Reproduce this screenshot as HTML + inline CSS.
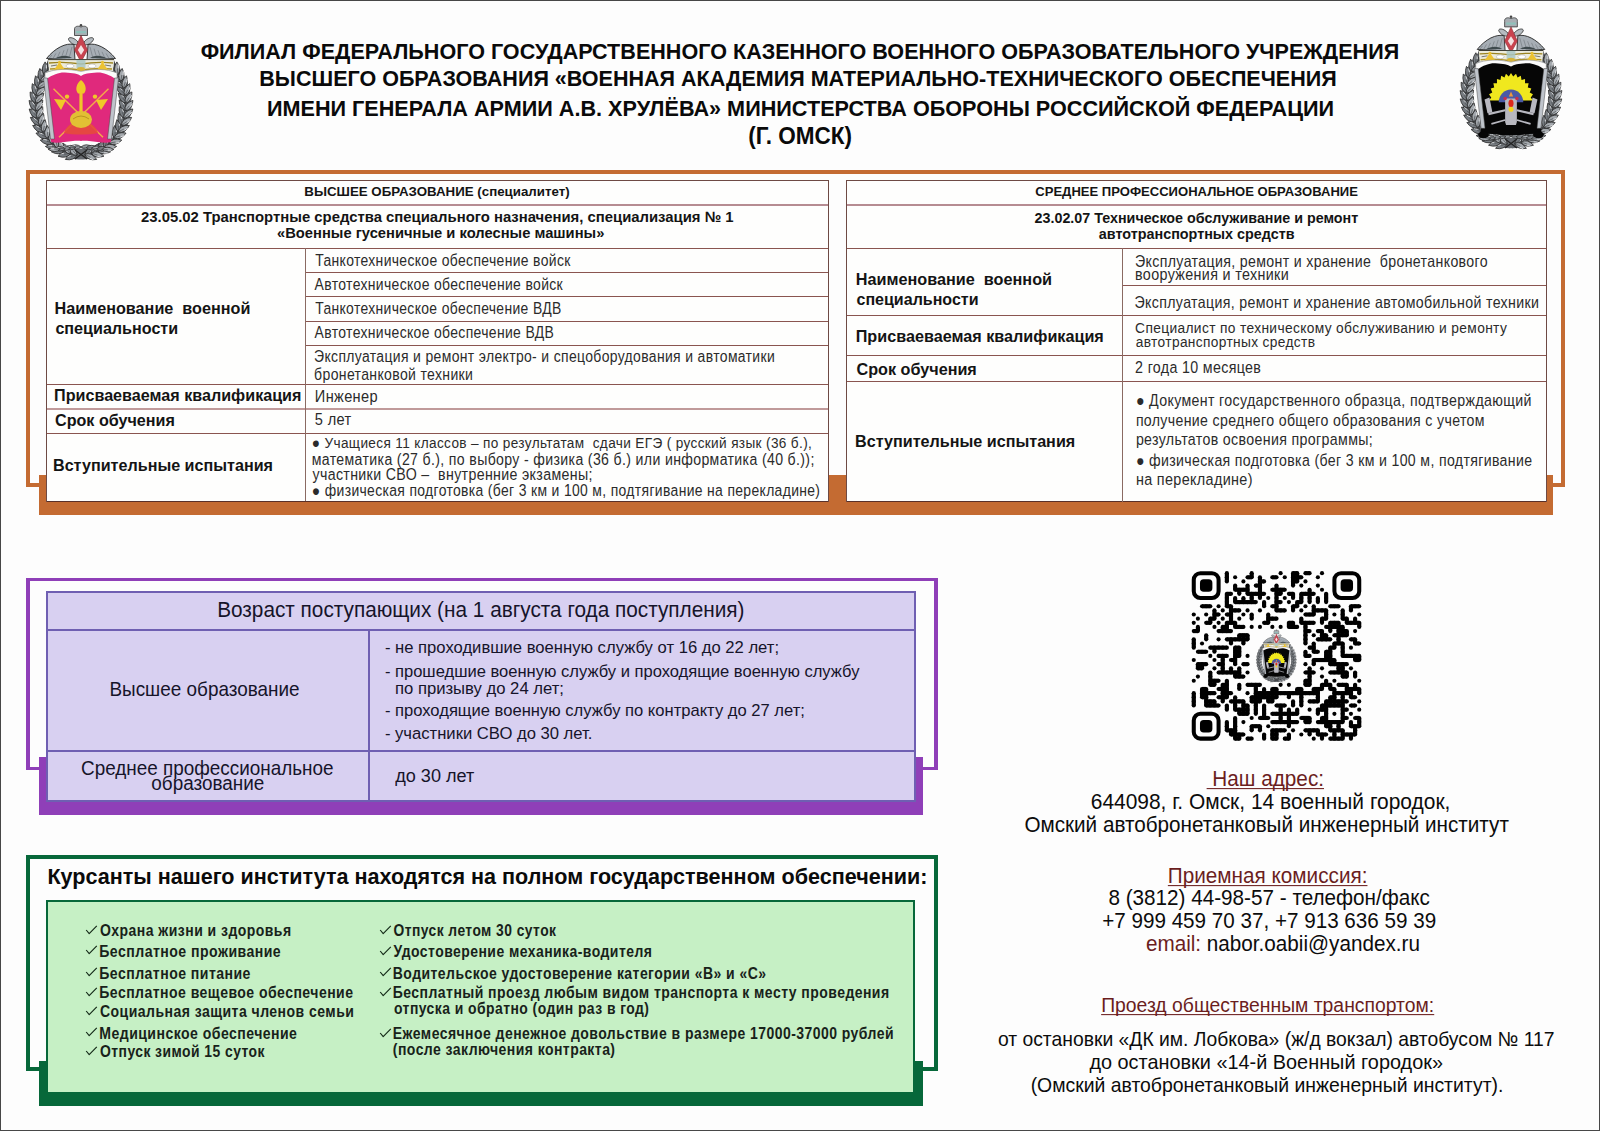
<!DOCTYPE html>
<html><head><meta charset="utf-8"><title>Omsk</title>
<style>
html,body{margin:0;padding:0;}
body{width:1600px;height:1131px;position:relative;overflow:hidden;background:#fdfdfd;font-family:"Liberation Sans",sans-serif;}
.a{position:absolute;}
.t{position:absolute;white-space:pre;}
svg{position:absolute;}
</style></head><body>
<div class="a" style="left:0px;top:0px;width:1600px;height:1px;background:#474747;"></div><div class="a" style="left:0px;top:1130px;width:1600px;height:1px;background:#474747;"></div><div class="a" style="left:0px;top:0px;width:1px;height:1131px;background:#474747;"></div><div class="a" style="left:1599px;top:0px;width:1px;height:1131px;background:#474747;"></div><div class="a" style="left:26px;top:170px;width:1539px;height:4px;background:#c46b32;"></div><div class="a" style="left:26px;top:170px;width:4px;height:317px;background:#c46b32;"></div><div class="a" style="left:1561px;top:170px;width:4px;height:317px;background:#c46b32;"></div><div class="a" style="left:26px;top:483px;width:14px;height:4px;background:#c46b32;"></div><div class="a" style="left:1552px;top:483px;width:13px;height:4px;background:#c46b32;"></div><div class="a" style="left:39px;top:475px;width:1514px;height:40px;background:#c46b32;"></div><div class="a" style="left:46px;top:180px;width:783px;height:321px;background:#fefefd;"></div><div class="a" style="left:846px;top:180px;width:701px;height:321px;background:#fefefd;"></div><div class="a" style="left:46px;top:180px;width:783px;height:1px;background:#6e4a44;"></div><div class="a" style="left:46px;top:204px;width:783px;height:2px;background:#b68c92;"></div><div class="a" style="left:46px;top:248px;width:783px;height:1px;background:#8a5550;"></div><div class="a" style="left:305px;top:272px;width:524px;height:1px;background:#8a5550;"></div><div class="a" style="left:305px;top:296px;width:524px;height:1px;background:#8a5550;"></div><div class="a" style="left:305px;top:321px;width:524px;height:1px;background:#8a5550;"></div><div class="a" style="left:305px;top:345px;width:524px;height:1px;background:#8a5550;"></div><div class="a" style="left:46px;top:384px;width:783px;height:1px;background:#8a5550;"></div><div class="a" style="left:46px;top:408px;width:783px;height:2px;background:#c09a9a;"></div><div class="a" style="left:46px;top:433px;width:783px;height:1px;background:#8a5550;"></div><div class="a" style="left:46px;top:501px;width:783px;height:1px;background:#5a3028;"></div><div class="a" style="left:46px;top:180px;width:1px;height:322px;background:#6e4a44;"></div><div class="a" style="left:828px;top:180px;width:1px;height:322px;background:#6e4a44;"></div><div class="a" style="left:305px;top:248px;width:1px;height:253px;background:#8a6a62;"></div><div class="a" style="left:846px;top:180px;width:701px;height:1px;background:#6e4a44;"></div><div class="a" style="left:846px;top:204px;width:701px;height:2px;background:#b68c92;"></div><div class="a" style="left:846px;top:248px;width:701px;height:1px;background:#8a5550;"></div><div class="a" style="left:1122px;top:285px;width:425px;height:1px;background:#8a5550;"></div><div class="a" style="left:846px;top:315px;width:701px;height:1px;background:#8a5550;"></div><div class="a" style="left:846px;top:355px;width:701px;height:1px;background:#8a5550;"></div><div class="a" style="left:846px;top:381px;width:701px;height:1px;background:#8a5550;"></div><div class="a" style="left:846px;top:501px;width:701px;height:1px;background:#5a3028;"></div><div class="a" style="left:846px;top:180px;width:1px;height:322px;background:#6e4a44;"></div><div class="a" style="left:1546px;top:180px;width:1px;height:322px;background:#6e4a44;"></div><div class="a" style="left:1122px;top:248px;width:1px;height:254px;background:#8a6a62;"></div><div class="a" style="left:26px;top:578px;width:912px;height:3px;background:#8f3fb8;"></div><div class="a" style="left:26px;top:578px;width:4px;height:192px;background:#8f3fb8;"></div><div class="a" style="left:934px;top:578px;width:4px;height:192px;background:#8f3fb8;"></div><div class="a" style="left:26px;top:767px;width:14px;height:3px;background:#8f3fb8;"></div><div class="a" style="left:922px;top:767px;width:16px;height:3px;background:#8f3fb8;"></div><div class="a" style="left:39px;top:757px;width:884px;height:58px;background:#8f3fb8;"></div><div class="a" style="left:46px;top:591px;width:870px;height:211px;background:#d8d0f1;border:2px solid #6f5fb2;box-sizing:border-box;"></div><div class="a" style="left:46px;top:629px;width:870px;height:2px;background:#6f5fb2;"></div><div class="a" style="left:46px;top:750px;width:870px;height:2px;background:#6f5fb2;"></div><div class="a" style="left:368px;top:630px;width:2px;height:170px;background:#6f5fb2;"></div><div class="a" style="left:26px;top:855px;width:912px;height:4px;background:#07683a;"></div><div class="a" style="left:26px;top:855px;width:4px;height:216px;background:#07683a;"></div><div class="a" style="left:934px;top:855px;width:4px;height:216px;background:#07683a;"></div><div class="a" style="left:26px;top:1067px;width:14px;height:4px;background:#07683a;"></div><div class="a" style="left:922px;top:1067px;width:16px;height:4px;background:#07683a;"></div><div class="a" style="left:39px;top:1061px;width:884px;height:45px;background:#07683a;"></div><div class="a" style="left:46px;top:900px;width:869px;height:192px;background:#c6f0c5;"></div><div class="a" style="left:46px;top:900px;width:869px;height:2px;background:#07683a;"></div><div class="a" style="left:46px;top:900px;width:2px;height:192px;background:#07683a;"></div><div class="a" style="left:913px;top:900px;width:2px;height:192px;background:#07683a;"></div><div class="t" style="top:41.23px;font-size:21.586px;line-height:21.586px;font-weight:700;color:#0a0a0a;left:200.70px;transform:scaleY(1.03);transform-origin:0 18.27px;">ФИЛИАЛ ФЕДЕРАЛЬНОГО ГОСУДАРСТВЕННОГО КАЗЕННОГО ВОЕННОГО ОБРАЗОВАТЕЛЬНОГО УЧРЕЖДЕНИЯ</div><div class="t" style="top:69.26px;font-size:21.547px;line-height:21.547px;font-weight:700;color:#0a0a0a;left:259.32px;transform:scaleY(1.03);transform-origin:0 18.24px;">ВЫСШЕГО ОБРАЗОВАНИЯ «ВОЕННАЯ АКАДЕМИЯ МАТЕРИАЛЬНО-ТЕХНИЧЕСКОГО ОБЕСПЕЧЕНИЯ</div><div class="t" style="top:98.19px;font-size:21.636px;line-height:21.636px;font-weight:700;color:#0a0a0a;left:266.92px;transform:scaleY(1.03);transform-origin:0 18.31px;">ИМЕНИ ГЕНЕРАЛА АРМИИ А.В. ХРУЛЁВА» МИНИСТЕРСТВА ОБОРОНЫ РОССИЙСКОЙ ФЕДЕРАЦИИ</div><div class="t" style="top:126.41px;font-size:22.547px;line-height:22.547px;font-weight:700;color:#0a0a0a;left:748.27px;transform:scaleY(1.03);transform-origin:0 19.09px;">(Г. ОМСК)</div><div class="t" style="top:185.23px;font-size:13.309px;line-height:13.309px;font-weight:700;color:#141414;left:304.33px;">ВЫСШЕЕ ОБРАЗОВАНИЕ (специалитет)</div><div class="t" style="top:209.91px;font-size:14.872px;line-height:14.872px;font-weight:700;color:#141414;left:141.00px;">23.05.02 Транспортные средства специального назначения, специализация № 1</div><div class="t" style="top:226.02px;font-size:14.741px;line-height:14.741px;font-weight:700;color:#141414;left:277.00px;">«Военные гусеничные и колесные машины»</div><div class="t" style="top:299.79px;font-size:16.194px;line-height:16.194px;font-weight:700;color:#141414;left:54.59px;">Наименование  военной</div><div class="t" style="top:319.83px;font-size:16.147px;line-height:16.147px;font-weight:700;color:#141414;left:55.40px;">специальности</div><div class="t" style="top:386.83px;font-size:16.152px;line-height:16.152px;font-weight:700;color:#141414;left:54.09px;">Присваеваемая квалификация</div><div class="t" style="top:411.84px;font-size:16.137px;line-height:16.137px;font-weight:700;color:#141414;left:55.00px;">Срок обучения</div><div class="t" style="top:456.82px;font-size:16.156px;line-height:16.156px;font-weight:700;color:#141414;left:52.99px;">Вступительные испытания</div><div class="t" style="top:254.71px;font-size:13.932px;line-height:13.932px;font-weight:400;color:#2b2b2b;left:315.20px;letter-spacing:0.35px;transform:scaleY(1.12);transform-origin:0 11.79px;">Танкотехническое обеспечение войск</div><div class="t" style="top:278.69px;font-size:13.951px;line-height:13.951px;font-weight:400;color:#2b2b2b;left:314.60px;letter-spacing:0.35px;transform:scaleY(1.12);transform-origin:0 11.81px;">Автотехническое обеспечение войск</div><div class="t" style="top:302.71px;font-size:13.928px;line-height:13.928px;font-weight:400;color:#2b2b2b;left:315.20px;letter-spacing:0.35px;transform:scaleY(1.12);transform-origin:0 11.79px;">Танкотехническое обеспечение ВДВ</div><div class="t" style="top:326.69px;font-size:13.953px;line-height:13.953px;font-weight:400;color:#2b2b2b;left:314.60px;letter-spacing:0.35px;transform:scaleY(1.12);transform-origin:0 11.81px;">Автотехническое обеспечение ВДВ</div><div class="t" style="top:350.68px;font-size:13.961px;line-height:13.961px;font-weight:400;color:#2b2b2b;left:314.10px;letter-spacing:0.35px;transform:scaleY(1.12);transform-origin:0 11.82px;">Эксплуатация и ремонт электро- и спецоборудования и автоматики</div><div class="t" style="top:367.61px;font-size:14.049px;line-height:14.049px;font-weight:400;color:#2b2b2b;left:314.10px;letter-spacing:0.35px;transform:scaleY(1.12);transform-origin:0 11.89px;">бронетанковой техники</div><div class="t" style="top:390.14px;font-size:14.6px;line-height:14.6px;font-weight:400;color:#2b2b2b;left:314.80px;letter-spacing:0.35px;transform:scaleY(1.12);transform-origin:0 12.36px;">Инженер</div><div class="t" style="top:413.14px;font-size:14.6px;line-height:14.6px;font-weight:400;color:#2b2b2b;left:314.80px;letter-spacing:0.35px;transform:scaleY(1.12);transform-origin:0 12.36px;">5 лет</div><div class="t" style="top:436.98px;font-size:13.614px;line-height:13.614px;font-weight:400;color:#2b2b2b;left:311.82px;letter-spacing:0.35px;transform:scaleY(1.12);transform-origin:0 11.52px;">● Учащиеся 11 классов – по результатам  сдачи ЕГЭ ( русский язык (36 б.),</div><div class="t" style="top:452.56px;font-size:14.111px;line-height:14.111px;font-weight:400;color:#2b2b2b;left:311.79px;letter-spacing:0.35px;transform:scaleY(1.12);transform-origin:0 11.94px;">математика (27 б.), по выбору - физика (36 б.) или информатика (40 б.));</div><div class="t" style="top:468.49px;font-size:14.183px;line-height:14.183px;font-weight:400;color:#2b2b2b;left:312.50px;letter-spacing:0.35px;transform:scaleY(1.12);transform-origin:0 12.01px;">участники СВО –  внутренние экзамены;</div><div class="t" style="top:484.72px;font-size:13.919px;line-height:13.919px;font-weight:400;color:#2b2b2b;left:311.80px;letter-spacing:0.35px;transform:scaleY(1.12);transform-origin:0 11.78px;">● физическая подготовка (бег 3 км и 100 м, подтягивание на перекладине)</div><div class="t" style="top:185.45px;font-size:13.059px;line-height:13.059px;font-weight:700;color:#141414;left:1035.30px;">СРЕДНЕЕ ПРОФЕССИОНАЛЬНОЕ ОБРАЗОВАНИЕ</div><div class="t" style="top:211.38px;font-size:14.312px;line-height:14.312px;font-weight:700;color:#141414;left:1034.60px;">23.02.07 Техническое обслуживание и ремонт</div><div class="t" style="top:227.34px;font-size:14.366px;line-height:14.366px;font-weight:700;color:#141414;left:1098.80px;">автотранспортных средств</div><div class="t" style="top:270.75px;font-size:16.244px;line-height:16.244px;font-weight:700;color:#141414;left:855.69px;">Наименование  военной</div><div class="t" style="top:290.92px;font-size:16.04px;line-height:16.04px;font-weight:700;color:#141414;left:856.50px;">специальности</div><div class="t" style="top:327.79px;font-size:16.191px;line-height:16.191px;font-weight:700;color:#141414;left:855.69px;">Присваеваемая квалификация</div><div class="t" style="top:360.78px;font-size:16.205px;line-height:16.205px;font-weight:700;color:#141414;left:856.50px;">Срок обучения</div><div class="t" style="top:432.81px;font-size:16.171px;line-height:16.171px;font-weight:700;color:#141414;left:854.99px;">Вступительные испытания</div><div class="t" style="top:254.50px;font-size:14.175px;line-height:14.175px;font-weight:400;color:#2b2b2b;left:1135.09px;letter-spacing:0.35px;transform:scaleY(1.12);transform-origin:0 12.00px;">Эксплуатация, ремонт и хранение  бронетанкового</div><div class="t" style="top:268.37px;font-size:14.327px;line-height:14.327px;font-weight:400;color:#2b2b2b;left:1135.08px;letter-spacing:0.35px;transform:scaleY(1.12);transform-origin:0 12.13px;">вооружения и техники</div><div class="t" style="top:295.50px;font-size:14.173px;line-height:14.173px;font-weight:400;color:#2b2b2b;left:1134.59px;letter-spacing:0.35px;transform:scaleY(1.12);transform-origin:0 12.00px;">Эксплуатация, ремонт и хранение автомобильной техники</div><div class="t" style="top:321.84px;font-size:13.778px;line-height:13.778px;font-weight:400;color:#2b2b2b;left:1135.11px;letter-spacing:0.35px;transform:scaleY(1.12);transform-origin:0 11.66px;">Специалист по техническому обслуживанию и ремонту</div><div class="t" style="top:335.88px;font-size:13.726px;line-height:13.726px;font-weight:400;color:#2b2b2b;left:1135.80px;letter-spacing:0.35px;transform:scaleY(1.12);transform-origin:0 11.62px;">автотранспортных средств</div><div class="t" style="top:361.45px;font-size:14.239px;line-height:14.239px;font-weight:400;color:#2b2b2b;left:1135.09px;letter-spacing:0.35px;transform:scaleY(1.12);transform-origin:0 12.05px;">2 года 10 месяцев</div><div class="t" style="top:394.48px;font-size:14.201px;line-height:14.201px;font-weight:400;color:#2b2b2b;left:1135.89px;letter-spacing:0.35px;transform:scaleY(1.12);transform-origin:0 12.02px;">● Документ государственного образца, подтверждающий</div><div class="t" style="top:413.52px;font-size:14.147px;line-height:14.147px;font-weight:400;color:#2b2b2b;left:1135.89px;letter-spacing:0.35px;transform:scaleY(1.12);transform-origin:0 11.98px;">получение среднего общего образования с учетом</div><div class="t" style="top:433.49px;font-size:14.19px;line-height:14.19px;font-weight:400;color:#2b2b2b;left:1135.89px;letter-spacing:0.35px;transform:scaleY(1.12);transform-origin:0 12.01px;">результатов освоения программы;</div><div class="t" style="top:453.54px;font-size:14.126px;line-height:14.126px;font-weight:400;color:#2b2b2b;left:1135.89px;letter-spacing:0.35px;transform:scaleY(1.12);transform-origin:0 11.96px;">● физическая подготовка (бег 3 км и 100 м, подтягивание</div><div class="t" style="top:473.32px;font-size:14.392px;line-height:14.392px;font-weight:400;color:#2b2b2b;left:1135.88px;letter-spacing:0.35px;transform:scaleY(1.12);transform-origin:0 12.18px;">на перекладине)</div><div class="t" style="top:599.91px;font-size:20.785px;line-height:20.785px;font-weight:400;color:#16142a;left:217.16px;transform:scaleY(1.025);transform-origin:0 17.59px;">Возраст поступающих (на 1 августа года поступления)</div><div class="t" style="top:640.42px;font-size:16.639px;line-height:16.639px;font-weight:400;color:#16142a;left:384.90px;transform:scaleY(1.025);transform-origin:0 14.08px;">- не проходившие военную службу от 16 до 22 лет;</div><div class="t" style="top:664.49px;font-size:16.552px;line-height:16.552px;font-weight:400;color:#16142a;left:384.90px;transform:scaleY(1.025);transform-origin:0 14.01px;">- прошедшие военную службу и проходящие военную службу</div><div class="t" style="top:681.39px;font-size:16.67px;line-height:16.67px;font-weight:400;color:#16142a;left:394.97px;transform:scaleY(1.025);transform-origin:0 14.11px;">по призыву до 24 лет;</div><div class="t" style="top:703.46px;font-size:16.59px;line-height:16.59px;font-weight:400;color:#16142a;left:384.90px;transform:scaleY(1.025);transform-origin:0 14.04px;">- проходящие военную службу по контракту до 27 лет;</div><div class="t" style="top:726.41px;font-size:16.64px;line-height:16.64px;font-weight:400;color:#16142a;left:384.90px;transform:scaleY(1.025);transform-origin:0 14.09px;">- участники СВО до 30 лет.</div><div class="t" style="top:681.49px;font-size:18.913px;line-height:18.913px;font-weight:400;color:#16142a;left:109.45px;transform:scaleY(1.025);transform-origin:0 16.01px;">Высшее образование</div><div class="t" style="top:759.50px;font-size:18.907px;line-height:18.907px;font-weight:400;color:#16142a;left:81.05px;transform:scaleY(1.025);transform-origin:0 16.00px;">Среднее профессиональное</div><div class="t" style="top:775.48px;font-size:18.927px;line-height:18.927px;font-weight:400;color:#16142a;left:151.30px;transform:scaleY(1.025);transform-origin:0 16.02px;">образование</div><div class="t" style="top:767.18px;font-size:18.102px;line-height:18.102px;font-weight:400;color:#16142a;left:395.20px;transform:scaleY(1.025);transform-origin:0 15.32px;">до 30 лет</div><div class="t" style="top:866.24px;font-size:21.575px;line-height:21.575px;font-weight:700;color:#0a0a0a;left:47.42px;transform:scaleY(1.05);transform-origin:0 18.26px;">Курсанты нашего института находятся на полном государственном обеспечении:</div><div class="t" style="top:923.63px;font-size:14.023px;line-height:14.023px;font-weight:700;color:#18221a;left:100.00px;letter-spacing:0.45px;transform:scaleY(1.13);transform-origin:0 11.87px;">Охрана жизни и здоровья</div><div class="t" style="top:944.55px;font-size:14.115px;line-height:14.115px;font-weight:700;color:#18221a;left:99.29px;letter-spacing:0.45px;transform:scaleY(1.13);transform-origin:0 11.95px;">Бесплатное проживание</div><div class="t" style="top:966.57px;font-size:14.094px;line-height:14.094px;font-weight:700;color:#18221a;left:99.30px;letter-spacing:0.45px;transform:scaleY(1.13);transform-origin:0 11.93px;">Бесплатное питание</div><div class="t" style="top:985.59px;font-size:14.065px;line-height:14.065px;font-weight:700;color:#18221a;left:99.30px;letter-spacing:0.45px;transform:scaleY(1.13);transform-origin:0 11.91px;">Бесплатное вещевое обеспечение</div><div class="t" style="top:1004.60px;font-size:14.058px;line-height:14.058px;font-weight:700;color:#18221a;left:100.00px;letter-spacing:0.45px;transform:scaleY(1.13);transform-origin:0 11.90px;">Социальная защита членов семьи</div><div class="t" style="top:1026.57px;font-size:14.09px;line-height:14.09px;font-weight:700;color:#18221a;left:99.30px;letter-spacing:0.45px;transform:scaleY(1.13);transform-origin:0 11.93px;">Медицинское обеспечение</div><div class="t" style="top:1045.72px;font-size:13.917px;line-height:13.917px;font-weight:700;color:#18221a;left:100.00px;letter-spacing:0.45px;transform:scaleY(1.13);transform-origin:0 11.78px;">Отпуск зимой 15 суток</div><div class="t" style="top:924.79px;font-size:13.834px;line-height:13.834px;font-weight:700;color:#18221a;left:393.50px;letter-spacing:0.45px;transform:scaleY(1.13);transform-origin:0 11.71px;">Отпуск летом 30 суток</div><div class="t" style="top:944.67px;font-size:13.98px;line-height:13.98px;font-weight:700;color:#18221a;left:393.50px;letter-spacing:0.45px;transform:scaleY(1.13);transform-origin:0 11.83px;">Удостоверение механика-водителя</div><div class="t" style="top:966.65px;font-size:14.002px;line-height:14.002px;font-weight:700;color:#18221a;left:392.80px;letter-spacing:0.45px;transform:scaleY(1.13);transform-origin:0 11.85px;">Водительское удостоверение категории «В» и «С»</div><div class="t" style="top:985.63px;font-size:14.017px;line-height:14.017px;font-weight:700;color:#18221a;left:392.80px;letter-spacing:0.45px;transform:scaleY(1.13);transform-origin:0 11.87px;">Бесплатный проезд любым видом транспорта к месту проведения</div><div class="t" style="top:1026.65px;font-size:14.0px;line-height:14.0px;font-weight:700;color:#18221a;left:392.80px;letter-spacing:0.45px;transform:scaleY(1.13);transform-origin:0 11.85px;">Ежемесячное денежное довольствие в размере 17000-37000 рублей</div><div class="t" style="top:1002.70px;font-size:13.937px;line-height:13.937px;font-weight:700;color:#18221a;left:394.00px;letter-spacing:0.45px;transform:scaleY(1.13);transform-origin:0 11.80px;">отпуска и обратно (один раз в год)</div><div class="t" style="top:1042.64px;font-size:14.015px;line-height:14.015px;font-weight:700;color:#18221a;left:392.80px;letter-spacing:0.45px;transform:scaleY(1.13);transform-origin:0 11.86px;">(после заключения контракта)</div><svg style="left:84.5px;top:925px" width="13" height="10" viewBox="0 0 13 10"><path d="M1.2 5 L4.2 8.6 L11.8 0.8" fill="none" stroke="#142a18" stroke-width="1.15" stroke-linejoin="round"/></svg><svg style="left:84.5px;top:945.2px" width="13" height="10" viewBox="0 0 13 10"><path d="M1.2 5 L4.2 8.6 L11.8 0.8" fill="none" stroke="#142a18" stroke-width="1.15" stroke-linejoin="round"/></svg><svg style="left:84.5px;top:967.2px" width="13" height="10" viewBox="0 0 13 10"><path d="M1.2 5 L4.2 8.6 L11.8 0.8" fill="none" stroke="#142a18" stroke-width="1.15" stroke-linejoin="round"/></svg><svg style="left:84.5px;top:986.6px" width="13" height="10" viewBox="0 0 13 10"><path d="M1.2 5 L4.2 8.6 L11.8 0.8" fill="none" stroke="#142a18" stroke-width="1.15" stroke-linejoin="round"/></svg><svg style="left:84.5px;top:1005.6px" width="13" height="10" viewBox="0 0 13 10"><path d="M1.2 5 L4.2 8.6 L11.8 0.8" fill="none" stroke="#142a18" stroke-width="1.15" stroke-linejoin="round"/></svg><svg style="left:84.5px;top:1027.3px" width="13" height="10" viewBox="0 0 13 10"><path d="M1.2 5 L4.2 8.6 L11.8 0.8" fill="none" stroke="#142a18" stroke-width="1.15" stroke-linejoin="round"/></svg><svg style="left:84.5px;top:1046.4px" width="13" height="10" viewBox="0 0 13 10"><path d="M1.2 5 L4.2 8.6 L11.8 0.8" fill="none" stroke="#142a18" stroke-width="1.15" stroke-linejoin="round"/></svg><svg style="left:378.8px;top:925.2px" width="13" height="10" viewBox="0 0 13 10"><path d="M1.2 5 L4.2 8.6 L11.8 0.8" fill="none" stroke="#142a18" stroke-width="1.15" stroke-linejoin="round"/></svg><svg style="left:378.8px;top:945.5px" width="13" height="10" viewBox="0 0 13 10"><path d="M1.2 5 L4.2 8.6 L11.8 0.8" fill="none" stroke="#142a18" stroke-width="1.15" stroke-linejoin="round"/></svg><svg style="left:378.8px;top:967.2px" width="13" height="10" viewBox="0 0 13 10"><path d="M1.2 5 L4.2 8.6 L11.8 0.8" fill="none" stroke="#142a18" stroke-width="1.15" stroke-linejoin="round"/></svg><svg style="left:378.8px;top:986.8px" width="13" height="10" viewBox="0 0 13 10"><path d="M1.2 5 L4.2 8.6 L11.8 0.8" fill="none" stroke="#142a18" stroke-width="1.15" stroke-linejoin="round"/></svg><svg style="left:378.8px;top:1027.8px" width="13" height="10" viewBox="0 0 13 10"><path d="M1.2 5 L4.2 8.6 L11.8 0.8" fill="none" stroke="#142a18" stroke-width="1.15" stroke-linejoin="round"/></svg><div class="t" style="top:768.96px;font-size:20.721px;line-height:20.721px;font-weight:400;color:#6b1e1e;left:1206.61px;transform:scaleY(1.05);transform-origin:0 17.54px;text-decoration:underline;text-decoration-thickness:1px;text-underline-offset:2px;text-decoration-skip-ink:none;"> Наш адрес:</div><div class="t" style="top:791.77px;font-size:20.941px;line-height:20.941px;font-weight:400;color:#0c0c0c;left:1090.75px;transform:scaleY(1.05);transform-origin:0 17.73px;">644098, г. Омск, 14 военный городок,</div><div class="t" style="top:814.99px;font-size:20.689px;line-height:20.689px;font-weight:400;color:#0c0c0c;left:1024.40px;transform:scaleY(1.05);transform-origin:0 17.51px;">Омский автобронетанковый инженерный институт</div><div class="t" style="top:865.96px;font-size:20.724px;line-height:20.724px;font-weight:400;color:#6b1e1e;left:1167.86px;transform:scaleY(1.05);transform-origin:0 17.54px;text-decoration:underline;text-decoration-thickness:1px;text-underline-offset:2px;text-decoration-skip-ink:none;">Приемная комиссия:</div><div class="t" style="top:887.98px;font-size:20.695px;line-height:20.695px;font-weight:400;color:#0c0c0c;left:1108.40px;transform:scaleY(1.05);transform-origin:0 17.52px;">8 (3812) 44-98-57 - телефон/факс</div><div class="t" style="top:911.02px;font-size:20.652px;line-height:20.652px;font-weight:400;color:#0c0c0c;left:1102.20px;transform:scaleY(1.05);transform-origin:0 17.48px;">+7 999 459 70 37, +7 913 636 59 39</div><div class="t" style="top:933.98px;font-size:20.7px;line-height:20.7px;font-weight:400;color:#0c0c0c;left:1145.90px;transform:scaleY(1.05);transform-origin:0 17.52px;"><span style="color:#6b1e1e">email:</span> nabor.oabii@yandex.ru</div><div class="t" style="top:996.11px;font-size:19.365px;line-height:19.365px;font-weight:400;color:#6b1e1e;left:1101.13px;transform:scaleY(1.05);transform-origin:0 16.39px;text-decoration:underline;text-decoration-thickness:1px;text-underline-offset:2px;text-decoration-skip-ink:none;">Проезд общественным транспортом:</div><div class="t" style="top:1030.13px;font-size:19.338px;line-height:19.338px;font-weight:400;color:#0c0c0c;left:997.90px;transform:scaleY(1.05);transform-origin:0 16.37px;">от остановки «ДК им. Лобкова» (ж/д вокзал) автобусом № 117</div><div class="t" style="top:1052.66px;font-size:19.889px;line-height:19.889px;font-weight:400;color:#0c0c0c;left:1089.40px;transform:scaleY(1.05);transform-origin:0 16.84px;">до остановки «14-й Военный городок»</div><div class="t" style="top:1076.07px;font-size:19.405px;line-height:19.405px;font-weight:400;color:#0c0c0c;left:1030.63px;transform:scaleY(1.05);transform-origin:0 16.43px;">(Омский автобронетанковый инженерный институт).</div>
<svg style="left:20px;top:15px" width="125" height="150" viewBox="20 15 125 150"><path d="M79.43,153.97 L76.46,153.74 L73.50,153.30 L70.58,152.64 L67.71,151.77 L64.89,150.69 L62.15,149.40 L59.48,147.91 L56.92,146.24 L54.45,144.37 L52.11,142.33 L49.89,140.12 L47.80,137.75 L45.86,135.24 L44.08,132.59 L42.46,129.81 L41.01,126.92 L39.73,123.93 L38.63,120.85 L37.72,117.70 L37.00,114.48 L36.47,111.22 L36.14,107.93 L36.00,104.63 L36.06,101.32 L36.32,98.02 L36.78,94.75 L37.43,91.51 L38.27,88.34 L39.29,85.23 L40.50,82.20 L41.89,79.27 L43.45,76.45 L45.17,73.75 L47.05,71.18 L49.08,68.76 L51.25,66.49 L53.55,64.38 L55.97,62.45 L58.50,60.70" fill="none" stroke="#65696e" stroke-width="11" stroke-linecap="round"/><path d="M82.57,153.97 L85.54,153.74 L88.50,153.30 L91.42,152.64 L94.29,151.77 L97.11,150.69 L99.85,149.40 L102.52,147.91 L105.08,146.24 L107.55,144.37 L109.89,142.33 L112.11,140.12 L114.20,137.75 L116.14,135.24 L117.92,132.59 L119.54,129.81 L120.99,126.92 L122.27,123.93 L123.37,120.85 L124.28,117.70 L125.00,114.48 L125.53,111.22 L125.86,107.93 L126.00,104.63 L125.94,101.32 L125.68,98.02 L125.22,94.75 L124.57,91.51 L123.73,88.34 L122.71,85.23 L121.50,82.20 L120.11,79.27 L118.55,76.45 L116.83,73.75 L114.95,71.18 L112.92,68.76 L110.75,66.49 L108.45,64.38 L106.03,62.45 L103.50,60.70" fill="none" stroke="#65696e" stroke-width="11" stroke-linecap="round"/><path d="M77.25,154.31 Q70.41,151.60 65.32,159.46 Q74.54,161.14 77.25,154.31Z" fill="#777c81" stroke="#262626" stroke-width="0.8"/><path d="M77.25,154.31 L71.13,156.52" stroke="#3a3d40" stroke-width="0.6" fill="none"/><path d="M70.64,155.39 L67.06,156.94" stroke="#e6e8ea" stroke-width="0.9" fill="none"/><path d="M77.01,155.48 Q77.22,148.13 68.08,146.03 Q69.66,155.27 77.01,155.48Z" fill="#a4a9ae" stroke="#262626" stroke-width="0.8"/><path d="M77.01,155.48 L72.84,150.48" stroke="#3a3d40" stroke-width="0.6" fill="none"/><path d="M73.73,149.64 L71.05,146.80" stroke="#e6e8ea" stroke-width="0.9" fill="none"/><path d="M70.68,153.11 Q64.38,149.30 58.05,156.21 Q66.87,159.40 70.68,153.11Z" fill="#777c81" stroke="#262626" stroke-width="0.8"/><path d="M70.68,153.11 L64.27,154.27" stroke="#3a3d40" stroke-width="0.6" fill="none"/><path d="M63.98,153.08 L60.19,154.01" stroke="#e6e8ea" stroke-width="0.9" fill="none"/><path d="M70.24,154.22 Q71.67,147.01 63.01,143.42 Q63.03,152.79 70.24,154.22Z" fill="#a4a9ae" stroke="#262626" stroke-width="0.8"/><path d="M70.24,154.22 L66.96,148.60" stroke="#3a3d40" stroke-width="0.6" fill="none"/><path d="M67.98,147.91 L65.81,144.67" stroke="#e6e8ea" stroke-width="0.9" fill="none"/><path d="M64.33,150.80 Q58.74,146.03 51.37,151.82 Q59.55,156.39 64.33,150.80Z" fill="#777c81" stroke="#262626" stroke-width="0.8"/><path d="M64.33,150.80 L57.82,150.91" stroke="#3a3d40" stroke-width="0.6" fill="none"/><path d="M57.72,149.69 L53.83,150.00" stroke="#e6e8ea" stroke-width="0.9" fill="none"/><path d="M63.72,151.83 Q66.30,144.94 58.33,140.00 Q56.83,149.25 63.72,151.83Z" fill="#a4a9ae" stroke="#262626" stroke-width="0.8"/><path d="M63.72,151.83 L61.39,145.75" stroke="#3a3d40" stroke-width="0.6" fill="none"/><path d="M62.50,145.24 L60.89,141.69" stroke="#e6e8ea" stroke-width="0.9" fill="none"/><path d="M58.35,147.44 Q53.57,141.85 45.39,146.42 Q52.75,152.22 58.35,147.44Z" fill="#777c81" stroke="#262626" stroke-width="0.8"/><path d="M58.35,147.44 L51.90,146.53" stroke="#3a3d40" stroke-width="0.6" fill="none"/><path d="M52.00,145.31 L48.11,145.00" stroke="#e6e8ea" stroke-width="0.9" fill="none"/><path d="M57.59,148.36 Q61.21,141.96 54.12,135.83 Q51.19,144.74 57.59,148.36Z" fill="#a4a9ae" stroke="#262626" stroke-width="0.8"/><path d="M57.59,148.36 L56.24,141.99" stroke="#3a3d40" stroke-width="0.6" fill="none"/><path d="M57.42,141.67 L56.38,137.91" stroke="#e6e8ea" stroke-width="0.9" fill="none"/><path d="M52.88,143.10 Q49.00,136.85 40.22,140.13 Q46.62,146.98 52.88,143.10Z" fill="#777c81" stroke="#262626" stroke-width="0.8"/><path d="M52.88,143.10 L46.64,141.23" stroke="#3a3d40" stroke-width="0.6" fill="none"/><path d="M46.92,140.03 L43.12,139.14" stroke="#e6e8ea" stroke-width="0.9" fill="none"/><path d="M51.99,143.90 Q56.54,138.12 50.45,130.99 Q46.21,139.35 51.99,143.90Z" fill="#a4a9ae" stroke="#262626" stroke-width="0.8"/><path d="M51.99,143.90 L51.62,137.40" stroke="#3a3d40" stroke-width="0.6" fill="none"/><path d="M52.83,137.25 L52.37,133.38" stroke="#e6e8ea" stroke-width="0.9" fill="none"/><path d="M48.04,137.88 Q45.12,131.13 35.95,133.09 Q41.29,140.80 48.04,137.88Z" fill="#777c81" stroke="#262626" stroke-width="0.8"/><path d="M48.04,137.88 L42.14,135.12" stroke="#3a3d40" stroke-width="0.6" fill="none"/><path d="M42.59,133.98 L38.96,132.54" stroke="#e6e8ea" stroke-width="0.9" fill="none"/><path d="M47.04,138.54 Q52.38,133.49 47.40,125.54 Q41.99,133.19 47.04,138.54Z" fill="#a4a9ae" stroke="#262626" stroke-width="0.8"/><path d="M47.04,138.54 L47.62,132.05" stroke="#3a3d40" stroke-width="0.6" fill="none"/><path d="M48.85,132.09 L48.96,128.19" stroke="#e6e8ea" stroke-width="0.9" fill="none"/><path d="M43.94,131.90 Q42.00,124.80 32.65,125.45 Q36.84,133.84 43.94,131.90Z" fill="#777c81" stroke="#262626" stroke-width="0.8"/><path d="M43.94,131.90 L38.49,128.33" stroke="#3a3d40" stroke-width="0.6" fill="none"/><path d="M39.10,127.26 L35.71,125.33" stroke="#e6e8ea" stroke-width="0.9" fill="none"/><path d="M42.86,132.41 Q48.86,128.16 45.05,119.59 Q38.61,126.40 42.86,132.41Z" fill="#a4a9ae" stroke="#262626" stroke-width="0.8"/><path d="M42.86,132.41 L44.35,126.07" stroke="#3a3d40" stroke-width="0.6" fill="none"/><path d="M45.56,126.27 L46.21,122.43" stroke="#e6e8ea" stroke-width="0.9" fill="none"/><path d="M40.68,125.28 Q39.73,117.99 30.37,117.36 Q33.39,126.23 40.68,125.28Z" fill="#777c81" stroke="#262626" stroke-width="0.8"/><path d="M40.68,125.28 L35.77,121.00" stroke="#3a3d40" stroke-width="0.6" fill="none"/><path d="M36.52,120.03 L33.42,117.65" stroke="#e6e8ea" stroke-width="0.9" fill="none"/><path d="M39.54,125.64 Q46.07,122.25 43.46,113.25 Q36.15,119.11 39.54,125.64Z" fill="#a4a9ae" stroke="#262626" stroke-width="0.8"/><path d="M39.54,125.64 L41.88,119.56" stroke="#3a3d40" stroke-width="0.6" fill="none"/><path d="M43.05,119.93 L44.23,116.21" stroke="#e6e8ea" stroke-width="0.9" fill="none"/><path d="M38.33,118.19 Q38.36,110.84 29.18,108.96 Q30.97,118.16 38.33,118.19Z" fill="#777c81" stroke="#262626" stroke-width="0.8"/><path d="M38.33,118.19 L34.04,113.29" stroke="#3a3d40" stroke-width="0.6" fill="none"/><path d="M34.91,112.43 L32.16,109.66" stroke="#e6e8ea" stroke-width="0.9" fill="none"/><path d="M37.15,118.39 Q44.07,115.91 42.70,106.64 Q34.67,111.47 37.15,118.39Z" fill="#a4a9ae" stroke="#262626" stroke-width="0.8"/><path d="M37.15,118.39 L40.29,112.69" stroke="#3a3d40" stroke-width="0.6" fill="none"/><path d="M41.39,113.21 L43.06,109.68" stroke="#e6e8ea" stroke-width="0.9" fill="none"/><path d="M36.94,110.78 Q37.94,103.50 29.09,100.42 Q29.65,109.78 36.94,110.78Z" fill="#777c81" stroke="#262626" stroke-width="0.8"/><path d="M36.94,110.78 L33.33,105.36" stroke="#3a3d40" stroke-width="0.6" fill="none"/><path d="M34.31,104.62 L31.95,101.51" stroke="#e6e8ea" stroke-width="0.9" fill="none"/><path d="M35.74,110.83 Q42.93,109.28 42.80,99.91 Q34.20,103.64 35.74,110.83Z" fill="#a4a9ae" stroke="#262626" stroke-width="0.8"/><path d="M35.74,110.83 L39.61,105.59" stroke="#3a3d40" stroke-width="0.6" fill="none"/><path d="M40.64,106.25 L42.75,102.98" stroke="#e6e8ea" stroke-width="0.9" fill="none"/><path d="M36.54,103.23 Q38.50,96.14 30.13,91.92 Q29.45,101.27 36.54,103.23Z" fill="#777c81" stroke="#262626" stroke-width="0.8"/><path d="M36.54,103.23 L33.68,97.38" stroke="#3a3d40" stroke-width="0.6" fill="none"/><path d="M34.75,96.77 L32.82,93.38" stroke="#e6e8ea" stroke-width="0.9" fill="none"/><path d="M35.35,103.12 Q42.68,102.53 43.78,93.22 Q34.77,95.79 35.35,103.12Z" fill="#a4a9ae" stroke="#262626" stroke-width="0.8"/><path d="M35.35,103.12 L39.87,98.43" stroke="#3a3d40" stroke-width="0.6" fill="none"/><path d="M40.80,99.22 L43.33,96.26" stroke="#e6e8ea" stroke-width="0.9" fill="none"/><path d="M37.14,95.70 Q40.02,88.93 32.29,83.64 Q30.37,92.81 37.14,95.70Z" fill="#777c81" stroke="#262626" stroke-width="0.8"/><path d="M37.14,95.70 L35.08,89.52" stroke="#3a3d40" stroke-width="0.6" fill="none"/><path d="M36.22,89.06 L34.76,85.44" stroke="#e6e8ea" stroke-width="0.9" fill="none"/><path d="M35.98,95.43 Q43.32,95.82 45.65,86.74 Q36.37,88.08 35.98,95.43Z" fill="#a4a9ae" stroke="#262626" stroke-width="0.8"/><path d="M35.98,95.43 L41.08,91.38" stroke="#3a3d40" stroke-width="0.6" fill="none"/><path d="M41.90,92.29 L44.80,89.69" stroke="#e6e8ea" stroke-width="0.9" fill="none"/><path d="M38.72,88.35 Q42.49,82.04 35.54,75.75 Q32.41,84.58 38.72,88.35Z" fill="#777c81" stroke="#262626" stroke-width="0.8"/><path d="M38.72,88.35 L37.52,81.95" stroke="#3a3d40" stroke-width="0.6" fill="none"/><path d="M38.71,81.65 L37.76,77.87" stroke="#e6e8ea" stroke-width="0.9" fill="none"/><path d="M37.61,87.93 Q44.83,89.32 48.37,80.63 Q38.99,80.71 37.61,87.93Z" fill="#a4a9ae" stroke="#262626" stroke-width="0.8"/><path d="M37.61,87.93 L43.21,84.61" stroke="#3a3d40" stroke-width="0.6" fill="none"/><path d="M43.90,85.63 L47.13,83.44" stroke="#e6e8ea" stroke-width="0.9" fill="none"/><path d="M41.25,81.37 Q45.86,75.64 39.85,68.44 Q35.52,76.76 41.25,81.37Z" fill="#777c81" stroke="#262626" stroke-width="0.8"/><path d="M41.25,81.37 L40.95,74.86" stroke="#3a3d40" stroke-width="0.6" fill="none"/><path d="M42.17,74.73 L41.75,70.85" stroke="#e6e8ea" stroke-width="0.9" fill="none"/><path d="M40.20,80.79 Q47.17,83.17 51.87,75.06 Q42.58,73.83 40.20,80.79Z" fill="#a4a9ae" stroke="#262626" stroke-width="0.8"/><path d="M40.20,80.79 L46.21,78.28" stroke="#3a3d40" stroke-width="0.6" fill="none"/><path d="M46.75,79.38 L50.25,77.66" stroke="#e6e8ea" stroke-width="0.9" fill="none"/><path d="M44.67,74.89 Q50.05,69.88 45.13,61.90 Q39.65,69.51 44.67,74.89Z" fill="#777c81" stroke="#262626" stroke-width="0.8"/><path d="M44.67,74.89 L45.30,68.41" stroke="#3a3d40" stroke-width="0.6" fill="none"/><path d="M46.52,68.45 L46.66,64.56" stroke="#e6e8ea" stroke-width="0.9" fill="none"/><path d="M43.71,74.17 Q50.26,77.52 56.08,70.16 Q47.06,67.62 43.71,74.17Z" fill="#a4a9ae" stroke="#262626" stroke-width="0.8"/><path d="M43.71,74.17 L50.02,72.55" stroke="#3a3d40" stroke-width="0.6" fill="none"/><path d="M50.40,73.72 L54.11,72.51" stroke="#e6e8ea" stroke-width="0.9" fill="none"/><path d="M48.89,69.07 Q54.96,64.91 51.27,56.29 Q44.73,63.01 48.89,69.07Z" fill="#777c81" stroke="#262626" stroke-width="0.8"/><path d="M48.89,69.07 L50.47,62.75" stroke="#3a3d40" stroke-width="0.6" fill="none"/><path d="M51.68,62.98 L52.39,59.14" stroke="#e6e8ea" stroke-width="0.9" fill="none"/><path d="M48.06,68.22 Q54.04,72.49 60.88,66.08 Q52.33,62.24 48.06,68.22Z" fill="#a4a9ae" stroke="#262626" stroke-width="0.8"/><path d="M48.06,68.22 L54.53,67.55" stroke="#3a3d40" stroke-width="0.6" fill="none"/><path d="M54.74,68.75 L58.58,68.11" stroke="#e6e8ea" stroke-width="0.9" fill="none"/><path d="M53.83,64.03 Q60.46,60.85 58.15,51.77 Q50.65,57.40 53.83,64.03Z" fill="#777c81" stroke="#262626" stroke-width="0.8"/><path d="M53.83,64.03 L56.37,58.03" stroke="#3a3d40" stroke-width="0.6" fill="none"/><path d="M57.52,58.44 L58.82,54.76" stroke="#e6e8ea" stroke-width="0.9" fill="none"/><path d="M53.14,63.06 Q58.39,68.21 66.14,62.92 Q58.28,57.81 53.14,63.06Z" fill="#a4a9ae" stroke="#262626" stroke-width="0.8"/><path d="M53.14,63.06 L59.64,63.39" stroke="#3a3d40" stroke-width="0.6" fill="none"/><path d="M59.65,64.62 L63.55,64.57" stroke="#e6e8ea" stroke-width="0.9" fill="none"/><path d="M84.99,155.48 Q92.34,155.27 93.92,146.03 Q84.78,148.13 84.99,155.48Z" fill="#777c81" stroke="#262626" stroke-width="0.8"/><path d="M84.99,155.48 L89.74,151.03" stroke="#3a3d40" stroke-width="0.6" fill="none"/><path d="M90.63,151.87 L93.31,149.03" stroke="#e6e8ea" stroke-width="0.9" fill="none"/><path d="M84.75,154.31 Q87.46,161.14 96.68,159.46 Q91.59,151.60 84.75,154.31Z" fill="#a4a9ae" stroke="#262626" stroke-width="0.8"/><path d="M84.75,154.31 L90.56,157.25" stroke="#3a3d40" stroke-width="0.6" fill="none"/><path d="M90.07,158.38 L93.65,159.92" stroke="#e6e8ea" stroke-width="0.9" fill="none"/><path d="M91.76,154.22 Q98.97,152.79 98.99,143.42 Q90.33,147.01 91.76,154.22Z" fill="#777c81" stroke="#262626" stroke-width="0.8"/><path d="M91.76,154.22 L95.70,149.04" stroke="#3a3d40" stroke-width="0.6" fill="none"/><path d="M96.72,149.72 L98.89,146.48" stroke="#e6e8ea" stroke-width="0.9" fill="none"/><path d="M91.32,153.11 Q95.13,159.40 103.95,156.21 Q97.62,149.30 91.32,153.11Z" fill="#a4a9ae" stroke="#262626" stroke-width="0.8"/><path d="M91.32,153.11 L97.54,155.05" stroke="#3a3d40" stroke-width="0.6" fill="none"/><path d="M97.25,156.24 L101.04,157.17" stroke="#e6e8ea" stroke-width="0.9" fill="none"/><path d="M98.28,151.83 Q105.17,149.25 103.67,140.00 Q95.70,144.94 98.28,151.83Z" fill="#777c81" stroke="#262626" stroke-width="0.8"/><path d="M98.28,151.83 L101.34,146.08" stroke="#3a3d40" stroke-width="0.6" fill="none"/><path d="M102.45,146.59 L104.07,143.04" stroke="#e6e8ea" stroke-width="0.9" fill="none"/><path d="M97.67,150.80 Q102.45,156.39 110.63,151.82 Q103.26,146.03 97.67,150.80Z" fill="#a4a9ae" stroke="#262626" stroke-width="0.8"/><path d="M97.67,150.80 L104.12,151.71" stroke="#3a3d40" stroke-width="0.6" fill="none"/><path d="M104.03,152.93 L107.91,153.24" stroke="#e6e8ea" stroke-width="0.9" fill="none"/><path d="M104.41,148.36 Q110.81,144.74 107.88,135.83 Q100.79,141.96 104.41,148.36Z" fill="#777c81" stroke="#262626" stroke-width="0.8"/><path d="M104.41,148.36 L106.53,142.21" stroke="#3a3d40" stroke-width="0.6" fill="none"/><path d="M107.71,142.53 L108.75,138.77" stroke="#e6e8ea" stroke-width="0.9" fill="none"/><path d="M103.65,147.44 Q109.25,152.22 116.61,146.42 Q108.43,141.85 103.65,147.44Z" fill="#a4a9ae" stroke="#262626" stroke-width="0.8"/><path d="M103.65,147.44 L110.16,147.33" stroke="#3a3d40" stroke-width="0.6" fill="none"/><path d="M110.26,148.55 L114.15,148.24" stroke="#e6e8ea" stroke-width="0.9" fill="none"/><path d="M110.01,143.90 Q115.79,139.35 111.55,130.99 Q105.46,138.12 110.01,143.90Z" fill="#777c81" stroke="#262626" stroke-width="0.8"/><path d="M110.01,143.90 L111.18,137.49" stroke="#3a3d40" stroke-width="0.6" fill="none"/><path d="M112.39,137.64 L112.85,133.76" stroke="#e6e8ea" stroke-width="0.9" fill="none"/><path d="M109.12,143.10 Q115.38,146.98 121.78,140.13 Q113.00,136.85 109.12,143.10Z" fill="#a4a9ae" stroke="#262626" stroke-width="0.8"/><path d="M109.12,143.10 L115.54,142.01" stroke="#3a3d40" stroke-width="0.6" fill="none"/><path d="M115.82,143.20 L119.62,142.31" stroke="#e6e8ea" stroke-width="0.9" fill="none"/><path d="M114.96,138.54 Q120.01,133.19 114.60,125.54 Q109.62,133.49 114.96,138.54Z" fill="#777c81" stroke="#262626" stroke-width="0.8"/><path d="M114.96,138.54 L115.18,132.03" stroke="#3a3d40" stroke-width="0.6" fill="none"/><path d="M116.40,132.00 L116.29,128.10" stroke="#e6e8ea" stroke-width="0.9" fill="none"/><path d="M113.96,137.88 Q120.71,140.80 126.05,133.09 Q116.88,131.13 113.96,137.88Z" fill="#a4a9ae" stroke="#262626" stroke-width="0.8"/><path d="M113.96,137.88 L120.16,135.86" stroke="#3a3d40" stroke-width="0.6" fill="none"/><path d="M120.61,137.00 L124.23,135.56" stroke="#e6e8ea" stroke-width="0.9" fill="none"/><path d="M119.14,132.41 Q123.39,126.40 116.95,119.59 Q113.14,128.16 119.14,132.41Z" fill="#777c81" stroke="#262626" stroke-width="0.8"/><path d="M119.14,132.41 L118.44,125.93" stroke="#3a3d40" stroke-width="0.6" fill="none"/><path d="M119.65,125.72 L118.99,121.88" stroke="#e6e8ea" stroke-width="0.9" fill="none"/><path d="M118.06,131.90 Q125.16,133.84 129.35,125.45 Q120.00,124.80 118.06,131.90Z" fill="#a4a9ae" stroke="#262626" stroke-width="0.8"/><path d="M118.06,131.90 L123.91,129.02" stroke="#3a3d40" stroke-width="0.6" fill="none"/><path d="M124.51,130.09 L127.90,128.15" stroke="#e6e8ea" stroke-width="0.9" fill="none"/><path d="M122.46,125.64 Q125.85,119.11 118.54,113.25 Q115.93,122.25 122.46,125.64Z" fill="#777c81" stroke="#262626" stroke-width="0.8"/><path d="M122.46,125.64 L120.88,119.32" stroke="#3a3d40" stroke-width="0.6" fill="none"/><path d="M122.05,118.95 L120.87,115.23" stroke="#e6e8ea" stroke-width="0.9" fill="none"/><path d="M121.32,125.28 Q128.61,126.23 131.63,117.36 Q122.27,117.99 121.32,125.28Z" fill="#a4a9ae" stroke="#262626" stroke-width="0.8"/><path d="M121.32,125.28 L126.72,121.64" stroke="#3a3d40" stroke-width="0.6" fill="none"/><path d="M127.47,122.61 L130.56,120.23" stroke="#e6e8ea" stroke-width="0.9" fill="none"/><path d="M124.85,118.39 Q127.33,111.47 119.30,106.64 Q117.93,115.91 124.85,118.39Z" fill="#777c81" stroke="#262626" stroke-width="0.8"/><path d="M124.85,118.39 L122.44,112.34" stroke="#3a3d40" stroke-width="0.6" fill="none"/><path d="M123.55,111.82 L121.88,108.29" stroke="#e6e8ea" stroke-width="0.9" fill="none"/><path d="M123.67,118.19 Q131.03,118.16 132.82,108.96 Q123.64,110.84 123.67,118.19Z" fill="#a4a9ae" stroke="#262626" stroke-width="0.8"/><path d="M123.67,118.19 L128.53,113.86" stroke="#3a3d40" stroke-width="0.6" fill="none"/><path d="M129.40,114.72 L132.15,111.95" stroke="#e6e8ea" stroke-width="0.9" fill="none"/><path d="M126.26,110.83 Q127.80,103.64 119.20,99.91 Q119.07,109.28 126.26,110.83Z" fill="#777c81" stroke="#262626" stroke-width="0.8"/><path d="M126.26,110.83 L123.06,105.15" stroke="#3a3d40" stroke-width="0.6" fill="none"/><path d="M124.09,104.49 L121.98,101.21" stroke="#e6e8ea" stroke-width="0.9" fill="none"/><path d="M125.06,110.78 Q132.35,109.78 132.91,100.42 Q124.06,103.50 125.06,110.78Z" fill="#a4a9ae" stroke="#262626" stroke-width="0.8"/><path d="M125.06,110.78 L129.31,105.84" stroke="#3a3d40" stroke-width="0.6" fill="none"/><path d="M130.28,106.58 L132.64,103.47" stroke="#e6e8ea" stroke-width="0.9" fill="none"/><path d="M126.65,103.12 Q127.23,95.79 118.22,93.22 Q119.32,102.53 126.65,103.12Z" fill="#777c81" stroke="#262626" stroke-width="0.8"/><path d="M126.65,103.12 L122.74,97.91" stroke="#3a3d40" stroke-width="0.6" fill="none"/><path d="M123.67,97.12 L121.14,94.15" stroke="#e6e8ea" stroke-width="0.9" fill="none"/><path d="M125.46,103.23 Q132.55,101.27 131.87,91.92 Q123.50,96.14 125.46,103.23Z" fill="#a4a9ae" stroke="#262626" stroke-width="0.8"/><path d="M125.46,103.23 L129.02,97.77" stroke="#3a3d40" stroke-width="0.6" fill="none"/><path d="M130.08,98.38 L132.00,94.98" stroke="#e6e8ea" stroke-width="0.9" fill="none"/><path d="M126.02,95.43 Q125.63,88.08 116.35,86.74 Q118.68,95.82 126.02,95.43Z" fill="#777c81" stroke="#262626" stroke-width="0.8"/><path d="M126.02,95.43 L121.45,90.79" stroke="#3a3d40" stroke-width="0.6" fill="none"/><path d="M122.27,89.88 L119.37,87.27" stroke="#e6e8ea" stroke-width="0.9" fill="none"/><path d="M124.86,95.70 Q131.63,92.81 129.71,83.64 Q121.98,88.93 124.86,95.70Z" fill="#a4a9ae" stroke="#262626" stroke-width="0.8"/><path d="M124.86,95.70 L127.66,89.82" stroke="#3a3d40" stroke-width="0.6" fill="none"/><path d="M128.80,90.27 L130.25,86.65" stroke="#e6e8ea" stroke-width="0.9" fill="none"/><path d="M124.39,87.93 Q123.01,80.71 113.63,80.63 Q117.17,89.32 124.39,87.93Z" fill="#777c81" stroke="#262626" stroke-width="0.8"/><path d="M124.39,87.93 L119.24,83.95" stroke="#3a3d40" stroke-width="0.6" fill="none"/><path d="M119.93,82.94 L116.70,80.75" stroke="#e6e8ea" stroke-width="0.9" fill="none"/><path d="M123.28,88.35 Q129.59,84.58 126.46,75.75 Q119.51,82.04 123.28,88.35Z" fill="#a4a9ae" stroke="#262626" stroke-width="0.8"/><path d="M123.28,88.35 L125.26,82.15" stroke="#3a3d40" stroke-width="0.6" fill="none"/><path d="M126.44,82.45 L127.40,78.67" stroke="#e6e8ea" stroke-width="0.9" fill="none"/><path d="M121.80,80.79 Q119.42,73.83 110.13,75.06 Q114.83,83.17 121.80,80.79Z" fill="#777c81" stroke="#262626" stroke-width="0.8"/><path d="M121.80,80.79 L116.14,77.57" stroke="#3a3d40" stroke-width="0.6" fill="none"/><path d="M116.68,76.47 L113.18,74.75" stroke="#e6e8ea" stroke-width="0.9" fill="none"/><path d="M120.75,81.37 Q126.48,76.76 122.15,68.44 Q116.14,75.64 120.75,81.37Z" fill="#a4a9ae" stroke="#262626" stroke-width="0.8"/><path d="M120.75,81.37 L121.85,74.95" stroke="#3a3d40" stroke-width="0.6" fill="none"/><path d="M123.07,75.08 L123.49,71.20" stroke="#e6e8ea" stroke-width="0.9" fill="none"/><path d="M118.29,74.17 Q114.94,67.62 105.92,70.16 Q111.74,77.52 118.29,74.17Z" fill="#777c81" stroke="#262626" stroke-width="0.8"/><path d="M118.29,74.17 L112.23,71.79" stroke="#3a3d40" stroke-width="0.6" fill="none"/><path d="M112.60,70.62 L108.89,69.42" stroke="#e6e8ea" stroke-width="0.9" fill="none"/><path d="M117.33,74.89 Q122.35,69.51 116.87,61.90 Q111.95,69.88 117.33,74.89Z" fill="#a4a9ae" stroke="#262626" stroke-width="0.8"/><path d="M117.33,74.89 L117.50,68.38" stroke="#3a3d40" stroke-width="0.6" fill="none"/><path d="M118.73,68.34 L118.59,64.44" stroke="#e6e8ea" stroke-width="0.9" fill="none"/><path d="M113.94,68.22 Q109.67,62.24 101.12,66.08 Q107.96,72.49 113.94,68.22Z" fill="#777c81" stroke="#262626" stroke-width="0.8"/><path d="M113.94,68.22 L107.60,66.76" stroke="#3a3d40" stroke-width="0.6" fill="none"/><path d="M107.80,65.55 L103.95,64.91" stroke="#e6e8ea" stroke-width="0.9" fill="none"/><path d="M113.11,69.07 Q117.27,63.01 110.73,56.29 Q107.04,64.91 113.11,69.07Z" fill="#a4a9ae" stroke="#262626" stroke-width="0.8"/><path d="M113.11,69.07 L112.31,62.61" stroke="#3a3d40" stroke-width="0.6" fill="none"/><path d="M113.52,62.38 L112.80,58.55" stroke="#e6e8ea" stroke-width="0.9" fill="none"/><path d="M108.86,63.06 Q103.72,57.81 95.86,62.92 Q103.61,68.21 108.86,63.06Z" fill="#777c81" stroke="#262626" stroke-width="0.8"/><path d="M108.86,63.06 L102.37,62.59" stroke="#3a3d40" stroke-width="0.6" fill="none"/><path d="M102.38,61.37 L98.48,61.32" stroke="#e6e8ea" stroke-width="0.9" fill="none"/><path d="M108.17,64.03 Q111.35,57.40 103.85,51.77 Q101.54,60.85 108.17,64.03Z" fill="#a4a9ae" stroke="#262626" stroke-width="0.8"/><path d="M108.17,64.03 L106.39,57.77" stroke="#3a3d40" stroke-width="0.6" fill="none"/><path d="M107.54,57.36 L106.25,53.68" stroke="#e6e8ea" stroke-width="0.9" fill="none"/><path d="M81.00,147.00 Q76.20,142.60 69.00,147.00 Q76.20,151.40 81.00,147.00Z" fill="#a4a9ae" stroke="#262626" stroke-width="0.8"/><path d="M81.00,147.00 L75.00,146.60" stroke="#3a3d40" stroke-width="0.6" fill="none"/><path d="M75.00,145.62 L71.40,145.62" stroke="#e6e8ea" stroke-width="0.9" fill="none"/><path d="M81.00,147.00 Q85.80,151.40 93.00,147.00 Q85.80,142.60 81.00,147.00Z" fill="#a4a9ae" stroke="#262626" stroke-width="0.8"/><path d="M81.00,147.00 L87.00,147.40" stroke="#3a3d40" stroke-width="0.6" fill="none"/><path d="M87.00,148.38 L90.60,148.38" stroke="#e6e8ea" stroke-width="0.9" fill="none"/><path d="M75.80,147.60 Q71.00,143.20 63.80,147.60 Q71.00,152.00 75.80,147.60Z" fill="#8a8f94" stroke="#262626" stroke-width="0.8"/><path d="M75.80,147.60 L69.80,147.20" stroke="#3a3d40" stroke-width="0.6" fill="none"/><path d="M69.80,146.22 L66.20,146.22" stroke="#e6e8ea" stroke-width="0.9" fill="none"/><path d="M86.20,147.60 Q91.00,152.00 98.20,147.60 Q91.00,143.20 86.20,147.60Z" fill="#8a8f94" stroke="#262626" stroke-width="0.8"/><path d="M86.20,147.60 L92.20,148.00" stroke="#3a3d40" stroke-width="0.6" fill="none"/><path d="M92.20,148.97 L95.80,148.97" stroke="#e6e8ea" stroke-width="0.9" fill="none"/><path d="M70.60,148.20 Q65.80,143.80 58.60,148.20 Q65.80,152.60 70.60,148.20Z" fill="#a4a9ae" stroke="#262626" stroke-width="0.8"/><path d="M70.60,148.20 L64.60,147.80" stroke="#3a3d40" stroke-width="0.6" fill="none"/><path d="M64.60,146.82 L61.00,146.82" stroke="#e6e8ea" stroke-width="0.9" fill="none"/><path d="M91.40,148.20 Q96.20,152.60 103.40,148.20 Q96.20,143.80 91.40,148.20Z" fill="#a4a9ae" stroke="#262626" stroke-width="0.8"/><path d="M91.40,148.20 L97.40,148.60" stroke="#3a3d40" stroke-width="0.6" fill="none"/><path d="M97.40,149.57 L101.00,149.57" stroke="#e6e8ea" stroke-width="0.9" fill="none"/><path d="M65.40,148.80 Q60.60,144.40 53.40,148.80 Q60.60,153.20 65.40,148.80Z" fill="#8a8f94" stroke="#262626" stroke-width="0.8"/><path d="M65.40,148.80 L59.40,148.40" stroke="#3a3d40" stroke-width="0.6" fill="none"/><path d="M59.40,147.43 L55.80,147.43" stroke="#e6e8ea" stroke-width="0.9" fill="none"/><path d="M96.60,148.80 Q101.40,153.20 108.60,148.80 Q101.40,144.40 96.60,148.80Z" fill="#8a8f94" stroke="#262626" stroke-width="0.8"/><path d="M96.60,148.80 L102.60,149.20" stroke="#3a3d40" stroke-width="0.6" fill="none"/><path d="M102.60,150.18 L106.20,150.18" stroke="#e6e8ea" stroke-width="0.9" fill="none"/><path d="M60.20,149.40 Q55.40,145.00 48.20,149.40 Q55.40,153.80 60.20,149.40Z" fill="#a4a9ae" stroke="#262626" stroke-width="0.8"/><path d="M60.20,149.40 L54.20,149.00" stroke="#3a3d40" stroke-width="0.6" fill="none"/><path d="M54.20,148.03 L50.60,148.03" stroke="#e6e8ea" stroke-width="0.9" fill="none"/><path d="M101.80,149.40 Q106.60,153.80 113.80,149.40 Q106.60,145.00 101.80,149.40Z" fill="#a4a9ae" stroke="#262626" stroke-width="0.8"/><path d="M101.80,149.40 L107.80,149.80" stroke="#3a3d40" stroke-width="0.6" fill="none"/><path d="M107.80,150.78 L111.40,150.78" stroke="#e6e8ea" stroke-width="0.9" fill="none"/><path d="M75.00,159.00 L87.00,150.00 M87.00,159.00 L75.00,150.00" stroke="#222" stroke-width="1.3" fill="none"/><path d="M74.00,44.50 C66.00,42.50 55.00,48.00 46.50,58.50 L75.00,60.00 Z" fill="#a7aeb5" stroke="#262626" stroke-width="0.9"/><path d="M88.00,44.50 C96.00,42.50 107.00,48.00 115.50,58.50 L87.00,60.00 Z" fill="#a7aeb5" stroke="#262626" stroke-width="0.9"/><path d="M72.00,47.00 L69.00,58.50" stroke="#6d747a" stroke-width="0.6"/><path d="M90.00,47.00 L93.00,58.50" stroke="#6d747a" stroke-width="0.6"/><path d="M68.00,48.60 L65.00,58.50" stroke="#6d747a" stroke-width="0.6"/><path d="M94.00,48.60 L97.00,58.50" stroke="#6d747a" stroke-width="0.6"/><path d="M64.00,50.20 L61.00,58.50" stroke="#6d747a" stroke-width="0.6"/><path d="M98.00,50.20 L101.00,58.50" stroke="#6d747a" stroke-width="0.6"/><path d="M60.00,51.80 L57.00,58.50" stroke="#6d747a" stroke-width="0.6"/><path d="M102.00,51.80 L105.00,58.50" stroke="#6d747a" stroke-width="0.6"/><path d="M56.00,53.40 L53.00,58.50" stroke="#6d747a" stroke-width="0.6"/><path d="M106.00,53.40 L109.00,58.50" stroke="#6d747a" stroke-width="0.6"/><path d="M52.00,55.00 L49.00,58.50" stroke="#6d747a" stroke-width="0.6"/><path d="M110.00,55.00 L113.00,58.50" stroke="#6d747a" stroke-width="0.6"/><path d="M55.00,58.50 C61.00,55.00 67.00,55.00 72.00,58.00 Z" fill="#3f4a4d"/><path d="M107.00,58.50 C101.00,55.00 95.00,55.00 90.00,58.00 Z" fill="#3f4a4d"/><path d="M78.00,42.00 C74.00,37.00 68.00,36.50 68.50,39.50 C70.50,43.50 74.00,45.00 78.00,45.00 Z" fill="#b6bcc1" stroke="#262626" stroke-width="0.8"/><path d="M84.00,42.00 C88.00,37.00 94.00,36.50 93.50,39.50 C91.50,43.50 88.00,45.00 84.00,45.00 Z" fill="#b6bcc1" stroke="#262626" stroke-width="0.8"/><path d="M74.50,35.50 L74.50,30.00 C74.00,26.00 78.00,25.50 81.00,27.00 C84.00,25.50 88.00,26.00 87.50,30.00 L87.50,35.50 Z" fill="#a9aeb3" stroke="#333" stroke-width="0.8"/><circle cx="81" cy="25.2" r="1.3" fill="#444"/><rect x="76" y="31" width="10" height="2.2" fill="#8fc1bb"/><path d="M81.00,35.50 L74.50,50.00 L81.00,62.00 L87.50,50.00 Z" fill="#c9434f" stroke="#8a2a30" stroke-width="0.6"/><path d="M81.00,45.00 L77.80,50.00 L81.00,55.00 L84.20,50.00 Z" fill="#f4e2e2"/><path d="M48.00,59.00 L114.00,59.00 L113.00,71.00 L49.00,71.00 Z" fill="#ecebdc"/><path d="M48.00,59.60 L114.00,59.60" stroke="#3a3a30" stroke-width="1"/><path d="M49.00,63.00 Q65.00,61.50 81.00,64.00 Q97.00,61.50 113.00,63.00" stroke="#9c8420" stroke-width="1.3" fill="none"/><path d="M50.00,69.00 Q65.00,67.50 81.00,70.00 Q97.00,67.50 112.00,69.00" stroke="#b09428" stroke-width="1.4" fill="none"/><path d="M51.00,66.00 L57.00,65.00 M105.00,65.00 L111.00,66.00" stroke="#555" stroke-width="0.8"/><path d="M53.50,70.50 L59.50,62.00 L65.50,70.50 Z" fill="#ecc232"/><path d="M108.50,70.50 L102.50,62.00 L96.50,70.50 Z" fill="#ecc232"/><circle cx="59.5" cy="62.3" r="1.5" fill="#ecc232"/><circle cx="102.5" cy="62.3" r="1.5" fill="#ecc232"/><ellipse cx="70" cy="66" rx="4" ry="2" fill="#ffffff" stroke="#888" stroke-width="0.4"/><ellipse cx="92" cy="66" rx="4" ry="2" fill="#ffffff" stroke="#888" stroke-width="0.4"/><rect x="76.5" y="60" width="9" height="8" fill="#a9c7c4" opacity="0.85"/><ellipse cx="81" cy="69" rx="4" ry="2" fill="#d6b43a"/><path d="M45.00,79.00 L45.00,73.00 C55.00,68.50 69.00,68.50 81.00,71.50 C93.00,68.50 107.00,68.50 117.00,73.00 L117.00,79.00 Z" fill="#fbfbfb" stroke="#8a8a8a" stroke-width="0.6"/><path d="M46.00,79.50 C53.00,74.00 61.00,72.00 65.00,72.60 C73.00,73.00 78.00,74.00 81.00,76.00 C84.00,74.00 89.00,73.00 97.00,72.60 C101.00,72.00 109.00,74.00 116.00,79.50 L111.00,142.00 C105.00,144.00 97.00,141.50 89.00,141.00 C85.00,140.50 81.00,141.00 81.00,141.00 C81.00,141.00 77.00,140.50 73.00,141.00 C65.00,141.50 57.00,144.00 51.00,142.00 Z" fill="#e0297c"/><path d="M43.50,78.00 L47.50,78.00 L54.50,139.00 L50.50,139.00 Z" fill="#bfc4cb" stroke="#444" stroke-width="0.5"/><path d="M118.50,78.00 L114.50,78.00 L107.50,139.00 L111.50,139.00 Z" fill="#bfc4cb" stroke="#444" stroke-width="0.5"/><path d="M53.50,88.70 L103.00,137.20" stroke="#f4a84a" stroke-width="1.5"/><path d="M108.50,88.70 L59.00,137.20" stroke="#f4a84a" stroke-width="1.5"/><path d="M54.00,99.00 L66.00,100.00 L61.00,110.00 Z" fill="#f0c828"/><path d="M108.00,99.00 L96.00,100.00 L101.00,110.00 Z" fill="#f0c828"/><circle cx="67" cy="96.6" r="2.2" fill="#f0c828"/><circle cx="95" cy="96.6" r="2.2" fill="#f0c828"/><rect x="79.4" y="93" width="3.2" height="22" fill="#f0c828"/><path d="M81.00,80.00 C76.00,84.00 75.00,90.00 78.00,93.50 L84.00,93.50 C87.00,90.00 86.00,84.00 81.00,80.00 Z" fill="#f0c828"/><path d="M64.00,133.00 C67.00,124.00 73.00,122.00 81.00,123.00 C89.00,122.00 95.00,124.00 98.00,133.00 C89.00,135.00 73.00,135.00 64.00,133.00 Z" fill="#e64a3c" opacity="0.9"/><ellipse cx="81" cy="119.5" rx="11" ry="8.5" fill="#e2c034"/><path d="M73.00,119.00 Q81.00,113.00 89.00,119.00" stroke="#b08a1c" stroke-width="0.8" fill="none"/></svg>
<svg style="left:1450px;top:5px" width="125" height="150" viewBox="1450 5 125 150"><g transform="translate(1431.62,-7.9) scale(0.98)"><path d="M79.43,153.97 L76.46,153.74 L73.50,153.30 L70.58,152.64 L67.71,151.77 L64.89,150.69 L62.15,149.40 L59.48,147.91 L56.92,146.24 L54.45,144.37 L52.11,142.33 L49.89,140.12 L47.80,137.75 L45.86,135.24 L44.08,132.59 L42.46,129.81 L41.01,126.92 L39.73,123.93 L38.63,120.85 L37.72,117.70 L37.00,114.48 L36.47,111.22 L36.14,107.93 L36.00,104.63 L36.06,101.32 L36.32,98.02 L36.78,94.75 L37.43,91.51 L38.27,88.34 L39.29,85.23 L40.50,82.20 L41.89,79.27 L43.45,76.45 L45.17,73.75 L47.05,71.18 L49.08,68.76 L51.25,66.49 L53.55,64.38 L55.97,62.45 L58.50,60.70" fill="none" stroke="#65696e" stroke-width="11" stroke-linecap="round"/><path d="M82.57,153.97 L85.54,153.74 L88.50,153.30 L91.42,152.64 L94.29,151.77 L97.11,150.69 L99.85,149.40 L102.52,147.91 L105.08,146.24 L107.55,144.37 L109.89,142.33 L112.11,140.12 L114.20,137.75 L116.14,135.24 L117.92,132.59 L119.54,129.81 L120.99,126.92 L122.27,123.93 L123.37,120.85 L124.28,117.70 L125.00,114.48 L125.53,111.22 L125.86,107.93 L126.00,104.63 L125.94,101.32 L125.68,98.02 L125.22,94.75 L124.57,91.51 L123.73,88.34 L122.71,85.23 L121.50,82.20 L120.11,79.27 L118.55,76.45 L116.83,73.75 L114.95,71.18 L112.92,68.76 L110.75,66.49 L108.45,64.38 L106.03,62.45 L103.50,60.70" fill="none" stroke="#65696e" stroke-width="11" stroke-linecap="round"/><path d="M77.25,154.31 Q70.41,151.60 65.32,159.46 Q74.54,161.14 77.25,154.31Z" fill="#777c81" stroke="#262626" stroke-width="0.8"/><path d="M77.25,154.31 L71.13,156.52" stroke="#3a3d40" stroke-width="0.6" fill="none"/><path d="M70.64,155.39 L67.06,156.94" stroke="#e6e8ea" stroke-width="0.9" fill="none"/><path d="M77.01,155.48 Q77.22,148.13 68.08,146.03 Q69.66,155.27 77.01,155.48Z" fill="#a4a9ae" stroke="#262626" stroke-width="0.8"/><path d="M77.01,155.48 L72.84,150.48" stroke="#3a3d40" stroke-width="0.6" fill="none"/><path d="M73.73,149.64 L71.05,146.80" stroke="#e6e8ea" stroke-width="0.9" fill="none"/><path d="M70.68,153.11 Q64.38,149.30 58.05,156.21 Q66.87,159.40 70.68,153.11Z" fill="#777c81" stroke="#262626" stroke-width="0.8"/><path d="M70.68,153.11 L64.27,154.27" stroke="#3a3d40" stroke-width="0.6" fill="none"/><path d="M63.98,153.08 L60.19,154.01" stroke="#e6e8ea" stroke-width="0.9" fill="none"/><path d="M70.24,154.22 Q71.67,147.01 63.01,143.42 Q63.03,152.79 70.24,154.22Z" fill="#a4a9ae" stroke="#262626" stroke-width="0.8"/><path d="M70.24,154.22 L66.96,148.60" stroke="#3a3d40" stroke-width="0.6" fill="none"/><path d="M67.98,147.91 L65.81,144.67" stroke="#e6e8ea" stroke-width="0.9" fill="none"/><path d="M64.33,150.80 Q58.74,146.03 51.37,151.82 Q59.55,156.39 64.33,150.80Z" fill="#777c81" stroke="#262626" stroke-width="0.8"/><path d="M64.33,150.80 L57.82,150.91" stroke="#3a3d40" stroke-width="0.6" fill="none"/><path d="M57.72,149.69 L53.83,150.00" stroke="#e6e8ea" stroke-width="0.9" fill="none"/><path d="M63.72,151.83 Q66.30,144.94 58.33,140.00 Q56.83,149.25 63.72,151.83Z" fill="#a4a9ae" stroke="#262626" stroke-width="0.8"/><path d="M63.72,151.83 L61.39,145.75" stroke="#3a3d40" stroke-width="0.6" fill="none"/><path d="M62.50,145.24 L60.89,141.69" stroke="#e6e8ea" stroke-width="0.9" fill="none"/><path d="M58.35,147.44 Q53.57,141.85 45.39,146.42 Q52.75,152.22 58.35,147.44Z" fill="#777c81" stroke="#262626" stroke-width="0.8"/><path d="M58.35,147.44 L51.90,146.53" stroke="#3a3d40" stroke-width="0.6" fill="none"/><path d="M52.00,145.31 L48.11,145.00" stroke="#e6e8ea" stroke-width="0.9" fill="none"/><path d="M57.59,148.36 Q61.21,141.96 54.12,135.83 Q51.19,144.74 57.59,148.36Z" fill="#a4a9ae" stroke="#262626" stroke-width="0.8"/><path d="M57.59,148.36 L56.24,141.99" stroke="#3a3d40" stroke-width="0.6" fill="none"/><path d="M57.42,141.67 L56.38,137.91" stroke="#e6e8ea" stroke-width="0.9" fill="none"/><path d="M52.88,143.10 Q49.00,136.85 40.22,140.13 Q46.62,146.98 52.88,143.10Z" fill="#777c81" stroke="#262626" stroke-width="0.8"/><path d="M52.88,143.10 L46.64,141.23" stroke="#3a3d40" stroke-width="0.6" fill="none"/><path d="M46.92,140.03 L43.12,139.14" stroke="#e6e8ea" stroke-width="0.9" fill="none"/><path d="M51.99,143.90 Q56.54,138.12 50.45,130.99 Q46.21,139.35 51.99,143.90Z" fill="#a4a9ae" stroke="#262626" stroke-width="0.8"/><path d="M51.99,143.90 L51.62,137.40" stroke="#3a3d40" stroke-width="0.6" fill="none"/><path d="M52.83,137.25 L52.37,133.38" stroke="#e6e8ea" stroke-width="0.9" fill="none"/><path d="M48.04,137.88 Q45.12,131.13 35.95,133.09 Q41.29,140.80 48.04,137.88Z" fill="#777c81" stroke="#262626" stroke-width="0.8"/><path d="M48.04,137.88 L42.14,135.12" stroke="#3a3d40" stroke-width="0.6" fill="none"/><path d="M42.59,133.98 L38.96,132.54" stroke="#e6e8ea" stroke-width="0.9" fill="none"/><path d="M47.04,138.54 Q52.38,133.49 47.40,125.54 Q41.99,133.19 47.04,138.54Z" fill="#a4a9ae" stroke="#262626" stroke-width="0.8"/><path d="M47.04,138.54 L47.62,132.05" stroke="#3a3d40" stroke-width="0.6" fill="none"/><path d="M48.85,132.09 L48.96,128.19" stroke="#e6e8ea" stroke-width="0.9" fill="none"/><path d="M43.94,131.90 Q42.00,124.80 32.65,125.45 Q36.84,133.84 43.94,131.90Z" fill="#777c81" stroke="#262626" stroke-width="0.8"/><path d="M43.94,131.90 L38.49,128.33" stroke="#3a3d40" stroke-width="0.6" fill="none"/><path d="M39.10,127.26 L35.71,125.33" stroke="#e6e8ea" stroke-width="0.9" fill="none"/><path d="M42.86,132.41 Q48.86,128.16 45.05,119.59 Q38.61,126.40 42.86,132.41Z" fill="#a4a9ae" stroke="#262626" stroke-width="0.8"/><path d="M42.86,132.41 L44.35,126.07" stroke="#3a3d40" stroke-width="0.6" fill="none"/><path d="M45.56,126.27 L46.21,122.43" stroke="#e6e8ea" stroke-width="0.9" fill="none"/><path d="M40.68,125.28 Q39.73,117.99 30.37,117.36 Q33.39,126.23 40.68,125.28Z" fill="#777c81" stroke="#262626" stroke-width="0.8"/><path d="M40.68,125.28 L35.77,121.00" stroke="#3a3d40" stroke-width="0.6" fill="none"/><path d="M36.52,120.03 L33.42,117.65" stroke="#e6e8ea" stroke-width="0.9" fill="none"/><path d="M39.54,125.64 Q46.07,122.25 43.46,113.25 Q36.15,119.11 39.54,125.64Z" fill="#a4a9ae" stroke="#262626" stroke-width="0.8"/><path d="M39.54,125.64 L41.88,119.56" stroke="#3a3d40" stroke-width="0.6" fill="none"/><path d="M43.05,119.93 L44.23,116.21" stroke="#e6e8ea" stroke-width="0.9" fill="none"/><path d="M38.33,118.19 Q38.36,110.84 29.18,108.96 Q30.97,118.16 38.33,118.19Z" fill="#777c81" stroke="#262626" stroke-width="0.8"/><path d="M38.33,118.19 L34.04,113.29" stroke="#3a3d40" stroke-width="0.6" fill="none"/><path d="M34.91,112.43 L32.16,109.66" stroke="#e6e8ea" stroke-width="0.9" fill="none"/><path d="M37.15,118.39 Q44.07,115.91 42.70,106.64 Q34.67,111.47 37.15,118.39Z" fill="#a4a9ae" stroke="#262626" stroke-width="0.8"/><path d="M37.15,118.39 L40.29,112.69" stroke="#3a3d40" stroke-width="0.6" fill="none"/><path d="M41.39,113.21 L43.06,109.68" stroke="#e6e8ea" stroke-width="0.9" fill="none"/><path d="M36.94,110.78 Q37.94,103.50 29.09,100.42 Q29.65,109.78 36.94,110.78Z" fill="#777c81" stroke="#262626" stroke-width="0.8"/><path d="M36.94,110.78 L33.33,105.36" stroke="#3a3d40" stroke-width="0.6" fill="none"/><path d="M34.31,104.62 L31.95,101.51" stroke="#e6e8ea" stroke-width="0.9" fill="none"/><path d="M35.74,110.83 Q42.93,109.28 42.80,99.91 Q34.20,103.64 35.74,110.83Z" fill="#a4a9ae" stroke="#262626" stroke-width="0.8"/><path d="M35.74,110.83 L39.61,105.59" stroke="#3a3d40" stroke-width="0.6" fill="none"/><path d="M40.64,106.25 L42.75,102.98" stroke="#e6e8ea" stroke-width="0.9" fill="none"/><path d="M36.54,103.23 Q38.50,96.14 30.13,91.92 Q29.45,101.27 36.54,103.23Z" fill="#777c81" stroke="#262626" stroke-width="0.8"/><path d="M36.54,103.23 L33.68,97.38" stroke="#3a3d40" stroke-width="0.6" fill="none"/><path d="M34.75,96.77 L32.82,93.38" stroke="#e6e8ea" stroke-width="0.9" fill="none"/><path d="M35.35,103.12 Q42.68,102.53 43.78,93.22 Q34.77,95.79 35.35,103.12Z" fill="#a4a9ae" stroke="#262626" stroke-width="0.8"/><path d="M35.35,103.12 L39.87,98.43" stroke="#3a3d40" stroke-width="0.6" fill="none"/><path d="M40.80,99.22 L43.33,96.26" stroke="#e6e8ea" stroke-width="0.9" fill="none"/><path d="M37.14,95.70 Q40.02,88.93 32.29,83.64 Q30.37,92.81 37.14,95.70Z" fill="#777c81" stroke="#262626" stroke-width="0.8"/><path d="M37.14,95.70 L35.08,89.52" stroke="#3a3d40" stroke-width="0.6" fill="none"/><path d="M36.22,89.06 L34.76,85.44" stroke="#e6e8ea" stroke-width="0.9" fill="none"/><path d="M35.98,95.43 Q43.32,95.82 45.65,86.74 Q36.37,88.08 35.98,95.43Z" fill="#a4a9ae" stroke="#262626" stroke-width="0.8"/><path d="M35.98,95.43 L41.08,91.38" stroke="#3a3d40" stroke-width="0.6" fill="none"/><path d="M41.90,92.29 L44.80,89.69" stroke="#e6e8ea" stroke-width="0.9" fill="none"/><path d="M38.72,88.35 Q42.49,82.04 35.54,75.75 Q32.41,84.58 38.72,88.35Z" fill="#777c81" stroke="#262626" stroke-width="0.8"/><path d="M38.72,88.35 L37.52,81.95" stroke="#3a3d40" stroke-width="0.6" fill="none"/><path d="M38.71,81.65 L37.76,77.87" stroke="#e6e8ea" stroke-width="0.9" fill="none"/><path d="M37.61,87.93 Q44.83,89.32 48.37,80.63 Q38.99,80.71 37.61,87.93Z" fill="#a4a9ae" stroke="#262626" stroke-width="0.8"/><path d="M37.61,87.93 L43.21,84.61" stroke="#3a3d40" stroke-width="0.6" fill="none"/><path d="M43.90,85.63 L47.13,83.44" stroke="#e6e8ea" stroke-width="0.9" fill="none"/><path d="M41.25,81.37 Q45.86,75.64 39.85,68.44 Q35.52,76.76 41.25,81.37Z" fill="#777c81" stroke="#262626" stroke-width="0.8"/><path d="M41.25,81.37 L40.95,74.86" stroke="#3a3d40" stroke-width="0.6" fill="none"/><path d="M42.17,74.73 L41.75,70.85" stroke="#e6e8ea" stroke-width="0.9" fill="none"/><path d="M40.20,80.79 Q47.17,83.17 51.87,75.06 Q42.58,73.83 40.20,80.79Z" fill="#a4a9ae" stroke="#262626" stroke-width="0.8"/><path d="M40.20,80.79 L46.21,78.28" stroke="#3a3d40" stroke-width="0.6" fill="none"/><path d="M46.75,79.38 L50.25,77.66" stroke="#e6e8ea" stroke-width="0.9" fill="none"/><path d="M44.67,74.89 Q50.05,69.88 45.13,61.90 Q39.65,69.51 44.67,74.89Z" fill="#777c81" stroke="#262626" stroke-width="0.8"/><path d="M44.67,74.89 L45.30,68.41" stroke="#3a3d40" stroke-width="0.6" fill="none"/><path d="M46.52,68.45 L46.66,64.56" stroke="#e6e8ea" stroke-width="0.9" fill="none"/><path d="M43.71,74.17 Q50.26,77.52 56.08,70.16 Q47.06,67.62 43.71,74.17Z" fill="#a4a9ae" stroke="#262626" stroke-width="0.8"/><path d="M43.71,74.17 L50.02,72.55" stroke="#3a3d40" stroke-width="0.6" fill="none"/><path d="M50.40,73.72 L54.11,72.51" stroke="#e6e8ea" stroke-width="0.9" fill="none"/><path d="M48.89,69.07 Q54.96,64.91 51.27,56.29 Q44.73,63.01 48.89,69.07Z" fill="#777c81" stroke="#262626" stroke-width="0.8"/><path d="M48.89,69.07 L50.47,62.75" stroke="#3a3d40" stroke-width="0.6" fill="none"/><path d="M51.68,62.98 L52.39,59.14" stroke="#e6e8ea" stroke-width="0.9" fill="none"/><path d="M48.06,68.22 Q54.04,72.49 60.88,66.08 Q52.33,62.24 48.06,68.22Z" fill="#a4a9ae" stroke="#262626" stroke-width="0.8"/><path d="M48.06,68.22 L54.53,67.55" stroke="#3a3d40" stroke-width="0.6" fill="none"/><path d="M54.74,68.75 L58.58,68.11" stroke="#e6e8ea" stroke-width="0.9" fill="none"/><path d="M53.83,64.03 Q60.46,60.85 58.15,51.77 Q50.65,57.40 53.83,64.03Z" fill="#777c81" stroke="#262626" stroke-width="0.8"/><path d="M53.83,64.03 L56.37,58.03" stroke="#3a3d40" stroke-width="0.6" fill="none"/><path d="M57.52,58.44 L58.82,54.76" stroke="#e6e8ea" stroke-width="0.9" fill="none"/><path d="M53.14,63.06 Q58.39,68.21 66.14,62.92 Q58.28,57.81 53.14,63.06Z" fill="#a4a9ae" stroke="#262626" stroke-width="0.8"/><path d="M53.14,63.06 L59.64,63.39" stroke="#3a3d40" stroke-width="0.6" fill="none"/><path d="M59.65,64.62 L63.55,64.57" stroke="#e6e8ea" stroke-width="0.9" fill="none"/><path d="M84.99,155.48 Q92.34,155.27 93.92,146.03 Q84.78,148.13 84.99,155.48Z" fill="#777c81" stroke="#262626" stroke-width="0.8"/><path d="M84.99,155.48 L89.74,151.03" stroke="#3a3d40" stroke-width="0.6" fill="none"/><path d="M90.63,151.87 L93.31,149.03" stroke="#e6e8ea" stroke-width="0.9" fill="none"/><path d="M84.75,154.31 Q87.46,161.14 96.68,159.46 Q91.59,151.60 84.75,154.31Z" fill="#a4a9ae" stroke="#262626" stroke-width="0.8"/><path d="M84.75,154.31 L90.56,157.25" stroke="#3a3d40" stroke-width="0.6" fill="none"/><path d="M90.07,158.38 L93.65,159.92" stroke="#e6e8ea" stroke-width="0.9" fill="none"/><path d="M91.76,154.22 Q98.97,152.79 98.99,143.42 Q90.33,147.01 91.76,154.22Z" fill="#777c81" stroke="#262626" stroke-width="0.8"/><path d="M91.76,154.22 L95.70,149.04" stroke="#3a3d40" stroke-width="0.6" fill="none"/><path d="M96.72,149.72 L98.89,146.48" stroke="#e6e8ea" stroke-width="0.9" fill="none"/><path d="M91.32,153.11 Q95.13,159.40 103.95,156.21 Q97.62,149.30 91.32,153.11Z" fill="#a4a9ae" stroke="#262626" stroke-width="0.8"/><path d="M91.32,153.11 L97.54,155.05" stroke="#3a3d40" stroke-width="0.6" fill="none"/><path d="M97.25,156.24 L101.04,157.17" stroke="#e6e8ea" stroke-width="0.9" fill="none"/><path d="M98.28,151.83 Q105.17,149.25 103.67,140.00 Q95.70,144.94 98.28,151.83Z" fill="#777c81" stroke="#262626" stroke-width="0.8"/><path d="M98.28,151.83 L101.34,146.08" stroke="#3a3d40" stroke-width="0.6" fill="none"/><path d="M102.45,146.59 L104.07,143.04" stroke="#e6e8ea" stroke-width="0.9" fill="none"/><path d="M97.67,150.80 Q102.45,156.39 110.63,151.82 Q103.26,146.03 97.67,150.80Z" fill="#a4a9ae" stroke="#262626" stroke-width="0.8"/><path d="M97.67,150.80 L104.12,151.71" stroke="#3a3d40" stroke-width="0.6" fill="none"/><path d="M104.03,152.93 L107.91,153.24" stroke="#e6e8ea" stroke-width="0.9" fill="none"/><path d="M104.41,148.36 Q110.81,144.74 107.88,135.83 Q100.79,141.96 104.41,148.36Z" fill="#777c81" stroke="#262626" stroke-width="0.8"/><path d="M104.41,148.36 L106.53,142.21" stroke="#3a3d40" stroke-width="0.6" fill="none"/><path d="M107.71,142.53 L108.75,138.77" stroke="#e6e8ea" stroke-width="0.9" fill="none"/><path d="M103.65,147.44 Q109.25,152.22 116.61,146.42 Q108.43,141.85 103.65,147.44Z" fill="#a4a9ae" stroke="#262626" stroke-width="0.8"/><path d="M103.65,147.44 L110.16,147.33" stroke="#3a3d40" stroke-width="0.6" fill="none"/><path d="M110.26,148.55 L114.15,148.24" stroke="#e6e8ea" stroke-width="0.9" fill="none"/><path d="M110.01,143.90 Q115.79,139.35 111.55,130.99 Q105.46,138.12 110.01,143.90Z" fill="#777c81" stroke="#262626" stroke-width="0.8"/><path d="M110.01,143.90 L111.18,137.49" stroke="#3a3d40" stroke-width="0.6" fill="none"/><path d="M112.39,137.64 L112.85,133.76" stroke="#e6e8ea" stroke-width="0.9" fill="none"/><path d="M109.12,143.10 Q115.38,146.98 121.78,140.13 Q113.00,136.85 109.12,143.10Z" fill="#a4a9ae" stroke="#262626" stroke-width="0.8"/><path d="M109.12,143.10 L115.54,142.01" stroke="#3a3d40" stroke-width="0.6" fill="none"/><path d="M115.82,143.20 L119.62,142.31" stroke="#e6e8ea" stroke-width="0.9" fill="none"/><path d="M114.96,138.54 Q120.01,133.19 114.60,125.54 Q109.62,133.49 114.96,138.54Z" fill="#777c81" stroke="#262626" stroke-width="0.8"/><path d="M114.96,138.54 L115.18,132.03" stroke="#3a3d40" stroke-width="0.6" fill="none"/><path d="M116.40,132.00 L116.29,128.10" stroke="#e6e8ea" stroke-width="0.9" fill="none"/><path d="M113.96,137.88 Q120.71,140.80 126.05,133.09 Q116.88,131.13 113.96,137.88Z" fill="#a4a9ae" stroke="#262626" stroke-width="0.8"/><path d="M113.96,137.88 L120.16,135.86" stroke="#3a3d40" stroke-width="0.6" fill="none"/><path d="M120.61,137.00 L124.23,135.56" stroke="#e6e8ea" stroke-width="0.9" fill="none"/><path d="M119.14,132.41 Q123.39,126.40 116.95,119.59 Q113.14,128.16 119.14,132.41Z" fill="#777c81" stroke="#262626" stroke-width="0.8"/><path d="M119.14,132.41 L118.44,125.93" stroke="#3a3d40" stroke-width="0.6" fill="none"/><path d="M119.65,125.72 L118.99,121.88" stroke="#e6e8ea" stroke-width="0.9" fill="none"/><path d="M118.06,131.90 Q125.16,133.84 129.35,125.45 Q120.00,124.80 118.06,131.90Z" fill="#a4a9ae" stroke="#262626" stroke-width="0.8"/><path d="M118.06,131.90 L123.91,129.02" stroke="#3a3d40" stroke-width="0.6" fill="none"/><path d="M124.51,130.09 L127.90,128.15" stroke="#e6e8ea" stroke-width="0.9" fill="none"/><path d="M122.46,125.64 Q125.85,119.11 118.54,113.25 Q115.93,122.25 122.46,125.64Z" fill="#777c81" stroke="#262626" stroke-width="0.8"/><path d="M122.46,125.64 L120.88,119.32" stroke="#3a3d40" stroke-width="0.6" fill="none"/><path d="M122.05,118.95 L120.87,115.23" stroke="#e6e8ea" stroke-width="0.9" fill="none"/><path d="M121.32,125.28 Q128.61,126.23 131.63,117.36 Q122.27,117.99 121.32,125.28Z" fill="#a4a9ae" stroke="#262626" stroke-width="0.8"/><path d="M121.32,125.28 L126.72,121.64" stroke="#3a3d40" stroke-width="0.6" fill="none"/><path d="M127.47,122.61 L130.56,120.23" stroke="#e6e8ea" stroke-width="0.9" fill="none"/><path d="M124.85,118.39 Q127.33,111.47 119.30,106.64 Q117.93,115.91 124.85,118.39Z" fill="#777c81" stroke="#262626" stroke-width="0.8"/><path d="M124.85,118.39 L122.44,112.34" stroke="#3a3d40" stroke-width="0.6" fill="none"/><path d="M123.55,111.82 L121.88,108.29" stroke="#e6e8ea" stroke-width="0.9" fill="none"/><path d="M123.67,118.19 Q131.03,118.16 132.82,108.96 Q123.64,110.84 123.67,118.19Z" fill="#a4a9ae" stroke="#262626" stroke-width="0.8"/><path d="M123.67,118.19 L128.53,113.86" stroke="#3a3d40" stroke-width="0.6" fill="none"/><path d="M129.40,114.72 L132.15,111.95" stroke="#e6e8ea" stroke-width="0.9" fill="none"/><path d="M126.26,110.83 Q127.80,103.64 119.20,99.91 Q119.07,109.28 126.26,110.83Z" fill="#777c81" stroke="#262626" stroke-width="0.8"/><path d="M126.26,110.83 L123.06,105.15" stroke="#3a3d40" stroke-width="0.6" fill="none"/><path d="M124.09,104.49 L121.98,101.21" stroke="#e6e8ea" stroke-width="0.9" fill="none"/><path d="M125.06,110.78 Q132.35,109.78 132.91,100.42 Q124.06,103.50 125.06,110.78Z" fill="#a4a9ae" stroke="#262626" stroke-width="0.8"/><path d="M125.06,110.78 L129.31,105.84" stroke="#3a3d40" stroke-width="0.6" fill="none"/><path d="M130.28,106.58 L132.64,103.47" stroke="#e6e8ea" stroke-width="0.9" fill="none"/><path d="M126.65,103.12 Q127.23,95.79 118.22,93.22 Q119.32,102.53 126.65,103.12Z" fill="#777c81" stroke="#262626" stroke-width="0.8"/><path d="M126.65,103.12 L122.74,97.91" stroke="#3a3d40" stroke-width="0.6" fill="none"/><path d="M123.67,97.12 L121.14,94.15" stroke="#e6e8ea" stroke-width="0.9" fill="none"/><path d="M125.46,103.23 Q132.55,101.27 131.87,91.92 Q123.50,96.14 125.46,103.23Z" fill="#a4a9ae" stroke="#262626" stroke-width="0.8"/><path d="M125.46,103.23 L129.02,97.77" stroke="#3a3d40" stroke-width="0.6" fill="none"/><path d="M130.08,98.38 L132.00,94.98" stroke="#e6e8ea" stroke-width="0.9" fill="none"/><path d="M126.02,95.43 Q125.63,88.08 116.35,86.74 Q118.68,95.82 126.02,95.43Z" fill="#777c81" stroke="#262626" stroke-width="0.8"/><path d="M126.02,95.43 L121.45,90.79" stroke="#3a3d40" stroke-width="0.6" fill="none"/><path d="M122.27,89.88 L119.37,87.27" stroke="#e6e8ea" stroke-width="0.9" fill="none"/><path d="M124.86,95.70 Q131.63,92.81 129.71,83.64 Q121.98,88.93 124.86,95.70Z" fill="#a4a9ae" stroke="#262626" stroke-width="0.8"/><path d="M124.86,95.70 L127.66,89.82" stroke="#3a3d40" stroke-width="0.6" fill="none"/><path d="M128.80,90.27 L130.25,86.65" stroke="#e6e8ea" stroke-width="0.9" fill="none"/><path d="M124.39,87.93 Q123.01,80.71 113.63,80.63 Q117.17,89.32 124.39,87.93Z" fill="#777c81" stroke="#262626" stroke-width="0.8"/><path d="M124.39,87.93 L119.24,83.95" stroke="#3a3d40" stroke-width="0.6" fill="none"/><path d="M119.93,82.94 L116.70,80.75" stroke="#e6e8ea" stroke-width="0.9" fill="none"/><path d="M123.28,88.35 Q129.59,84.58 126.46,75.75 Q119.51,82.04 123.28,88.35Z" fill="#a4a9ae" stroke="#262626" stroke-width="0.8"/><path d="M123.28,88.35 L125.26,82.15" stroke="#3a3d40" stroke-width="0.6" fill="none"/><path d="M126.44,82.45 L127.40,78.67" stroke="#e6e8ea" stroke-width="0.9" fill="none"/><path d="M121.80,80.79 Q119.42,73.83 110.13,75.06 Q114.83,83.17 121.80,80.79Z" fill="#777c81" stroke="#262626" stroke-width="0.8"/><path d="M121.80,80.79 L116.14,77.57" stroke="#3a3d40" stroke-width="0.6" fill="none"/><path d="M116.68,76.47 L113.18,74.75" stroke="#e6e8ea" stroke-width="0.9" fill="none"/><path d="M120.75,81.37 Q126.48,76.76 122.15,68.44 Q116.14,75.64 120.75,81.37Z" fill="#a4a9ae" stroke="#262626" stroke-width="0.8"/><path d="M120.75,81.37 L121.85,74.95" stroke="#3a3d40" stroke-width="0.6" fill="none"/><path d="M123.07,75.08 L123.49,71.20" stroke="#e6e8ea" stroke-width="0.9" fill="none"/><path d="M118.29,74.17 Q114.94,67.62 105.92,70.16 Q111.74,77.52 118.29,74.17Z" fill="#777c81" stroke="#262626" stroke-width="0.8"/><path d="M118.29,74.17 L112.23,71.79" stroke="#3a3d40" stroke-width="0.6" fill="none"/><path d="M112.60,70.62 L108.89,69.42" stroke="#e6e8ea" stroke-width="0.9" fill="none"/><path d="M117.33,74.89 Q122.35,69.51 116.87,61.90 Q111.95,69.88 117.33,74.89Z" fill="#a4a9ae" stroke="#262626" stroke-width="0.8"/><path d="M117.33,74.89 L117.50,68.38" stroke="#3a3d40" stroke-width="0.6" fill="none"/><path d="M118.73,68.34 L118.59,64.44" stroke="#e6e8ea" stroke-width="0.9" fill="none"/><path d="M113.94,68.22 Q109.67,62.24 101.12,66.08 Q107.96,72.49 113.94,68.22Z" fill="#777c81" stroke="#262626" stroke-width="0.8"/><path d="M113.94,68.22 L107.60,66.76" stroke="#3a3d40" stroke-width="0.6" fill="none"/><path d="M107.80,65.55 L103.95,64.91" stroke="#e6e8ea" stroke-width="0.9" fill="none"/><path d="M113.11,69.07 Q117.27,63.01 110.73,56.29 Q107.04,64.91 113.11,69.07Z" fill="#a4a9ae" stroke="#262626" stroke-width="0.8"/><path d="M113.11,69.07 L112.31,62.61" stroke="#3a3d40" stroke-width="0.6" fill="none"/><path d="M113.52,62.38 L112.80,58.55" stroke="#e6e8ea" stroke-width="0.9" fill="none"/><path d="M108.86,63.06 Q103.72,57.81 95.86,62.92 Q103.61,68.21 108.86,63.06Z" fill="#777c81" stroke="#262626" stroke-width="0.8"/><path d="M108.86,63.06 L102.37,62.59" stroke="#3a3d40" stroke-width="0.6" fill="none"/><path d="M102.38,61.37 L98.48,61.32" stroke="#e6e8ea" stroke-width="0.9" fill="none"/><path d="M108.17,64.03 Q111.35,57.40 103.85,51.77 Q101.54,60.85 108.17,64.03Z" fill="#a4a9ae" stroke="#262626" stroke-width="0.8"/><path d="M108.17,64.03 L106.39,57.77" stroke="#3a3d40" stroke-width="0.6" fill="none"/><path d="M107.54,57.36 L106.25,53.68" stroke="#e6e8ea" stroke-width="0.9" fill="none"/><path d="M81.00,147.00 Q76.20,142.60 69.00,147.00 Q76.20,151.40 81.00,147.00Z" fill="#a4a9ae" stroke="#262626" stroke-width="0.8"/><path d="M81.00,147.00 L75.00,146.60" stroke="#3a3d40" stroke-width="0.6" fill="none"/><path d="M75.00,145.62 L71.40,145.62" stroke="#e6e8ea" stroke-width="0.9" fill="none"/><path d="M81.00,147.00 Q85.80,151.40 93.00,147.00 Q85.80,142.60 81.00,147.00Z" fill="#a4a9ae" stroke="#262626" stroke-width="0.8"/><path d="M81.00,147.00 L87.00,147.40" stroke="#3a3d40" stroke-width="0.6" fill="none"/><path d="M87.00,148.38 L90.60,148.38" stroke="#e6e8ea" stroke-width="0.9" fill="none"/><path d="M75.80,147.60 Q71.00,143.20 63.80,147.60 Q71.00,152.00 75.80,147.60Z" fill="#8a8f94" stroke="#262626" stroke-width="0.8"/><path d="M75.80,147.60 L69.80,147.20" stroke="#3a3d40" stroke-width="0.6" fill="none"/><path d="M69.80,146.22 L66.20,146.22" stroke="#e6e8ea" stroke-width="0.9" fill="none"/><path d="M86.20,147.60 Q91.00,152.00 98.20,147.60 Q91.00,143.20 86.20,147.60Z" fill="#8a8f94" stroke="#262626" stroke-width="0.8"/><path d="M86.20,147.60 L92.20,148.00" stroke="#3a3d40" stroke-width="0.6" fill="none"/><path d="M92.20,148.97 L95.80,148.97" stroke="#e6e8ea" stroke-width="0.9" fill="none"/><path d="M70.60,148.20 Q65.80,143.80 58.60,148.20 Q65.80,152.60 70.60,148.20Z" fill="#a4a9ae" stroke="#262626" stroke-width="0.8"/><path d="M70.60,148.20 L64.60,147.80" stroke="#3a3d40" stroke-width="0.6" fill="none"/><path d="M64.60,146.82 L61.00,146.82" stroke="#e6e8ea" stroke-width="0.9" fill="none"/><path d="M91.40,148.20 Q96.20,152.60 103.40,148.20 Q96.20,143.80 91.40,148.20Z" fill="#a4a9ae" stroke="#262626" stroke-width="0.8"/><path d="M91.40,148.20 L97.40,148.60" stroke="#3a3d40" stroke-width="0.6" fill="none"/><path d="M97.40,149.57 L101.00,149.57" stroke="#e6e8ea" stroke-width="0.9" fill="none"/><path d="M65.40,148.80 Q60.60,144.40 53.40,148.80 Q60.60,153.20 65.40,148.80Z" fill="#8a8f94" stroke="#262626" stroke-width="0.8"/><path d="M65.40,148.80 L59.40,148.40" stroke="#3a3d40" stroke-width="0.6" fill="none"/><path d="M59.40,147.43 L55.80,147.43" stroke="#e6e8ea" stroke-width="0.9" fill="none"/><path d="M96.60,148.80 Q101.40,153.20 108.60,148.80 Q101.40,144.40 96.60,148.80Z" fill="#8a8f94" stroke="#262626" stroke-width="0.8"/><path d="M96.60,148.80 L102.60,149.20" stroke="#3a3d40" stroke-width="0.6" fill="none"/><path d="M102.60,150.18 L106.20,150.18" stroke="#e6e8ea" stroke-width="0.9" fill="none"/><path d="M60.20,149.40 Q55.40,145.00 48.20,149.40 Q55.40,153.80 60.20,149.40Z" fill="#a4a9ae" stroke="#262626" stroke-width="0.8"/><path d="M60.20,149.40 L54.20,149.00" stroke="#3a3d40" stroke-width="0.6" fill="none"/><path d="M54.20,148.03 L50.60,148.03" stroke="#e6e8ea" stroke-width="0.9" fill="none"/><path d="M101.80,149.40 Q106.60,153.80 113.80,149.40 Q106.60,145.00 101.80,149.40Z" fill="#a4a9ae" stroke="#262626" stroke-width="0.8"/><path d="M101.80,149.40 L107.80,149.80" stroke="#3a3d40" stroke-width="0.6" fill="none"/><path d="M107.80,150.78 L111.40,150.78" stroke="#e6e8ea" stroke-width="0.9" fill="none"/><path d="M75.00,159.00 L87.00,150.00 M87.00,159.00 L75.00,150.00" stroke="#222" stroke-width="1.3" fill="none"/><path d="M74.00,44.50 C66.00,42.50 55.00,48.00 46.50,58.50 L75.00,60.00 Z" fill="#a7aeb5" stroke="#262626" stroke-width="0.9"/><path d="M88.00,44.50 C96.00,42.50 107.00,48.00 115.50,58.50 L87.00,60.00 Z" fill="#a7aeb5" stroke="#262626" stroke-width="0.9"/><path d="M72.00,47.00 L69.00,58.50" stroke="#6d747a" stroke-width="0.6"/><path d="M90.00,47.00 L93.00,58.50" stroke="#6d747a" stroke-width="0.6"/><path d="M68.00,48.60 L65.00,58.50" stroke="#6d747a" stroke-width="0.6"/><path d="M94.00,48.60 L97.00,58.50" stroke="#6d747a" stroke-width="0.6"/><path d="M64.00,50.20 L61.00,58.50" stroke="#6d747a" stroke-width="0.6"/><path d="M98.00,50.20 L101.00,58.50" stroke="#6d747a" stroke-width="0.6"/><path d="M60.00,51.80 L57.00,58.50" stroke="#6d747a" stroke-width="0.6"/><path d="M102.00,51.80 L105.00,58.50" stroke="#6d747a" stroke-width="0.6"/><path d="M56.00,53.40 L53.00,58.50" stroke="#6d747a" stroke-width="0.6"/><path d="M106.00,53.40 L109.00,58.50" stroke="#6d747a" stroke-width="0.6"/><path d="M52.00,55.00 L49.00,58.50" stroke="#6d747a" stroke-width="0.6"/><path d="M110.00,55.00 L113.00,58.50" stroke="#6d747a" stroke-width="0.6"/><path d="M55.00,58.50 C61.00,55.00 67.00,55.00 72.00,58.00 Z" fill="#3f4a4d"/><path d="M107.00,58.50 C101.00,55.00 95.00,55.00 90.00,58.00 Z" fill="#3f4a4d"/><path d="M78.00,42.00 C74.00,37.00 68.00,36.50 68.50,39.50 C70.50,43.50 74.00,45.00 78.00,45.00 Z" fill="#b6bcc1" stroke="#262626" stroke-width="0.8"/><path d="M84.00,42.00 C88.00,37.00 94.00,36.50 93.50,39.50 C91.50,43.50 88.00,45.00 84.00,45.00 Z" fill="#b6bcc1" stroke="#262626" stroke-width="0.8"/><path d="M74.50,35.50 L74.50,30.00 C74.00,26.00 78.00,25.50 81.00,27.00 C84.00,25.50 88.00,26.00 87.50,30.00 L87.50,35.50 Z" fill="#a9aeb3" stroke="#333" stroke-width="0.8"/><circle cx="81" cy="25.2" r="1.3" fill="#444"/><rect x="76" y="31" width="10" height="2.2" fill="#8fc1bb"/><path d="M81.00,35.50 L74.50,50.00 L81.00,62.00 L87.50,50.00 Z" fill="#c9434f" stroke="#8a2a30" stroke-width="0.6"/><path d="M81.00,45.00 L77.80,50.00 L81.00,55.00 L84.20,50.00 Z" fill="#f4e2e2"/><path d="M48.00,59.00 L114.00,59.00 L113.00,71.00 L49.00,71.00 Z" fill="#ecebdc"/><path d="M48.00,59.60 L114.00,59.60" stroke="#3a3a30" stroke-width="1"/><path d="M49.00,63.00 Q65.00,61.50 81.00,64.00 Q97.00,61.50 113.00,63.00" stroke="#9c8420" stroke-width="1.3" fill="none"/><path d="M50.00,69.00 Q65.00,67.50 81.00,70.00 Q97.00,67.50 112.00,69.00" stroke="#b09428" stroke-width="1.4" fill="none"/><path d="M51.00,66.00 L57.00,65.00 M105.00,65.00 L111.00,66.00" stroke="#555" stroke-width="0.8"/><path d="M53.50,70.50 L59.50,62.00 L65.50,70.50 Z" fill="#ecc232"/><path d="M108.50,70.50 L102.50,62.00 L96.50,70.50 Z" fill="#ecc232"/><circle cx="59.5" cy="62.3" r="1.5" fill="#ecc232"/><circle cx="102.5" cy="62.3" r="1.5" fill="#ecc232"/><ellipse cx="70" cy="66" rx="4" ry="2" fill="#ffffff" stroke="#888" stroke-width="0.4"/><ellipse cx="92" cy="66" rx="4" ry="2" fill="#ffffff" stroke="#888" stroke-width="0.4"/><rect x="76.5" y="60" width="9" height="8" fill="#a9c7c4" opacity="0.85"/><ellipse cx="81" cy="69" rx="4" ry="2" fill="#d6b43a"/><path d="M45.00,79.00 L45.00,73.00 C55.00,68.50 69.00,68.50 81.00,71.50 C93.00,68.50 107.00,68.50 117.00,73.00 L117.00,79.00 Z" fill="#fbfbfb" stroke="#8a8a8a" stroke-width="0.6"/><path d="M46.00,79.50 C53.00,74.00 61.00,72.00 65.00,72.60 C73.00,73.00 78.00,74.00 81.00,76.00 C84.00,74.00 89.00,73.00 97.00,72.60 C101.00,72.00 109.00,74.00 116.00,79.50 L111.00,142.00 C105.00,144.00 97.00,141.50 89.00,141.00 C85.00,140.50 81.00,141.00 81.00,141.00 C81.00,141.00 77.00,140.50 73.00,141.00 C65.00,141.50 57.00,144.00 51.00,142.00 Z" fill="#060606"/><path d="M50.00,136.00 L112.00,136.00 L112.00,145.00 C101.00,143.00 91.00,147.00 81.00,146.00 C71.00,147.00 61.00,143.00 50.00,145.00 Z" fill="#060606"/><ellipse cx="53" cy="145.5" rx="5.5" ry="3.6" fill="#060606"/><ellipse cx="109" cy="145.5" rx="5.5" ry="3.6" fill="#060606"/><path d="M43.50,78.00 L47.50,78.00 L54.50,139.00 L50.50,139.00 Z" fill="#bfc4cb" stroke="#444" stroke-width="0.5"/><path d="M118.50,78.00 L114.50,78.00 L107.50,139.00 L111.50,139.00 Z" fill="#bfc4cb" stroke="#444" stroke-width="0.5"/><path d="M58.00,110.50 L60.89,107.74 L58.58,104.27 L61.90,102.36 L60.28,98.35 L63.86,97.39 L63.02,93.04 L66.69,93.08 L66.66,88.61 L70.23,89.64 L71.02,85.27 L74.32,87.24 L75.88,83.20 L78.73,86.01 L81.00,82.50 L83.27,86.01 L86.12,83.20 L87.68,87.24 L90.98,85.27 L91.77,89.64 L95.34,88.61 L95.31,93.08 L98.98,93.04 L98.14,97.39 L101.72,98.35 L100.10,102.36 L103.42,104.27 L101.11,107.74 L104.00,110.50 Z" fill="#f0e81e"/><path d="M68.5,112.5 A12.5 13 0 0 1 93.5,112.5 Z" fill="#4a5aa6"/><path d="M58,124.5 L75,120.5 M104,124.5 L87,120.5" stroke="#b8b8c0" stroke-width="2.2"/><path d="M61,134.5 L75,130.5 M101,134.5 L87,130.5" stroke="#b8b8c0" stroke-width="1.8"/><path d="M54,109.5 L59,107.5 L62,122.5 L57,123.5 Z" fill="#b8b8c0"/><path d="M108,109.5 L103,107.5 L100,122.5 L105,123.5 Z" fill="#b8b8c0"/><path d="M75,108.5 L87,108.5 L87,132.5 L86,135.5 L76,135.5 L75,132.5 Z" fill="#b8b8c0"/><ellipse cx="81" cy="113.5" rx="2.6" ry="4" fill="#dc2a1c"/><ellipse cx="81" cy="119.5" rx="2.6" ry="2.6" fill="#f4d41c"/><circle cx="75" cy="108.5" r="1.8" fill="#c8304a"/><circle cx="87" cy="108.5" r="1.8" fill="#c8304a"/><path d="M78.8,106.5 L81,101.5 L83.2,106.5 Z" fill="#f09a3a"/></g></svg>
<svg style="left:1185px;top:565px" width="182" height="182" viewBox="1185 565 182 182"><g fill="#000"><circle cx="1226.86" cy="573.17" r="2.07"/><rect x="1224.79" y="573.17" width="4.14" height="4.14"/><circle cx="1251.68" cy="573.17" r="2.07"/><rect x="1249.61" y="573.17" width="4.14" height="4.14"/><circle cx="1280.64" cy="573.17" r="2.07"/><circle cx="1293.05" cy="573.17" r="2.07"/><rect x="1293.05" y="571.10" width="4.14" height="4.14"/><rect x="1290.98" y="573.17" width="4.14" height="4.14"/><circle cx="1297.18" cy="573.17" r="2.07"/><rect x="1295.11" y="573.17" width="4.14" height="4.14"/><circle cx="1305.46" cy="573.17" r="2.07"/><rect x="1305.46" y="571.10" width="4.14" height="4.14"/><circle cx="1309.59" cy="573.17" r="2.07"/><circle cx="1322.00" cy="573.17" r="2.07"/><circle cx="1226.86" cy="577.30" r="2.07"/><rect x="1224.79" y="577.30" width="4.14" height="4.14"/><circle cx="1235.13" cy="577.30" r="2.07"/><circle cx="1247.54" cy="577.30" r="2.07"/><rect x="1247.54" y="575.24" width="4.14" height="4.14"/><circle cx="1251.68" cy="577.30" r="2.07"/><circle cx="1259.95" cy="577.30" r="2.07"/><rect x="1257.89" y="577.30" width="4.14" height="4.14"/><circle cx="1272.36" cy="577.30" r="2.07"/><rect x="1272.36" y="575.24" width="4.14" height="4.14"/><circle cx="1276.50" cy="577.30" r="2.07"/><circle cx="1284.77" cy="577.30" r="2.07"/><circle cx="1293.05" cy="577.30" r="2.07"/><rect x="1293.05" y="575.24" width="4.14" height="4.14"/><rect x="1290.98" y="577.30" width="4.14" height="4.14"/><circle cx="1297.18" cy="577.30" r="2.07"/><rect x="1297.18" y="575.24" width="4.14" height="4.14"/><rect x="1295.11" y="577.30" width="4.14" height="4.14"/><circle cx="1301.32" cy="577.30" r="2.07"/><circle cx="1317.87" cy="577.30" r="2.07"/><circle cx="1226.86" cy="581.44" r="2.07"/><circle cx="1243.41" cy="581.44" r="2.07"/><circle cx="1259.95" cy="581.44" r="2.07"/><rect x="1259.95" y="579.37" width="4.14" height="4.14"/><rect x="1257.89" y="581.44" width="4.14" height="4.14"/><circle cx="1264.09" cy="581.44" r="2.07"/><circle cx="1293.05" cy="581.44" r="2.07"/><rect x="1293.05" y="579.37" width="4.14" height="4.14"/><rect x="1290.98" y="581.44" width="4.14" height="4.14"/><circle cx="1297.18" cy="581.44" r="2.07"/><circle cx="1305.46" cy="581.44" r="2.07"/><circle cx="1235.13" cy="585.58" r="2.07"/><rect x="1233.07" y="585.58" width="4.14" height="4.14"/><circle cx="1247.54" cy="585.58" r="2.07"/><rect x="1245.48" y="585.58" width="4.14" height="4.14"/><circle cx="1255.82" cy="585.58" r="2.07"/><rect x="1255.82" y="583.51" width="4.14" height="4.14"/><circle cx="1259.95" cy="585.58" r="2.07"/><rect x="1257.89" y="585.58" width="4.14" height="4.14"/><circle cx="1276.50" cy="585.58" r="2.07"/><rect x="1274.43" y="585.58" width="4.14" height="4.14"/><circle cx="1293.05" cy="585.58" r="2.07"/><circle cx="1301.32" cy="585.58" r="2.07"/><circle cx="1317.87" cy="585.58" r="2.07"/><circle cx="1235.13" cy="589.71" r="2.07"/><rect x="1235.13" y="587.65" width="4.14" height="4.14"/><circle cx="1239.27" cy="589.71" r="2.07"/><rect x="1239.27" y="587.65" width="4.14" height="4.14"/><rect x="1237.20" y="589.71" width="4.14" height="4.14"/><circle cx="1243.41" cy="589.71" r="2.07"/><rect x="1243.41" y="587.65" width="4.14" height="4.14"/><circle cx="1247.54" cy="589.71" r="2.07"/><rect x="1245.48" y="589.71" width="4.14" height="4.14"/><circle cx="1259.95" cy="589.71" r="2.07"/><rect x="1257.89" y="589.71" width="4.14" height="4.14"/><circle cx="1272.36" cy="589.71" r="2.07"/><rect x="1272.36" y="587.65" width="4.14" height="4.14"/><circle cx="1276.50" cy="589.71" r="2.07"/><rect x="1276.50" y="587.65" width="4.14" height="4.14"/><rect x="1274.43" y="589.71" width="4.14" height="4.14"/><circle cx="1280.64" cy="589.71" r="2.07"/><rect x="1280.64" y="587.65" width="4.14" height="4.14"/><rect x="1278.57" y="589.71" width="4.14" height="4.14"/><circle cx="1284.77" cy="589.71" r="2.07"/><circle cx="1309.59" cy="589.71" r="2.07"/><rect x="1307.52" y="589.71" width="4.14" height="4.14"/><circle cx="1322.00" cy="589.71" r="2.07"/><circle cx="1226.86" cy="593.85" r="2.07"/><rect x="1226.86" y="591.78" width="4.14" height="4.14"/><rect x="1224.79" y="593.85" width="4.14" height="4.14"/><circle cx="1231.00" cy="593.85" r="2.07"/><circle cx="1239.27" cy="593.85" r="2.07"/><circle cx="1247.54" cy="593.85" r="2.07"/><rect x="1247.54" y="591.78" width="4.14" height="4.14"/><circle cx="1251.68" cy="593.85" r="2.07"/><rect x="1251.68" y="591.78" width="4.14" height="4.14"/><rect x="1249.61" y="593.85" width="4.14" height="4.14"/><circle cx="1255.82" cy="593.85" r="2.07"/><rect x="1255.82" y="591.78" width="4.14" height="4.14"/><circle cx="1259.95" cy="593.85" r="2.07"/><rect x="1259.95" y="591.78" width="4.14" height="4.14"/><rect x="1257.89" y="593.85" width="4.14" height="4.14"/><circle cx="1264.09" cy="593.85" r="2.07"/><circle cx="1276.50" cy="593.85" r="2.07"/><rect x="1276.50" y="591.78" width="4.14" height="4.14"/><rect x="1274.43" y="593.85" width="4.14" height="4.14"/><circle cx="1280.64" cy="593.85" r="2.07"/><circle cx="1288.91" cy="593.85" r="2.07"/><rect x="1288.91" y="591.78" width="4.14" height="4.14"/><circle cx="1293.05" cy="593.85" r="2.07"/><rect x="1290.98" y="593.85" width="4.14" height="4.14"/><circle cx="1301.32" cy="593.85" r="2.07"/><rect x="1301.32" y="591.78" width="4.14" height="4.14"/><rect x="1299.25" y="593.85" width="4.14" height="4.14"/><circle cx="1305.46" cy="593.85" r="2.07"/><rect x="1305.46" y="591.78" width="4.14" height="4.14"/><circle cx="1309.59" cy="593.85" r="2.07"/><rect x="1309.59" y="591.78" width="4.14" height="4.14"/><rect x="1307.52" y="593.85" width="4.14" height="4.14"/><circle cx="1313.73" cy="593.85" r="2.07"/><circle cx="1326.14" cy="593.85" r="2.07"/><rect x="1324.07" y="593.85" width="4.14" height="4.14"/><circle cx="1226.86" cy="597.99" r="2.07"/><rect x="1224.79" y="597.99" width="4.14" height="4.14"/><circle cx="1235.13" cy="597.99" r="2.07"/><rect x="1233.07" y="597.99" width="4.14" height="4.14"/><circle cx="1243.41" cy="597.99" r="2.07"/><rect x="1241.34" y="597.99" width="4.14" height="4.14"/><circle cx="1251.68" cy="597.99" r="2.07"/><rect x="1249.61" y="597.99" width="4.14" height="4.14"/><circle cx="1259.95" cy="597.99" r="2.07"/><circle cx="1268.23" cy="597.99" r="2.07"/><circle cx="1276.50" cy="597.99" r="2.07"/><rect x="1274.43" y="597.99" width="4.14" height="4.14"/><circle cx="1284.77" cy="597.99" r="2.07"/><circle cx="1293.05" cy="597.99" r="2.07"/><circle cx="1301.32" cy="597.99" r="2.07"/><rect x="1299.25" y="597.99" width="4.14" height="4.14"/><circle cx="1309.59" cy="597.99" r="2.07"/><rect x="1307.52" y="597.99" width="4.14" height="4.14"/><circle cx="1317.87" cy="597.99" r="2.07"/><rect x="1315.80" y="597.99" width="4.14" height="4.14"/><circle cx="1326.14" cy="597.99" r="2.07"/><rect x="1324.07" y="597.99" width="4.14" height="4.14"/><circle cx="1226.86" cy="602.12" r="2.07"/><rect x="1224.79" y="602.12" width="4.14" height="4.14"/><circle cx="1235.13" cy="602.12" r="2.07"/><rect x="1235.13" y="600.06" width="4.14" height="4.14"/><circle cx="1239.27" cy="602.12" r="2.07"/><rect x="1239.27" y="600.06" width="4.14" height="4.14"/><circle cx="1243.41" cy="602.12" r="2.07"/><rect x="1243.41" y="600.06" width="4.14" height="4.14"/><circle cx="1247.54" cy="602.12" r="2.07"/><rect x="1247.54" y="600.06" width="4.14" height="4.14"/><circle cx="1251.68" cy="602.12" r="2.07"/><rect x="1251.68" y="600.06" width="4.14" height="4.14"/><circle cx="1255.82" cy="602.12" r="2.07"/><circle cx="1264.09" cy="602.12" r="2.07"/><rect x="1262.02" y="602.12" width="4.14" height="4.14"/><circle cx="1276.50" cy="602.12" r="2.07"/><rect x="1276.50" y="600.06" width="4.14" height="4.14"/><rect x="1274.43" y="602.12" width="4.14" height="4.14"/><circle cx="1280.64" cy="602.12" r="2.07"/><circle cx="1288.91" cy="602.12" r="2.07"/><circle cx="1297.18" cy="602.12" r="2.07"/><rect x="1297.18" y="600.06" width="4.14" height="4.14"/><rect x="1295.11" y="602.12" width="4.14" height="4.14"/><circle cx="1301.32" cy="602.12" r="2.07"/><circle cx="1309.59" cy="602.12" r="2.07"/><circle cx="1317.87" cy="602.12" r="2.07"/><circle cx="1326.14" cy="602.12" r="2.07"/><circle cx="1202.04" cy="606.26" r="2.07"/><rect x="1202.04" y="604.19" width="4.14" height="4.14"/><circle cx="1206.18" cy="606.26" r="2.07"/><rect x="1206.18" y="604.19" width="4.14" height="4.14"/><circle cx="1210.31" cy="606.26" r="2.07"/><circle cx="1218.59" cy="606.26" r="2.07"/><circle cx="1226.86" cy="606.26" r="2.07"/><rect x="1226.86" y="604.19" width="4.14" height="4.14"/><circle cx="1231.00" cy="606.26" r="2.07"/><rect x="1228.93" y="606.26" width="4.14" height="4.14"/><circle cx="1264.09" cy="606.26" r="2.07"/><circle cx="1272.36" cy="606.26" r="2.07"/><rect x="1272.36" y="604.19" width="4.14" height="4.14"/><circle cx="1276.50" cy="606.26" r="2.07"/><rect x="1274.43" y="606.26" width="4.14" height="4.14"/><circle cx="1293.05" cy="606.26" r="2.07"/><rect x="1293.05" y="604.19" width="4.14" height="4.14"/><rect x="1290.98" y="606.26" width="4.14" height="4.14"/><circle cx="1297.18" cy="606.26" r="2.07"/><circle cx="1305.46" cy="606.26" r="2.07"/><circle cx="1313.73" cy="606.26" r="2.07"/><rect x="1311.66" y="606.26" width="4.14" height="4.14"/><circle cx="1330.28" cy="606.26" r="2.07"/><rect x="1330.28" y="604.19" width="4.14" height="4.14"/><circle cx="1334.41" cy="606.26" r="2.07"/><rect x="1334.41" y="604.19" width="4.14" height="4.14"/><circle cx="1338.55" cy="606.26" r="2.07"/><circle cx="1350.96" cy="606.26" r="2.07"/><rect x="1350.96" y="604.19" width="4.14" height="4.14"/><rect x="1348.89" y="606.26" width="4.14" height="4.14"/><circle cx="1355.10" cy="606.26" r="2.07"/><rect x="1355.10" y="604.19" width="4.14" height="4.14"/><circle cx="1359.23" cy="606.26" r="2.07"/><circle cx="1214.45" cy="610.40" r="2.07"/><rect x="1212.38" y="610.40" width="4.14" height="4.14"/><circle cx="1222.72" cy="610.40" r="2.07"/><circle cx="1231.00" cy="610.40" r="2.07"/><rect x="1231.00" y="608.33" width="4.14" height="4.14"/><rect x="1228.93" y="610.40" width="4.14" height="4.14"/><circle cx="1235.13" cy="610.40" r="2.07"/><rect x="1235.13" y="608.33" width="4.14" height="4.14"/><circle cx="1239.27" cy="610.40" r="2.07"/><circle cx="1247.54" cy="610.40" r="2.07"/><circle cx="1259.95" cy="610.40" r="2.07"/><circle cx="1276.50" cy="610.40" r="2.07"/><rect x="1276.50" y="608.33" width="4.14" height="4.14"/><circle cx="1280.64" cy="610.40" r="2.07"/><rect x="1280.64" y="608.33" width="4.14" height="4.14"/><circle cx="1284.77" cy="610.40" r="2.07"/><circle cx="1293.05" cy="610.40" r="2.07"/><circle cx="1301.32" cy="610.40" r="2.07"/><circle cx="1313.73" cy="610.40" r="2.07"/><rect x="1313.73" y="608.33" width="4.14" height="4.14"/><rect x="1311.66" y="610.40" width="4.14" height="4.14"/><circle cx="1317.87" cy="610.40" r="2.07"/><rect x="1317.87" y="608.33" width="4.14" height="4.14"/><circle cx="1322.00" cy="610.40" r="2.07"/><rect x="1322.00" y="608.33" width="4.14" height="4.14"/><circle cx="1326.14" cy="610.40" r="2.07"/><rect x="1324.07" y="610.40" width="4.14" height="4.14"/><circle cx="1342.69" cy="610.40" r="2.07"/><rect x="1340.62" y="610.40" width="4.14" height="4.14"/><circle cx="1350.96" cy="610.40" r="2.07"/><circle cx="1193.77" cy="614.53" r="2.07"/><circle cx="1206.18" cy="614.53" r="2.07"/><circle cx="1214.45" cy="614.53" r="2.07"/><rect x="1214.45" y="612.47" width="4.14" height="4.14"/><rect x="1212.38" y="614.53" width="4.14" height="4.14"/><circle cx="1218.59" cy="614.53" r="2.07"/><circle cx="1226.86" cy="614.53" r="2.07"/><rect x="1226.86" y="612.47" width="4.14" height="4.14"/><circle cx="1231.00" cy="614.53" r="2.07"/><rect x="1228.93" y="614.53" width="4.14" height="4.14"/><circle cx="1243.41" cy="614.53" r="2.07"/><circle cx="1251.68" cy="614.53" r="2.07"/><rect x="1249.61" y="614.53" width="4.14" height="4.14"/><circle cx="1268.23" cy="614.53" r="2.07"/><rect x="1266.16" y="614.53" width="4.14" height="4.14"/><circle cx="1305.46" cy="614.53" r="2.07"/><rect x="1305.46" y="612.47" width="4.14" height="4.14"/><circle cx="1309.59" cy="614.53" r="2.07"/><rect x="1309.59" y="612.47" width="4.14" height="4.14"/><circle cx="1313.73" cy="614.53" r="2.07"/><circle cx="1326.14" cy="614.53" r="2.07"/><rect x="1324.07" y="614.53" width="4.14" height="4.14"/><circle cx="1334.41" cy="614.53" r="2.07"/><circle cx="1342.69" cy="614.53" r="2.07"/><rect x="1340.62" y="614.53" width="4.14" height="4.14"/><circle cx="1359.23" cy="614.53" r="2.07"/><circle cx="1197.90" cy="618.67" r="2.07"/><circle cx="1210.31" cy="618.67" r="2.07"/><rect x="1210.31" y="616.60" width="4.14" height="4.14"/><rect x="1208.25" y="618.67" width="4.14" height="4.14"/><circle cx="1214.45" cy="618.67" r="2.07"/><circle cx="1222.72" cy="618.67" r="2.07"/><circle cx="1231.00" cy="618.67" r="2.07"/><rect x="1228.93" y="618.67" width="4.14" height="4.14"/><circle cx="1239.27" cy="618.67" r="2.07"/><circle cx="1251.68" cy="618.67" r="2.07"/><circle cx="1268.23" cy="618.67" r="2.07"/><rect x="1268.23" y="616.60" width="4.14" height="4.14"/><rect x="1266.16" y="618.67" width="4.14" height="4.14"/><circle cx="1272.36" cy="618.67" r="2.07"/><rect x="1272.36" y="616.60" width="4.14" height="4.14"/><circle cx="1276.50" cy="618.67" r="2.07"/><circle cx="1301.32" cy="618.67" r="2.07"/><rect x="1299.25" y="618.67" width="4.14" height="4.14"/><circle cx="1322.00" cy="618.67" r="2.07"/><rect x="1322.00" y="616.60" width="4.14" height="4.14"/><rect x="1319.93" y="618.67" width="4.14" height="4.14"/><circle cx="1326.14" cy="618.67" r="2.07"/><circle cx="1342.69" cy="618.67" r="2.07"/><rect x="1342.69" y="616.60" width="4.14" height="4.14"/><circle cx="1346.82" cy="618.67" r="2.07"/><rect x="1344.75" y="618.67" width="4.14" height="4.14"/><circle cx="1355.10" cy="618.67" r="2.07"/><rect x="1353.03" y="618.67" width="4.14" height="4.14"/><circle cx="1193.77" cy="622.81" r="2.07"/><circle cx="1206.18" cy="622.81" r="2.07"/><rect x="1206.18" y="620.74" width="4.14" height="4.14"/><circle cx="1210.31" cy="622.81" r="2.07"/><circle cx="1218.59" cy="622.81" r="2.07"/><circle cx="1226.86" cy="622.81" r="2.07"/><rect x="1226.86" y="620.74" width="4.14" height="4.14"/><rect x="1224.79" y="622.81" width="4.14" height="4.14"/><circle cx="1231.00" cy="622.81" r="2.07"/><rect x="1231.00" y="620.74" width="4.14" height="4.14"/><circle cx="1235.13" cy="622.81" r="2.07"/><rect x="1233.07" y="622.81" width="4.14" height="4.14"/><circle cx="1264.09" cy="622.81" r="2.07"/><rect x="1264.09" y="620.74" width="4.14" height="4.14"/><circle cx="1268.23" cy="622.81" r="2.07"/><circle cx="1288.91" cy="622.81" r="2.07"/><rect x="1288.91" y="620.74" width="4.14" height="4.14"/><rect x="1286.84" y="622.81" width="4.14" height="4.14"/><circle cx="1293.05" cy="622.81" r="2.07"/><rect x="1290.98" y="622.81" width="4.14" height="4.14"/><circle cx="1301.32" cy="622.81" r="2.07"/><rect x="1301.32" y="620.74" width="4.14" height="4.14"/><circle cx="1305.46" cy="622.81" r="2.07"/><rect x="1305.46" y="620.74" width="4.14" height="4.14"/><rect x="1303.39" y="622.81" width="4.14" height="4.14"/><circle cx="1309.59" cy="622.81" r="2.07"/><rect x="1309.59" y="620.74" width="4.14" height="4.14"/><circle cx="1313.73" cy="622.81" r="2.07"/><circle cx="1322.00" cy="622.81" r="2.07"/><circle cx="1330.28" cy="622.81" r="2.07"/><rect x="1330.28" y="620.74" width="4.14" height="4.14"/><rect x="1328.21" y="622.81" width="4.14" height="4.14"/><circle cx="1334.41" cy="622.81" r="2.07"/><rect x="1334.41" y="620.74" width="4.14" height="4.14"/><rect x="1332.34" y="622.81" width="4.14" height="4.14"/><circle cx="1338.55" cy="622.81" r="2.07"/><rect x="1336.48" y="622.81" width="4.14" height="4.14"/><circle cx="1346.82" cy="622.81" r="2.07"/><rect x="1346.82" y="620.74" width="4.14" height="4.14"/><circle cx="1350.96" cy="622.81" r="2.07"/><rect x="1350.96" y="620.74" width="4.14" height="4.14"/><circle cx="1355.10" cy="622.81" r="2.07"/><rect x="1355.10" y="620.74" width="4.14" height="4.14"/><circle cx="1359.23" cy="622.81" r="2.07"/><rect x="1357.16" y="622.81" width="4.14" height="4.14"/><circle cx="1197.90" cy="626.94" r="2.07"/><rect x="1195.84" y="626.94" width="4.14" height="4.14"/><circle cx="1214.45" cy="626.94" r="2.07"/><circle cx="1222.72" cy="626.94" r="2.07"/><rect x="1222.72" y="624.88" width="4.14" height="4.14"/><rect x="1220.66" y="626.94" width="4.14" height="4.14"/><circle cx="1226.86" cy="626.94" r="2.07"/><rect x="1224.79" y="626.94" width="4.14" height="4.14"/><circle cx="1235.13" cy="626.94" r="2.07"/><rect x="1235.13" y="624.88" width="4.14" height="4.14"/><circle cx="1239.27" cy="626.94" r="2.07"/><rect x="1239.27" y="624.88" width="4.14" height="4.14"/><circle cx="1243.41" cy="626.94" r="2.07"/><circle cx="1251.68" cy="626.94" r="2.07"/><circle cx="1259.95" cy="626.94" r="2.07"/><circle cx="1272.36" cy="626.94" r="2.07"/><circle cx="1280.64" cy="626.94" r="2.07"/><circle cx="1288.91" cy="626.94" r="2.07"/><rect x="1288.91" y="624.88" width="4.14" height="4.14"/><circle cx="1293.05" cy="626.94" r="2.07"/><rect x="1293.05" y="624.88" width="4.14" height="4.14"/><circle cx="1297.18" cy="626.94" r="2.07"/><circle cx="1305.46" cy="626.94" r="2.07"/><rect x="1303.39" y="626.94" width="4.14" height="4.14"/><circle cx="1326.14" cy="626.94" r="2.07"/><rect x="1326.14" y="624.88" width="4.14" height="4.14"/><circle cx="1330.28" cy="626.94" r="2.07"/><rect x="1330.28" y="624.88" width="4.14" height="4.14"/><rect x="1328.21" y="626.94" width="4.14" height="4.14"/><circle cx="1334.41" cy="626.94" r="2.07"/><rect x="1334.41" y="624.88" width="4.14" height="4.14"/><circle cx="1338.55" cy="626.94" r="2.07"/><rect x="1338.55" y="624.88" width="4.14" height="4.14"/><rect x="1336.48" y="626.94" width="4.14" height="4.14"/><circle cx="1342.69" cy="626.94" r="2.07"/><rect x="1340.62" y="626.94" width="4.14" height="4.14"/><circle cx="1359.23" cy="626.94" r="2.07"/><circle cx="1193.77" cy="631.08" r="2.07"/><rect x="1193.77" y="629.01" width="4.14" height="4.14"/><circle cx="1197.90" cy="631.08" r="2.07"/><circle cx="1218.59" cy="631.08" r="2.07"/><rect x="1218.59" y="629.01" width="4.14" height="4.14"/><circle cx="1222.72" cy="631.08" r="2.07"/><rect x="1222.72" y="629.01" width="4.14" height="4.14"/><circle cx="1226.86" cy="631.08" r="2.07"/><rect x="1226.86" y="629.01" width="4.14" height="4.14"/><circle cx="1231.00" cy="631.08" r="2.07"/><circle cx="1305.46" cy="631.08" r="2.07"/><rect x="1305.46" y="629.01" width="4.14" height="4.14"/><rect x="1303.39" y="631.08" width="4.14" height="4.14"/><circle cx="1309.59" cy="631.08" r="2.07"/><circle cx="1317.87" cy="631.08" r="2.07"/><rect x="1317.87" y="629.01" width="4.14" height="4.14"/><circle cx="1322.00" cy="631.08" r="2.07"/><rect x="1319.93" y="631.08" width="4.14" height="4.14"/><circle cx="1330.28" cy="631.08" r="2.07"/><circle cx="1338.55" cy="631.08" r="2.07"/><rect x="1338.55" y="629.01" width="4.14" height="4.14"/><rect x="1336.48" y="631.08" width="4.14" height="4.14"/><circle cx="1342.69" cy="631.08" r="2.07"/><rect x="1342.69" y="629.01" width="4.14" height="4.14"/><rect x="1340.62" y="631.08" width="4.14" height="4.14"/><circle cx="1346.82" cy="631.08" r="2.07"/><rect x="1344.75" y="631.08" width="4.14" height="4.14"/><circle cx="1355.10" cy="631.08" r="2.07"/><circle cx="1206.18" cy="635.22" r="2.07"/><rect x="1204.11" y="635.22" width="4.14" height="4.14"/><circle cx="1239.27" cy="635.22" r="2.07"/><rect x="1239.27" y="633.15" width="4.14" height="4.14"/><rect x="1237.20" y="635.22" width="4.14" height="4.14"/><circle cx="1243.41" cy="635.22" r="2.07"/><rect x="1243.41" y="633.15" width="4.14" height="4.14"/><rect x="1241.34" y="635.22" width="4.14" height="4.14"/><circle cx="1247.54" cy="635.22" r="2.07"/><rect x="1245.48" y="635.22" width="4.14" height="4.14"/><circle cx="1305.46" cy="635.22" r="2.07"/><rect x="1303.39" y="635.22" width="4.14" height="4.14"/><circle cx="1313.73" cy="635.22" r="2.07"/><circle cx="1322.00" cy="635.22" r="2.07"/><rect x="1322.00" y="633.15" width="4.14" height="4.14"/><rect x="1319.93" y="635.22" width="4.14" height="4.14"/><circle cx="1326.14" cy="635.22" r="2.07"/><rect x="1324.07" y="635.22" width="4.14" height="4.14"/><circle cx="1334.41" cy="635.22" r="2.07"/><rect x="1334.41" y="633.15" width="4.14" height="4.14"/><circle cx="1338.55" cy="635.22" r="2.07"/><rect x="1338.55" y="633.15" width="4.14" height="4.14"/><rect x="1336.48" y="635.22" width="4.14" height="4.14"/><circle cx="1342.69" cy="635.22" r="2.07"/><rect x="1342.69" y="633.15" width="4.14" height="4.14"/><circle cx="1346.82" cy="635.22" r="2.07"/><circle cx="1193.77" cy="639.35" r="2.07"/><rect x="1191.70" y="639.35" width="4.14" height="4.14"/><circle cx="1206.18" cy="639.35" r="2.07"/><circle cx="1218.59" cy="639.35" r="2.07"/><circle cx="1226.86" cy="639.35" r="2.07"/><rect x="1226.86" y="637.29" width="4.14" height="4.14"/><circle cx="1231.00" cy="639.35" r="2.07"/><rect x="1231.00" y="637.29" width="4.14" height="4.14"/><rect x="1228.93" y="639.35" width="4.14" height="4.14"/><circle cx="1235.13" cy="639.35" r="2.07"/><rect x="1235.13" y="637.29" width="4.14" height="4.14"/><circle cx="1239.27" cy="639.35" r="2.07"/><rect x="1239.27" y="637.29" width="4.14" height="4.14"/><circle cx="1243.41" cy="639.35" r="2.07"/><rect x="1243.41" y="637.29" width="4.14" height="4.14"/><rect x="1241.34" y="639.35" width="4.14" height="4.14"/><circle cx="1247.54" cy="639.35" r="2.07"/><circle cx="1305.46" cy="639.35" r="2.07"/><rect x="1303.39" y="639.35" width="4.14" height="4.14"/><circle cx="1317.87" cy="639.35" r="2.07"/><rect x="1317.87" y="637.29" width="4.14" height="4.14"/><circle cx="1322.00" cy="639.35" r="2.07"/><rect x="1322.00" y="637.29" width="4.14" height="4.14"/><circle cx="1326.14" cy="639.35" r="2.07"/><rect x="1326.14" y="637.29" width="4.14" height="4.14"/><circle cx="1330.28" cy="639.35" r="2.07"/><circle cx="1338.55" cy="639.35" r="2.07"/><rect x="1336.48" y="639.35" width="4.14" height="4.14"/><circle cx="1350.96" cy="639.35" r="2.07"/><rect x="1350.96" y="637.29" width="4.14" height="4.14"/><circle cx="1355.10" cy="639.35" r="2.07"/><rect x="1353.03" y="639.35" width="4.14" height="4.14"/><circle cx="1193.77" cy="643.49" r="2.07"/><rect x="1191.70" y="643.49" width="4.14" height="4.14"/><circle cx="1202.04" cy="643.49" r="2.07"/><circle cx="1231.00" cy="643.49" r="2.07"/><circle cx="1243.41" cy="643.49" r="2.07"/><circle cx="1305.46" cy="643.49" r="2.07"/><circle cx="1313.73" cy="643.49" r="2.07"/><rect x="1311.66" y="643.49" width="4.14" height="4.14"/><circle cx="1334.41" cy="643.49" r="2.07"/><rect x="1334.41" y="641.42" width="4.14" height="4.14"/><rect x="1332.34" y="643.49" width="4.14" height="4.14"/><circle cx="1338.55" cy="643.49" r="2.07"/><rect x="1338.55" y="641.42" width="4.14" height="4.14"/><circle cx="1342.69" cy="643.49" r="2.07"/><rect x="1340.62" y="643.49" width="4.14" height="4.14"/><circle cx="1355.10" cy="643.49" r="2.07"/><rect x="1355.10" y="641.42" width="4.14" height="4.14"/><circle cx="1359.23" cy="643.49" r="2.07"/><circle cx="1193.77" cy="647.63" r="2.07"/><circle cx="1210.31" cy="647.63" r="2.07"/><rect x="1210.31" y="645.56" width="4.14" height="4.14"/><circle cx="1214.45" cy="647.63" r="2.07"/><rect x="1214.45" y="645.56" width="4.14" height="4.14"/><rect x="1212.38" y="647.63" width="4.14" height="4.14"/><circle cx="1218.59" cy="647.63" r="2.07"/><rect x="1218.59" y="645.56" width="4.14" height="4.14"/><circle cx="1222.72" cy="647.63" r="2.07"/><rect x="1222.72" y="645.56" width="4.14" height="4.14"/><circle cx="1226.86" cy="647.63" r="2.07"/><circle cx="1235.13" cy="647.63" r="2.07"/><rect x="1235.13" y="645.56" width="4.14" height="4.14"/><rect x="1233.07" y="647.63" width="4.14" height="4.14"/><circle cx="1239.27" cy="647.63" r="2.07"/><rect x="1237.20" y="647.63" width="4.14" height="4.14"/><circle cx="1309.59" cy="647.63" r="2.07"/><rect x="1309.59" y="645.56" width="4.14" height="4.14"/><circle cx="1313.73" cy="647.63" r="2.07"/><rect x="1311.66" y="647.63" width="4.14" height="4.14"/><circle cx="1330.28" cy="647.63" r="2.07"/><rect x="1330.28" y="645.56" width="4.14" height="4.14"/><rect x="1328.21" y="647.63" width="4.14" height="4.14"/><circle cx="1334.41" cy="647.63" r="2.07"/><circle cx="1342.69" cy="647.63" r="2.07"/><rect x="1340.62" y="647.63" width="4.14" height="4.14"/><circle cx="1350.96" cy="647.63" r="2.07"/><circle cx="1197.90" cy="651.76" r="2.07"/><rect x="1197.90" y="649.70" width="4.14" height="4.14"/><circle cx="1202.04" cy="651.76" r="2.07"/><rect x="1202.04" y="649.70" width="4.14" height="4.14"/><circle cx="1206.18" cy="651.76" r="2.07"/><circle cx="1214.45" cy="651.76" r="2.07"/><circle cx="1235.13" cy="651.76" r="2.07"/><rect x="1235.13" y="649.70" width="4.14" height="4.14"/><rect x="1233.07" y="651.76" width="4.14" height="4.14"/><circle cx="1239.27" cy="651.76" r="2.07"/><rect x="1237.20" y="651.76" width="4.14" height="4.14"/><circle cx="1305.46" cy="651.76" r="2.07"/><rect x="1303.39" y="651.76" width="4.14" height="4.14"/><circle cx="1313.73" cy="651.76" r="2.07"/><rect x="1313.73" y="649.70" width="4.14" height="4.14"/><circle cx="1317.87" cy="651.76" r="2.07"/><circle cx="1326.14" cy="651.76" r="2.07"/><rect x="1326.14" y="649.70" width="4.14" height="4.14"/><rect x="1324.07" y="651.76" width="4.14" height="4.14"/><circle cx="1330.28" cy="651.76" r="2.07"/><rect x="1328.21" y="651.76" width="4.14" height="4.14"/><circle cx="1342.69" cy="651.76" r="2.07"/><rect x="1340.62" y="651.76" width="4.14" height="4.14"/><circle cx="1210.31" cy="655.90" r="2.07"/><circle cx="1218.59" cy="655.90" r="2.07"/><rect x="1218.59" y="653.83" width="4.14" height="4.14"/><circle cx="1222.72" cy="655.90" r="2.07"/><rect x="1222.72" y="653.83" width="4.14" height="4.14"/><rect x="1220.66" y="655.90" width="4.14" height="4.14"/><circle cx="1226.86" cy="655.90" r="2.07"/><circle cx="1235.13" cy="655.90" r="2.07"/><rect x="1235.13" y="653.83" width="4.14" height="4.14"/><rect x="1233.07" y="655.90" width="4.14" height="4.14"/><circle cx="1239.27" cy="655.90" r="2.07"/><circle cx="1247.54" cy="655.90" r="2.07"/><circle cx="1305.46" cy="655.90" r="2.07"/><rect x="1305.46" y="653.83" width="4.14" height="4.14"/><circle cx="1309.59" cy="655.90" r="2.07"/><circle cx="1326.14" cy="655.90" r="2.07"/><rect x="1326.14" y="653.83" width="4.14" height="4.14"/><rect x="1324.07" y="655.90" width="4.14" height="4.14"/><circle cx="1330.28" cy="655.90" r="2.07"/><rect x="1328.21" y="655.90" width="4.14" height="4.14"/><circle cx="1342.69" cy="655.90" r="2.07"/><rect x="1342.69" y="653.83" width="4.14" height="4.14"/><circle cx="1346.82" cy="655.90" r="2.07"/><rect x="1346.82" y="653.83" width="4.14" height="4.14"/><circle cx="1350.96" cy="655.90" r="2.07"/><rect x="1350.96" y="653.83" width="4.14" height="4.14"/><circle cx="1355.10" cy="655.90" r="2.07"/><rect x="1355.10" y="653.83" width="4.14" height="4.14"/><rect x="1353.03" y="655.90" width="4.14" height="4.14"/><circle cx="1359.23" cy="655.90" r="2.07"/><rect x="1357.16" y="655.90" width="4.14" height="4.14"/><circle cx="1193.77" cy="660.04" r="2.07"/><circle cx="1214.45" cy="660.04" r="2.07"/><circle cx="1222.72" cy="660.04" r="2.07"/><rect x="1220.66" y="660.04" width="4.14" height="4.14"/><circle cx="1231.00" cy="660.04" r="2.07"/><rect x="1231.00" y="657.97" width="4.14" height="4.14"/><circle cx="1235.13" cy="660.04" r="2.07"/><rect x="1233.07" y="660.04" width="4.14" height="4.14"/><circle cx="1313.73" cy="660.04" r="2.07"/><rect x="1313.73" y="657.97" width="4.14" height="4.14"/><rect x="1311.66" y="660.04" width="4.14" height="4.14"/><circle cx="1317.87" cy="660.04" r="2.07"/><rect x="1317.87" y="657.97" width="4.14" height="4.14"/><circle cx="1322.00" cy="660.04" r="2.07"/><rect x="1322.00" y="657.97" width="4.14" height="4.14"/><circle cx="1326.14" cy="660.04" r="2.07"/><rect x="1326.14" y="657.97" width="4.14" height="4.14"/><circle cx="1330.28" cy="660.04" r="2.07"/><rect x="1330.28" y="657.97" width="4.14" height="4.14"/><rect x="1328.21" y="660.04" width="4.14" height="4.14"/><circle cx="1334.41" cy="660.04" r="2.07"/><rect x="1332.34" y="660.04" width="4.14" height="4.14"/><circle cx="1355.10" cy="660.04" r="2.07"/><rect x="1355.10" y="657.97" width="4.14" height="4.14"/><circle cx="1359.23" cy="660.04" r="2.07"/><circle cx="1197.90" cy="664.17" r="2.07"/><rect x="1197.90" y="662.10" width="4.14" height="4.14"/><rect x="1195.84" y="664.17" width="4.14" height="4.14"/><circle cx="1202.04" cy="664.17" r="2.07"/><rect x="1202.04" y="662.10" width="4.14" height="4.14"/><rect x="1199.97" y="664.17" width="4.14" height="4.14"/><circle cx="1206.18" cy="664.17" r="2.07"/><circle cx="1218.59" cy="664.17" r="2.07"/><rect x="1218.59" y="662.10" width="4.14" height="4.14"/><circle cx="1222.72" cy="664.17" r="2.07"/><rect x="1220.66" y="664.17" width="4.14" height="4.14"/><circle cx="1235.13" cy="664.17" r="2.07"/><circle cx="1243.41" cy="664.17" r="2.07"/><rect x="1243.41" y="662.10" width="4.14" height="4.14"/><circle cx="1247.54" cy="664.17" r="2.07"/><circle cx="1305.46" cy="664.17" r="2.07"/><circle cx="1313.73" cy="664.17" r="2.07"/><circle cx="1330.28" cy="664.17" r="2.07"/><rect x="1330.28" y="662.10" width="4.14" height="4.14"/><circle cx="1334.41" cy="664.17" r="2.07"/><rect x="1334.41" y="662.10" width="4.14" height="4.14"/><circle cx="1338.55" cy="664.17" r="2.07"/><rect x="1338.55" y="662.10" width="4.14" height="4.14"/><rect x="1336.48" y="664.17" width="4.14" height="4.14"/><circle cx="1342.69" cy="664.17" r="2.07"/><rect x="1342.69" y="662.10" width="4.14" height="4.14"/><rect x="1340.62" y="664.17" width="4.14" height="4.14"/><circle cx="1346.82" cy="664.17" r="2.07"/><circle cx="1197.90" cy="668.31" r="2.07"/><rect x="1197.90" y="666.24" width="4.14" height="4.14"/><circle cx="1202.04" cy="668.31" r="2.07"/><circle cx="1214.45" cy="668.31" r="2.07"/><circle cx="1222.72" cy="668.31" r="2.07"/><rect x="1220.66" y="668.31" width="4.14" height="4.14"/><circle cx="1231.00" cy="668.31" r="2.07"/><rect x="1228.93" y="668.31" width="4.14" height="4.14"/><circle cx="1239.27" cy="668.31" r="2.07"/><rect x="1237.20" y="668.31" width="4.14" height="4.14"/><circle cx="1309.59" cy="668.31" r="2.07"/><rect x="1307.52" y="668.31" width="4.14" height="4.14"/><circle cx="1322.00" cy="668.31" r="2.07"/><circle cx="1338.55" cy="668.31" r="2.07"/><rect x="1338.55" y="666.24" width="4.14" height="4.14"/><rect x="1336.48" y="668.31" width="4.14" height="4.14"/><circle cx="1342.69" cy="668.31" r="2.07"/><rect x="1340.62" y="668.31" width="4.14" height="4.14"/><circle cx="1350.96" cy="668.31" r="2.07"/><circle cx="1210.31" cy="672.45" r="2.07"/><rect x="1208.25" y="672.45" width="4.14" height="4.14"/><circle cx="1218.59" cy="672.45" r="2.07"/><rect x="1218.59" y="670.38" width="4.14" height="4.14"/><circle cx="1222.72" cy="672.45" r="2.07"/><rect x="1222.72" y="670.38" width="4.14" height="4.14"/><circle cx="1226.86" cy="672.45" r="2.07"/><rect x="1226.86" y="670.38" width="4.14" height="4.14"/><circle cx="1231.00" cy="672.45" r="2.07"/><rect x="1231.00" y="670.38" width="4.14" height="4.14"/><circle cx="1235.13" cy="672.45" r="2.07"/><rect x="1235.13" y="670.38" width="4.14" height="4.14"/><rect x="1233.07" y="672.45" width="4.14" height="4.14"/><circle cx="1239.27" cy="672.45" r="2.07"/><rect x="1237.20" y="672.45" width="4.14" height="4.14"/><circle cx="1247.54" cy="672.45" r="2.07"/><circle cx="1305.46" cy="672.45" r="2.07"/><rect x="1305.46" y="670.38" width="4.14" height="4.14"/><circle cx="1309.59" cy="672.45" r="2.07"/><rect x="1309.59" y="670.38" width="4.14" height="4.14"/><rect x="1307.52" y="672.45" width="4.14" height="4.14"/><circle cx="1313.73" cy="672.45" r="2.07"/><circle cx="1330.28" cy="672.45" r="2.07"/><rect x="1330.28" y="670.38" width="4.14" height="4.14"/><circle cx="1334.41" cy="672.45" r="2.07"/><rect x="1334.41" y="670.38" width="4.14" height="4.14"/><circle cx="1338.55" cy="672.45" r="2.07"/><rect x="1338.55" y="670.38" width="4.14" height="4.14"/><circle cx="1342.69" cy="672.45" r="2.07"/><rect x="1342.69" y="670.38" width="4.14" height="4.14"/><rect x="1340.62" y="672.45" width="4.14" height="4.14"/><circle cx="1346.82" cy="672.45" r="2.07"/><rect x="1344.75" y="672.45" width="4.14" height="4.14"/><circle cx="1355.10" cy="672.45" r="2.07"/><rect x="1353.03" y="672.45" width="4.14" height="4.14"/><circle cx="1197.90" cy="676.58" r="2.07"/><circle cx="1210.31" cy="676.58" r="2.07"/><rect x="1208.25" y="676.58" width="4.14" height="4.14"/><circle cx="1235.13" cy="676.58" r="2.07"/><rect x="1235.13" y="674.51" width="4.14" height="4.14"/><circle cx="1239.27" cy="676.58" r="2.07"/><rect x="1239.27" y="674.51" width="4.14" height="4.14"/><circle cx="1243.41" cy="676.58" r="2.07"/><circle cx="1309.59" cy="676.58" r="2.07"/><rect x="1307.52" y="676.58" width="4.14" height="4.14"/><circle cx="1322.00" cy="676.58" r="2.07"/><circle cx="1342.69" cy="676.58" r="2.07"/><rect x="1342.69" y="674.51" width="4.14" height="4.14"/><circle cx="1346.82" cy="676.58" r="2.07"/><circle cx="1355.10" cy="676.58" r="2.07"/><circle cx="1193.77" cy="680.72" r="2.07"/><circle cx="1210.31" cy="680.72" r="2.07"/><rect x="1210.31" y="678.65" width="4.14" height="4.14"/><rect x="1208.25" y="680.72" width="4.14" height="4.14"/><circle cx="1214.45" cy="680.72" r="2.07"/><rect x="1214.45" y="678.65" width="4.14" height="4.14"/><rect x="1212.38" y="680.72" width="4.14" height="4.14"/><circle cx="1218.59" cy="680.72" r="2.07"/><circle cx="1226.86" cy="680.72" r="2.07"/><rect x="1224.79" y="680.72" width="4.14" height="4.14"/><circle cx="1305.46" cy="680.72" r="2.07"/><rect x="1305.46" y="678.65" width="4.14" height="4.14"/><rect x="1303.39" y="680.72" width="4.14" height="4.14"/><circle cx="1309.59" cy="680.72" r="2.07"/><rect x="1307.52" y="680.72" width="4.14" height="4.14"/><circle cx="1326.14" cy="680.72" r="2.07"/><rect x="1324.07" y="680.72" width="4.14" height="4.14"/><circle cx="1334.41" cy="680.72" r="2.07"/><circle cx="1359.23" cy="680.72" r="2.07"/><circle cx="1210.31" cy="684.86" r="2.07"/><rect x="1210.31" y="682.79" width="4.14" height="4.14"/><circle cx="1214.45" cy="684.86" r="2.07"/><circle cx="1222.72" cy="684.86" r="2.07"/><rect x="1222.72" y="682.79" width="4.14" height="4.14"/><rect x="1220.66" y="684.86" width="4.14" height="4.14"/><circle cx="1226.86" cy="684.86" r="2.07"/><rect x="1224.79" y="684.86" width="4.14" height="4.14"/><circle cx="1239.27" cy="684.86" r="2.07"/><rect x="1237.20" y="684.86" width="4.14" height="4.14"/><circle cx="1247.54" cy="684.86" r="2.07"/><rect x="1247.54" y="682.79" width="4.14" height="4.14"/><circle cx="1251.68" cy="684.86" r="2.07"/><rect x="1251.68" y="682.79" width="4.14" height="4.14"/><circle cx="1255.82" cy="684.86" r="2.07"/><rect x="1255.82" y="682.79" width="4.14" height="4.14"/><rect x="1253.75" y="684.86" width="4.14" height="4.14"/><circle cx="1259.95" cy="684.86" r="2.07"/><circle cx="1280.64" cy="684.86" r="2.07"/><circle cx="1288.91" cy="684.86" r="2.07"/><circle cx="1305.46" cy="684.86" r="2.07"/><rect x="1305.46" y="682.79" width="4.14" height="4.14"/><circle cx="1309.59" cy="684.86" r="2.07"/><circle cx="1322.00" cy="684.86" r="2.07"/><rect x="1322.00" y="682.79" width="4.14" height="4.14"/><rect x="1319.93" y="684.86" width="4.14" height="4.14"/><circle cx="1326.14" cy="684.86" r="2.07"/><rect x="1326.14" y="682.79" width="4.14" height="4.14"/><circle cx="1330.28" cy="684.86" r="2.07"/><rect x="1328.21" y="684.86" width="4.14" height="4.14"/><circle cx="1338.55" cy="684.86" r="2.07"/><rect x="1338.55" y="682.79" width="4.14" height="4.14"/><circle cx="1342.69" cy="684.86" r="2.07"/><rect x="1342.69" y="682.79" width="4.14" height="4.14"/><circle cx="1346.82" cy="684.86" r="2.07"/><rect x="1344.75" y="684.86" width="4.14" height="4.14"/><circle cx="1355.10" cy="684.86" r="2.07"/><rect x="1353.03" y="684.86" width="4.14" height="4.14"/><circle cx="1202.04" cy="688.99" r="2.07"/><rect x="1202.04" y="686.92" width="4.14" height="4.14"/><rect x="1199.97" y="688.99" width="4.14" height="4.14"/><circle cx="1206.18" cy="688.99" r="2.07"/><rect x="1204.11" y="688.99" width="4.14" height="4.14"/><circle cx="1218.59" cy="688.99" r="2.07"/><rect x="1218.59" y="686.92" width="4.14" height="4.14"/><circle cx="1222.72" cy="688.99" r="2.07"/><rect x="1222.72" y="686.92" width="4.14" height="4.14"/><rect x="1220.66" y="688.99" width="4.14" height="4.14"/><circle cx="1226.86" cy="688.99" r="2.07"/><rect x="1224.79" y="688.99" width="4.14" height="4.14"/><circle cx="1239.27" cy="688.99" r="2.07"/><circle cx="1255.82" cy="688.99" r="2.07"/><rect x="1253.75" y="688.99" width="4.14" height="4.14"/><circle cx="1264.09" cy="688.99" r="2.07"/><rect x="1262.02" y="688.99" width="4.14" height="4.14"/><circle cx="1272.36" cy="688.99" r="2.07"/><rect x="1272.36" y="686.92" width="4.14" height="4.14"/><rect x="1270.30" y="688.99" width="4.14" height="4.14"/><circle cx="1276.50" cy="688.99" r="2.07"/><rect x="1274.43" y="688.99" width="4.14" height="4.14"/><circle cx="1297.18" cy="688.99" r="2.07"/><rect x="1297.18" y="686.92" width="4.14" height="4.14"/><rect x="1295.11" y="688.99" width="4.14" height="4.14"/><circle cx="1301.32" cy="688.99" r="2.07"/><rect x="1299.25" y="688.99" width="4.14" height="4.14"/><circle cx="1313.73" cy="688.99" r="2.07"/><rect x="1313.73" y="686.92" width="4.14" height="4.14"/><rect x="1311.66" y="688.99" width="4.14" height="4.14"/><circle cx="1317.87" cy="688.99" r="2.07"/><rect x="1317.87" y="686.92" width="4.14" height="4.14"/><rect x="1315.80" y="688.99" width="4.14" height="4.14"/><circle cx="1322.00" cy="688.99" r="2.07"/><circle cx="1330.28" cy="688.99" r="2.07"/><rect x="1330.28" y="686.92" width="4.14" height="4.14"/><circle cx="1334.41" cy="688.99" r="2.07"/><rect x="1332.34" y="688.99" width="4.14" height="4.14"/><circle cx="1346.82" cy="688.99" r="2.07"/><rect x="1346.82" y="686.92" width="4.14" height="4.14"/><rect x="1344.75" y="688.99" width="4.14" height="4.14"/><circle cx="1350.96" cy="688.99" r="2.07"/><rect x="1350.96" y="686.92" width="4.14" height="4.14"/><rect x="1348.89" y="688.99" width="4.14" height="4.14"/><circle cx="1355.10" cy="688.99" r="2.07"/><rect x="1355.10" y="686.92" width="4.14" height="4.14"/><circle cx="1359.23" cy="688.99" r="2.07"/><rect x="1357.16" y="688.99" width="4.14" height="4.14"/><circle cx="1193.77" cy="693.13" r="2.07"/><rect x="1191.70" y="693.13" width="4.14" height="4.14"/><circle cx="1202.04" cy="693.13" r="2.07"/><rect x="1202.04" y="691.06" width="4.14" height="4.14"/><rect x="1199.97" y="693.13" width="4.14" height="4.14"/><circle cx="1206.18" cy="693.13" r="2.07"/><rect x="1206.18" y="691.06" width="4.14" height="4.14"/><rect x="1204.11" y="693.13" width="4.14" height="4.14"/><circle cx="1210.31" cy="693.13" r="2.07"/><rect x="1210.31" y="691.06" width="4.14" height="4.14"/><circle cx="1214.45" cy="693.13" r="2.07"/><circle cx="1222.72" cy="693.13" r="2.07"/><rect x="1222.72" y="691.06" width="4.14" height="4.14"/><rect x="1220.66" y="693.13" width="4.14" height="4.14"/><circle cx="1226.86" cy="693.13" r="2.07"/><rect x="1226.86" y="691.06" width="4.14" height="4.14"/><rect x="1224.79" y="693.13" width="4.14" height="4.14"/><circle cx="1231.00" cy="693.13" r="2.07"/><circle cx="1247.54" cy="693.13" r="2.07"/><circle cx="1255.82" cy="693.13" r="2.07"/><rect x="1255.82" y="691.06" width="4.14" height="4.14"/><rect x="1253.75" y="693.13" width="4.14" height="4.14"/><circle cx="1259.95" cy="693.13" r="2.07"/><rect x="1259.95" y="691.06" width="4.14" height="4.14"/><rect x="1257.89" y="693.13" width="4.14" height="4.14"/><circle cx="1264.09" cy="693.13" r="2.07"/><rect x="1264.09" y="691.06" width="4.14" height="4.14"/><rect x="1262.02" y="693.13" width="4.14" height="4.14"/><circle cx="1268.23" cy="693.13" r="2.07"/><rect x="1268.23" y="691.06" width="4.14" height="4.14"/><rect x="1266.16" y="693.13" width="4.14" height="4.14"/><circle cx="1272.36" cy="693.13" r="2.07"/><rect x="1272.36" y="691.06" width="4.14" height="4.14"/><rect x="1270.30" y="693.13" width="4.14" height="4.14"/><circle cx="1276.50" cy="693.13" r="2.07"/><rect x="1276.50" y="691.06" width="4.14" height="4.14"/><rect x="1274.43" y="693.13" width="4.14" height="4.14"/><circle cx="1280.64" cy="693.13" r="2.07"/><rect x="1280.64" y="691.06" width="4.14" height="4.14"/><circle cx="1284.77" cy="693.13" r="2.07"/><rect x="1284.77" y="691.06" width="4.14" height="4.14"/><circle cx="1288.91" cy="693.13" r="2.07"/><rect x="1288.91" y="691.06" width="4.14" height="4.14"/><rect x="1286.84" y="693.13" width="4.14" height="4.14"/><circle cx="1293.05" cy="693.13" r="2.07"/><rect x="1293.05" y="691.06" width="4.14" height="4.14"/><circle cx="1297.18" cy="693.13" r="2.07"/><rect x="1297.18" y="691.06" width="4.14" height="4.14"/><circle cx="1301.32" cy="693.13" r="2.07"/><rect x="1301.32" y="691.06" width="4.14" height="4.14"/><rect x="1299.25" y="693.13" width="4.14" height="4.14"/><circle cx="1305.46" cy="693.13" r="2.07"/><rect x="1305.46" y="691.06" width="4.14" height="4.14"/><circle cx="1309.59" cy="693.13" r="2.07"/><rect x="1309.59" y="691.06" width="4.14" height="4.14"/><circle cx="1313.73" cy="693.13" r="2.07"/><rect x="1313.73" y="691.06" width="4.14" height="4.14"/><circle cx="1317.87" cy="693.13" r="2.07"/><rect x="1315.80" y="693.13" width="4.14" height="4.14"/><circle cx="1334.41" cy="693.13" r="2.07"/><rect x="1334.41" y="691.06" width="4.14" height="4.14"/><rect x="1332.34" y="693.13" width="4.14" height="4.14"/><circle cx="1338.55" cy="693.13" r="2.07"/><rect x="1338.55" y="691.06" width="4.14" height="4.14"/><circle cx="1342.69" cy="693.13" r="2.07"/><rect x="1342.69" y="691.06" width="4.14" height="4.14"/><rect x="1340.62" y="693.13" width="4.14" height="4.14"/><circle cx="1346.82" cy="693.13" r="2.07"/><rect x="1346.82" y="691.06" width="4.14" height="4.14"/><circle cx="1350.96" cy="693.13" r="2.07"/><rect x="1348.89" y="693.13" width="4.14" height="4.14"/><circle cx="1359.23" cy="693.13" r="2.07"/><circle cx="1193.77" cy="697.27" r="2.07"/><rect x="1191.70" y="697.27" width="4.14" height="4.14"/><circle cx="1202.04" cy="697.27" r="2.07"/><rect x="1202.04" y="695.20" width="4.14" height="4.14"/><circle cx="1206.18" cy="697.27" r="2.07"/><rect x="1204.11" y="697.27" width="4.14" height="4.14"/><circle cx="1218.59" cy="697.27" r="2.07"/><rect x="1218.59" y="695.20" width="4.14" height="4.14"/><circle cx="1222.72" cy="697.27" r="2.07"/><rect x="1222.72" y="695.20" width="4.14" height="4.14"/><rect x="1220.66" y="697.27" width="4.14" height="4.14"/><circle cx="1226.86" cy="697.27" r="2.07"/><circle cx="1235.13" cy="697.27" r="2.07"/><rect x="1233.07" y="697.27" width="4.14" height="4.14"/><circle cx="1251.68" cy="697.27" r="2.07"/><rect x="1251.68" y="695.20" width="4.14" height="4.14"/><rect x="1249.61" y="697.27" width="4.14" height="4.14"/><circle cx="1255.82" cy="697.27" r="2.07"/><rect x="1255.82" y="695.20" width="4.14" height="4.14"/><rect x="1253.75" y="697.27" width="4.14" height="4.14"/><circle cx="1259.95" cy="697.27" r="2.07"/><rect x="1259.95" y="695.20" width="4.14" height="4.14"/><rect x="1257.89" y="697.27" width="4.14" height="4.14"/><circle cx="1264.09" cy="697.27" r="2.07"/><rect x="1264.09" y="695.20" width="4.14" height="4.14"/><circle cx="1268.23" cy="697.27" r="2.07"/><rect x="1268.23" y="695.20" width="4.14" height="4.14"/><rect x="1266.16" y="697.27" width="4.14" height="4.14"/><circle cx="1272.36" cy="697.27" r="2.07"/><rect x="1272.36" y="695.20" width="4.14" height="4.14"/><rect x="1270.30" y="697.27" width="4.14" height="4.14"/><circle cx="1276.50" cy="697.27" r="2.07"/><circle cx="1288.91" cy="697.27" r="2.07"/><circle cx="1301.32" cy="697.27" r="2.07"/><rect x="1299.25" y="697.27" width="4.14" height="4.14"/><circle cx="1317.87" cy="697.27" r="2.07"/><rect x="1315.80" y="697.27" width="4.14" height="4.14"/><circle cx="1330.28" cy="697.27" r="2.07"/><rect x="1330.28" y="695.20" width="4.14" height="4.14"/><rect x="1328.21" y="697.27" width="4.14" height="4.14"/><circle cx="1334.41" cy="697.27" r="2.07"/><rect x="1332.34" y="697.27" width="4.14" height="4.14"/><circle cx="1342.69" cy="697.27" r="2.07"/><rect x="1340.62" y="697.27" width="4.14" height="4.14"/><circle cx="1350.96" cy="697.27" r="2.07"/><rect x="1350.96" y="695.20" width="4.14" height="4.14"/><circle cx="1355.10" cy="697.27" r="2.07"/><circle cx="1193.77" cy="701.40" r="2.07"/><rect x="1191.70" y="701.40" width="4.14" height="4.14"/><circle cx="1206.18" cy="701.40" r="2.07"/><rect x="1206.18" y="699.33" width="4.14" height="4.14"/><rect x="1204.11" y="701.40" width="4.14" height="4.14"/><circle cx="1210.31" cy="701.40" r="2.07"/><rect x="1210.31" y="699.33" width="4.14" height="4.14"/><rect x="1208.25" y="701.40" width="4.14" height="4.14"/><circle cx="1214.45" cy="701.40" r="2.07"/><rect x="1212.38" y="701.40" width="4.14" height="4.14"/><circle cx="1222.72" cy="701.40" r="2.07"/><circle cx="1231.00" cy="701.40" r="2.07"/><rect x="1231.00" y="699.33" width="4.14" height="4.14"/><circle cx="1235.13" cy="701.40" r="2.07"/><rect x="1235.13" y="699.33" width="4.14" height="4.14"/><rect x="1233.07" y="701.40" width="4.14" height="4.14"/><circle cx="1239.27" cy="701.40" r="2.07"/><rect x="1239.27" y="699.33" width="4.14" height="4.14"/><circle cx="1243.41" cy="701.40" r="2.07"/><rect x="1241.34" y="701.40" width="4.14" height="4.14"/><circle cx="1251.68" cy="701.40" r="2.07"/><rect x="1251.68" y="699.33" width="4.14" height="4.14"/><circle cx="1255.82" cy="701.40" r="2.07"/><rect x="1255.82" y="699.33" width="4.14" height="4.14"/><rect x="1253.75" y="701.40" width="4.14" height="4.14"/><circle cx="1259.95" cy="701.40" r="2.07"/><circle cx="1268.23" cy="701.40" r="2.07"/><rect x="1268.23" y="699.33" width="4.14" height="4.14"/><circle cx="1272.36" cy="701.40" r="2.07"/><circle cx="1293.05" cy="701.40" r="2.07"/><rect x="1290.98" y="701.40" width="4.14" height="4.14"/><circle cx="1301.32" cy="701.40" r="2.07"/><rect x="1299.25" y="701.40" width="4.14" height="4.14"/><circle cx="1309.59" cy="701.40" r="2.07"/><rect x="1309.59" y="699.33" width="4.14" height="4.14"/><circle cx="1313.73" cy="701.40" r="2.07"/><rect x="1313.73" y="699.33" width="4.14" height="4.14"/><circle cx="1317.87" cy="701.40" r="2.07"/><circle cx="1326.14" cy="701.40" r="2.07"/><rect x="1326.14" y="699.33" width="4.14" height="4.14"/><rect x="1324.07" y="701.40" width="4.14" height="4.14"/><circle cx="1330.28" cy="701.40" r="2.07"/><rect x="1330.28" y="699.33" width="4.14" height="4.14"/><rect x="1328.21" y="701.40" width="4.14" height="4.14"/><circle cx="1334.41" cy="701.40" r="2.07"/><rect x="1334.41" y="699.33" width="4.14" height="4.14"/><rect x="1332.34" y="701.40" width="4.14" height="4.14"/><circle cx="1338.55" cy="701.40" r="2.07"/><rect x="1338.55" y="699.33" width="4.14" height="4.14"/><rect x="1336.48" y="701.40" width="4.14" height="4.14"/><circle cx="1342.69" cy="701.40" r="2.07"/><rect x="1342.69" y="699.33" width="4.14" height="4.14"/><rect x="1340.62" y="701.40" width="4.14" height="4.14"/><circle cx="1346.82" cy="701.40" r="2.07"/><circle cx="1359.23" cy="701.40" r="2.07"/><circle cx="1193.77" cy="705.54" r="2.07"/><circle cx="1206.18" cy="705.54" r="2.07"/><rect x="1206.18" y="703.47" width="4.14" height="4.14"/><circle cx="1210.31" cy="705.54" r="2.07"/><rect x="1210.31" y="703.47" width="4.14" height="4.14"/><circle cx="1214.45" cy="705.54" r="2.07"/><rect x="1214.45" y="703.47" width="4.14" height="4.14"/><circle cx="1218.59" cy="705.54" r="2.07"/><circle cx="1226.86" cy="705.54" r="2.07"/><rect x="1224.79" y="705.54" width="4.14" height="4.14"/><circle cx="1235.13" cy="705.54" r="2.07"/><rect x="1233.07" y="705.54" width="4.14" height="4.14"/><circle cx="1243.41" cy="705.54" r="2.07"/><rect x="1243.41" y="703.47" width="4.14" height="4.14"/><rect x="1241.34" y="705.54" width="4.14" height="4.14"/><circle cx="1247.54" cy="705.54" r="2.07"/><rect x="1245.48" y="705.54" width="4.14" height="4.14"/><circle cx="1255.82" cy="705.54" r="2.07"/><rect x="1253.75" y="705.54" width="4.14" height="4.14"/><circle cx="1264.09" cy="705.54" r="2.07"/><rect x="1262.02" y="705.54" width="4.14" height="4.14"/><circle cx="1276.50" cy="705.54" r="2.07"/><rect x="1276.50" y="703.47" width="4.14" height="4.14"/><circle cx="1280.64" cy="705.54" r="2.07"/><rect x="1280.64" y="703.47" width="4.14" height="4.14"/><rect x="1278.57" y="705.54" width="4.14" height="4.14"/><circle cx="1284.77" cy="705.54" r="2.07"/><circle cx="1293.05" cy="705.54" r="2.07"/><circle cx="1301.32" cy="705.54" r="2.07"/><circle cx="1322.00" cy="705.54" r="2.07"/><rect x="1322.00" y="703.47" width="4.14" height="4.14"/><rect x="1319.93" y="705.54" width="4.14" height="4.14"/><circle cx="1326.14" cy="705.54" r="2.07"/><rect x="1326.14" y="703.47" width="4.14" height="4.14"/><rect x="1324.07" y="705.54" width="4.14" height="4.14"/><circle cx="1330.28" cy="705.54" r="2.07"/><rect x="1330.28" y="703.47" width="4.14" height="4.14"/><circle cx="1334.41" cy="705.54" r="2.07"/><rect x="1334.41" y="703.47" width="4.14" height="4.14"/><circle cx="1338.55" cy="705.54" r="2.07"/><rect x="1338.55" y="703.47" width="4.14" height="4.14"/><circle cx="1342.69" cy="705.54" r="2.07"/><rect x="1340.62" y="705.54" width="4.14" height="4.14"/><circle cx="1350.96" cy="705.54" r="2.07"/><rect x="1350.96" y="703.47" width="4.14" height="4.14"/><circle cx="1355.10" cy="705.54" r="2.07"/><circle cx="1226.86" cy="709.68" r="2.07"/><circle cx="1235.13" cy="709.68" r="2.07"/><rect x="1235.13" y="707.61" width="4.14" height="4.14"/><circle cx="1239.27" cy="709.68" r="2.07"/><rect x="1239.27" y="707.61" width="4.14" height="4.14"/><rect x="1237.20" y="709.68" width="4.14" height="4.14"/><circle cx="1243.41" cy="709.68" r="2.07"/><rect x="1243.41" y="707.61" width="4.14" height="4.14"/><rect x="1241.34" y="709.68" width="4.14" height="4.14"/><circle cx="1247.54" cy="709.68" r="2.07"/><rect x="1245.48" y="709.68" width="4.14" height="4.14"/><circle cx="1255.82" cy="709.68" r="2.07"/><rect x="1253.75" y="709.68" width="4.14" height="4.14"/><circle cx="1264.09" cy="709.68" r="2.07"/><rect x="1262.02" y="709.68" width="4.14" height="4.14"/><circle cx="1280.64" cy="709.68" r="2.07"/><rect x="1278.57" y="709.68" width="4.14" height="4.14"/><circle cx="1288.91" cy="709.68" r="2.07"/><rect x="1286.84" y="709.68" width="4.14" height="4.14"/><circle cx="1297.18" cy="709.68" r="2.07"/><rect x="1295.11" y="709.68" width="4.14" height="4.14"/><circle cx="1309.59" cy="709.68" r="2.07"/><circle cx="1317.87" cy="709.68" r="2.07"/><rect x="1317.87" y="707.61" width="4.14" height="4.14"/><rect x="1315.80" y="709.68" width="4.14" height="4.14"/><circle cx="1322.00" cy="709.68" r="2.07"/><rect x="1322.00" y="707.61" width="4.14" height="4.14"/><circle cx="1326.14" cy="709.68" r="2.07"/><rect x="1324.07" y="709.68" width="4.14" height="4.14"/><circle cx="1342.69" cy="709.68" r="2.07"/><rect x="1342.69" y="707.61" width="4.14" height="4.14"/><rect x="1340.62" y="709.68" width="4.14" height="4.14"/><circle cx="1346.82" cy="709.68" r="2.07"/><circle cx="1359.23" cy="709.68" r="2.07"/><circle cx="1239.27" cy="713.81" r="2.07"/><rect x="1239.27" y="711.74" width="4.14" height="4.14"/><circle cx="1243.41" cy="713.81" r="2.07"/><rect x="1243.41" y="711.74" width="4.14" height="4.14"/><circle cx="1247.54" cy="713.81" r="2.07"/><circle cx="1255.82" cy="713.81" r="2.07"/><circle cx="1264.09" cy="713.81" r="2.07"/><rect x="1262.02" y="713.81" width="4.14" height="4.14"/><circle cx="1272.36" cy="713.81" r="2.07"/><rect x="1272.36" y="711.74" width="4.14" height="4.14"/><circle cx="1276.50" cy="713.81" r="2.07"/><rect x="1276.50" y="711.74" width="4.14" height="4.14"/><circle cx="1280.64" cy="713.81" r="2.07"/><rect x="1280.64" y="711.74" width="4.14" height="4.14"/><rect x="1278.57" y="713.81" width="4.14" height="4.14"/><circle cx="1284.77" cy="713.81" r="2.07"/><rect x="1284.77" y="711.74" width="4.14" height="4.14"/><circle cx="1288.91" cy="713.81" r="2.07"/><rect x="1288.91" y="711.74" width="4.14" height="4.14"/><rect x="1286.84" y="713.81" width="4.14" height="4.14"/><circle cx="1293.05" cy="713.81" r="2.07"/><rect x="1293.05" y="711.74" width="4.14" height="4.14"/><circle cx="1297.18" cy="713.81" r="2.07"/><circle cx="1317.87" cy="713.81" r="2.07"/><circle cx="1326.14" cy="713.81" r="2.07"/><rect x="1324.07" y="713.81" width="4.14" height="4.14"/><circle cx="1334.41" cy="713.81" r="2.07"/><circle cx="1342.69" cy="713.81" r="2.07"/><rect x="1340.62" y="713.81" width="4.14" height="4.14"/><circle cx="1350.96" cy="713.81" r="2.07"/><circle cx="1235.13" cy="717.95" r="2.07"/><rect x="1233.07" y="717.95" width="4.14" height="4.14"/><circle cx="1251.68" cy="717.95" r="2.07"/><circle cx="1259.95" cy="717.95" r="2.07"/><rect x="1259.95" y="715.88" width="4.14" height="4.14"/><circle cx="1264.09" cy="717.95" r="2.07"/><rect x="1264.09" y="715.88" width="4.14" height="4.14"/><circle cx="1268.23" cy="717.95" r="2.07"/><circle cx="1280.64" cy="717.95" r="2.07"/><rect x="1278.57" y="717.95" width="4.14" height="4.14"/><circle cx="1288.91" cy="717.95" r="2.07"/><rect x="1286.84" y="717.95" width="4.14" height="4.14"/><circle cx="1301.32" cy="717.95" r="2.07"/><rect x="1301.32" y="715.88" width="4.14" height="4.14"/><circle cx="1305.46" cy="717.95" r="2.07"/><rect x="1305.46" y="715.88" width="4.14" height="4.14"/><rect x="1303.39" y="717.95" width="4.14" height="4.14"/><circle cx="1309.59" cy="717.95" r="2.07"/><rect x="1307.52" y="717.95" width="4.14" height="4.14"/><circle cx="1322.00" cy="717.95" r="2.07"/><rect x="1322.00" y="715.88" width="4.14" height="4.14"/><rect x="1319.93" y="717.95" width="4.14" height="4.14"/><circle cx="1326.14" cy="717.95" r="2.07"/><rect x="1324.07" y="717.95" width="4.14" height="4.14"/><circle cx="1342.69" cy="717.95" r="2.07"/><rect x="1342.69" y="715.88" width="4.14" height="4.14"/><rect x="1340.62" y="717.95" width="4.14" height="4.14"/><circle cx="1346.82" cy="717.95" r="2.07"/><circle cx="1355.10" cy="717.95" r="2.07"/><rect x="1355.10" y="715.88" width="4.14" height="4.14"/><circle cx="1359.23" cy="717.95" r="2.07"/><rect x="1357.16" y="717.95" width="4.14" height="4.14"/><circle cx="1226.86" cy="722.09" r="2.07"/><rect x="1224.79" y="722.09" width="4.14" height="4.14"/><circle cx="1235.13" cy="722.09" r="2.07"/><rect x="1233.07" y="722.09" width="4.14" height="4.14"/><circle cx="1243.41" cy="722.09" r="2.07"/><circle cx="1272.36" cy="722.09" r="2.07"/><rect x="1272.36" y="720.02" width="4.14" height="4.14"/><circle cx="1276.50" cy="722.09" r="2.07"/><rect x="1276.50" y="720.02" width="4.14" height="4.14"/><circle cx="1280.64" cy="722.09" r="2.07"/><rect x="1280.64" y="720.02" width="4.14" height="4.14"/><circle cx="1284.77" cy="722.09" r="2.07"/><rect x="1284.77" y="720.02" width="4.14" height="4.14"/><circle cx="1288.91" cy="722.09" r="2.07"/><rect x="1288.91" y="720.02" width="4.14" height="4.14"/><rect x="1286.84" y="722.09" width="4.14" height="4.14"/><circle cx="1293.05" cy="722.09" r="2.07"/><rect x="1293.05" y="720.02" width="4.14" height="4.14"/><circle cx="1297.18" cy="722.09" r="2.07"/><circle cx="1305.46" cy="722.09" r="2.07"/><rect x="1305.46" y="720.02" width="4.14" height="4.14"/><circle cx="1309.59" cy="722.09" r="2.07"/><circle cx="1317.87" cy="722.09" r="2.07"/><rect x="1317.87" y="720.02" width="4.14" height="4.14"/><circle cx="1322.00" cy="722.09" r="2.07"/><rect x="1322.00" y="720.02" width="4.14" height="4.14"/><circle cx="1326.14" cy="722.09" r="2.07"/><rect x="1326.14" y="720.02" width="4.14" height="4.14"/><rect x="1324.07" y="722.09" width="4.14" height="4.14"/><circle cx="1330.28" cy="722.09" r="2.07"/><rect x="1330.28" y="720.02" width="4.14" height="4.14"/><rect x="1328.21" y="722.09" width="4.14" height="4.14"/><circle cx="1334.41" cy="722.09" r="2.07"/><rect x="1334.41" y="720.02" width="4.14" height="4.14"/><circle cx="1338.55" cy="722.09" r="2.07"/><rect x="1338.55" y="720.02" width="4.14" height="4.14"/><rect x="1336.48" y="722.09" width="4.14" height="4.14"/><circle cx="1342.69" cy="722.09" r="2.07"/><circle cx="1350.96" cy="722.09" r="2.07"/><rect x="1348.89" y="722.09" width="4.14" height="4.14"/><circle cx="1359.23" cy="722.09" r="2.07"/><rect x="1357.16" y="722.09" width="4.14" height="4.14"/><circle cx="1226.86" cy="726.22" r="2.07"/><rect x="1224.79" y="726.22" width="4.14" height="4.14"/><circle cx="1235.13" cy="726.22" r="2.07"/><rect x="1233.07" y="726.22" width="4.14" height="4.14"/><circle cx="1251.68" cy="726.22" r="2.07"/><rect x="1251.68" y="724.15" width="4.14" height="4.14"/><rect x="1249.61" y="726.22" width="4.14" height="4.14"/><circle cx="1255.82" cy="726.22" r="2.07"/><rect x="1255.82" y="724.15" width="4.14" height="4.14"/><circle cx="1259.95" cy="726.22" r="2.07"/><rect x="1257.89" y="726.22" width="4.14" height="4.14"/><circle cx="1268.23" cy="726.22" r="2.07"/><circle cx="1288.91" cy="726.22" r="2.07"/><circle cx="1326.14" cy="726.22" r="2.07"/><rect x="1326.14" y="724.15" width="4.14" height="4.14"/><circle cx="1330.28" cy="726.22" r="2.07"/><rect x="1328.21" y="726.22" width="4.14" height="4.14"/><circle cx="1338.55" cy="726.22" r="2.07"/><rect x="1336.48" y="726.22" width="4.14" height="4.14"/><circle cx="1350.96" cy="726.22" r="2.07"/><rect x="1350.96" y="724.15" width="4.14" height="4.14"/><circle cx="1355.10" cy="726.22" r="2.07"/><rect x="1355.10" y="724.15" width="4.14" height="4.14"/><rect x="1353.03" y="726.22" width="4.14" height="4.14"/><circle cx="1359.23" cy="726.22" r="2.07"/><circle cx="1226.86" cy="730.36" r="2.07"/><rect x="1226.86" y="728.29" width="4.14" height="4.14"/><circle cx="1231.00" cy="730.36" r="2.07"/><rect x="1231.00" y="728.29" width="4.14" height="4.14"/><rect x="1228.93" y="730.36" width="4.14" height="4.14"/><circle cx="1235.13" cy="730.36" r="2.07"/><rect x="1233.07" y="730.36" width="4.14" height="4.14"/><circle cx="1251.68" cy="730.36" r="2.07"/><circle cx="1259.95" cy="730.36" r="2.07"/><circle cx="1272.36" cy="730.36" r="2.07"/><rect x="1272.36" y="728.29" width="4.14" height="4.14"/><rect x="1270.30" y="730.36" width="4.14" height="4.14"/><circle cx="1276.50" cy="730.36" r="2.07"/><rect x="1276.50" y="728.29" width="4.14" height="4.14"/><rect x="1274.43" y="730.36" width="4.14" height="4.14"/><circle cx="1280.64" cy="730.36" r="2.07"/><rect x="1280.64" y="728.29" width="4.14" height="4.14"/><circle cx="1284.77" cy="730.36" r="2.07"/><circle cx="1293.05" cy="730.36" r="2.07"/><circle cx="1305.46" cy="730.36" r="2.07"/><rect x="1305.46" y="728.29" width="4.14" height="4.14"/><circle cx="1309.59" cy="730.36" r="2.07"/><rect x="1309.59" y="728.29" width="4.14" height="4.14"/><rect x="1307.52" y="730.36" width="4.14" height="4.14"/><circle cx="1313.73" cy="730.36" r="2.07"/><rect x="1313.73" y="728.29" width="4.14" height="4.14"/><circle cx="1317.87" cy="730.36" r="2.07"/><rect x="1315.80" y="730.36" width="4.14" height="4.14"/><circle cx="1330.28" cy="730.36" r="2.07"/><rect x="1330.28" y="728.29" width="4.14" height="4.14"/><circle cx="1334.41" cy="730.36" r="2.07"/><rect x="1334.41" y="728.29" width="4.14" height="4.14"/><rect x="1332.34" y="730.36" width="4.14" height="4.14"/><circle cx="1338.55" cy="730.36" r="2.07"/><rect x="1338.55" y="728.29" width="4.14" height="4.14"/><circle cx="1342.69" cy="730.36" r="2.07"/><rect x="1340.62" y="730.36" width="4.14" height="4.14"/><circle cx="1355.10" cy="730.36" r="2.07"/><rect x="1353.03" y="730.36" width="4.14" height="4.14"/><circle cx="1231.00" cy="734.50" r="2.07"/><rect x="1231.00" y="732.43" width="4.14" height="4.14"/><circle cx="1235.13" cy="734.50" r="2.07"/><rect x="1235.13" y="732.43" width="4.14" height="4.14"/><rect x="1233.07" y="734.50" width="4.14" height="4.14"/><circle cx="1239.27" cy="734.50" r="2.07"/><rect x="1239.27" y="732.43" width="4.14" height="4.14"/><rect x="1237.20" y="734.50" width="4.14" height="4.14"/><circle cx="1243.41" cy="734.50" r="2.07"/><circle cx="1264.09" cy="734.50" r="2.07"/><rect x="1262.02" y="734.50" width="4.14" height="4.14"/><circle cx="1272.36" cy="734.50" r="2.07"/><rect x="1272.36" y="732.43" width="4.14" height="4.14"/><rect x="1270.30" y="734.50" width="4.14" height="4.14"/><circle cx="1276.50" cy="734.50" r="2.07"/><rect x="1274.43" y="734.50" width="4.14" height="4.14"/><circle cx="1288.91" cy="734.50" r="2.07"/><rect x="1286.84" y="734.50" width="4.14" height="4.14"/><circle cx="1301.32" cy="734.50" r="2.07"/><circle cx="1309.59" cy="734.50" r="2.07"/><circle cx="1317.87" cy="734.50" r="2.07"/><rect x="1317.87" y="732.43" width="4.14" height="4.14"/><circle cx="1322.00" cy="734.50" r="2.07"/><rect x="1322.00" y="732.43" width="4.14" height="4.14"/><rect x="1319.93" y="734.50" width="4.14" height="4.14"/><circle cx="1326.14" cy="734.50" r="2.07"/><circle cx="1334.41" cy="734.50" r="2.07"/><rect x="1332.34" y="734.50" width="4.14" height="4.14"/><circle cx="1342.69" cy="734.50" r="2.07"/><rect x="1342.69" y="732.43" width="4.14" height="4.14"/><rect x="1340.62" y="734.50" width="4.14" height="4.14"/><circle cx="1346.82" cy="734.50" r="2.07"/><rect x="1346.82" y="732.43" width="4.14" height="4.14"/><circle cx="1350.96" cy="734.50" r="2.07"/><rect x="1350.96" y="732.43" width="4.14" height="4.14"/><rect x="1348.89" y="734.50" width="4.14" height="4.14"/><circle cx="1355.10" cy="734.50" r="2.07"/><circle cx="1235.13" cy="738.63" r="2.07"/><rect x="1235.13" y="736.56" width="4.14" height="4.14"/><circle cx="1239.27" cy="738.63" r="2.07"/><circle cx="1247.54" cy="738.63" r="2.07"/><rect x="1247.54" y="736.56" width="4.14" height="4.14"/><circle cx="1251.68" cy="738.63" r="2.07"/><circle cx="1264.09" cy="738.63" r="2.07"/><circle cx="1272.36" cy="738.63" r="2.07"/><rect x="1272.36" y="736.56" width="4.14" height="4.14"/><circle cx="1276.50" cy="738.63" r="2.07"/><circle cx="1284.77" cy="738.63" r="2.07"/><rect x="1284.77" y="736.56" width="4.14" height="4.14"/><circle cx="1288.91" cy="738.63" r="2.07"/><circle cx="1313.73" cy="738.63" r="2.07"/><circle cx="1322.00" cy="738.63" r="2.07"/><circle cx="1330.28" cy="738.63" r="2.07"/><rect x="1330.28" y="736.56" width="4.14" height="4.14"/><circle cx="1334.41" cy="738.63" r="2.07"/><rect x="1334.41" y="736.56" width="4.14" height="4.14"/><circle cx="1338.55" cy="738.63" r="2.07"/><rect x="1338.55" y="736.56" width="4.14" height="4.14"/><circle cx="1342.69" cy="738.63" r="2.07"/><circle cx="1350.96" cy="738.63" r="2.07"/><rect x="1193.77" y="573.17" width="24.82" height="24.82" rx="6.62" fill="none" stroke="#000" stroke-width="4.05"/><rect x="1199.97" y="579.37" width="12.41" height="12.41" rx="3.72"/><rect x="1334.41" y="573.17" width="24.82" height="24.82" rx="6.62" fill="none" stroke="#000" stroke-width="4.05"/><rect x="1340.62" y="579.37" width="12.41" height="12.41" rx="3.72"/><rect x="1193.77" y="713.81" width="24.82" height="24.82" rx="6.62" fill="none" stroke="#000" stroke-width="4.05"/><rect x="1199.97" y="720.02" width="12.41" height="12.41" rx="3.72"/></g><g transform="translate(1245.05,620.20) scale(0.387)"><path d="M79.43,153.97 L76.46,153.74 L73.50,153.30 L70.58,152.64 L67.71,151.77 L64.89,150.69 L62.15,149.40 L59.48,147.91 L56.92,146.24 L54.45,144.37 L52.11,142.33 L49.89,140.12 L47.80,137.75 L45.86,135.24 L44.08,132.59 L42.46,129.81 L41.01,126.92 L39.73,123.93 L38.63,120.85 L37.72,117.70 L37.00,114.48 L36.47,111.22 L36.14,107.93 L36.00,104.63 L36.06,101.32 L36.32,98.02 L36.78,94.75 L37.43,91.51 L38.27,88.34 L39.29,85.23 L40.50,82.20 L41.89,79.27 L43.45,76.45 L45.17,73.75 L47.05,71.18 L49.08,68.76 L51.25,66.49 L53.55,64.38 L55.97,62.45 L58.50,60.70" fill="none" stroke="#65696e" stroke-width="11" stroke-linecap="round"/><path d="M82.57,153.97 L85.54,153.74 L88.50,153.30 L91.42,152.64 L94.29,151.77 L97.11,150.69 L99.85,149.40 L102.52,147.91 L105.08,146.24 L107.55,144.37 L109.89,142.33 L112.11,140.12 L114.20,137.75 L116.14,135.24 L117.92,132.59 L119.54,129.81 L120.99,126.92 L122.27,123.93 L123.37,120.85 L124.28,117.70 L125.00,114.48 L125.53,111.22 L125.86,107.93 L126.00,104.63 L125.94,101.32 L125.68,98.02 L125.22,94.75 L124.57,91.51 L123.73,88.34 L122.71,85.23 L121.50,82.20 L120.11,79.27 L118.55,76.45 L116.83,73.75 L114.95,71.18 L112.92,68.76 L110.75,66.49 L108.45,64.38 L106.03,62.45 L103.50,60.70" fill="none" stroke="#65696e" stroke-width="11" stroke-linecap="round"/><path d="M77.25,154.31 Q70.41,151.60 65.32,159.46 Q74.54,161.14 77.25,154.31Z" fill="#777c81" stroke="#262626" stroke-width="0.8"/><path d="M77.25,154.31 L71.13,156.52" stroke="#3a3d40" stroke-width="0.6" fill="none"/><path d="M70.64,155.39 L67.06,156.94" stroke="#e6e8ea" stroke-width="0.9" fill="none"/><path d="M77.01,155.48 Q77.22,148.13 68.08,146.03 Q69.66,155.27 77.01,155.48Z" fill="#a4a9ae" stroke="#262626" stroke-width="0.8"/><path d="M77.01,155.48 L72.84,150.48" stroke="#3a3d40" stroke-width="0.6" fill="none"/><path d="M73.73,149.64 L71.05,146.80" stroke="#e6e8ea" stroke-width="0.9" fill="none"/><path d="M70.68,153.11 Q64.38,149.30 58.05,156.21 Q66.87,159.40 70.68,153.11Z" fill="#777c81" stroke="#262626" stroke-width="0.8"/><path d="M70.68,153.11 L64.27,154.27" stroke="#3a3d40" stroke-width="0.6" fill="none"/><path d="M63.98,153.08 L60.19,154.01" stroke="#e6e8ea" stroke-width="0.9" fill="none"/><path d="M70.24,154.22 Q71.67,147.01 63.01,143.42 Q63.03,152.79 70.24,154.22Z" fill="#a4a9ae" stroke="#262626" stroke-width="0.8"/><path d="M70.24,154.22 L66.96,148.60" stroke="#3a3d40" stroke-width="0.6" fill="none"/><path d="M67.98,147.91 L65.81,144.67" stroke="#e6e8ea" stroke-width="0.9" fill="none"/><path d="M64.33,150.80 Q58.74,146.03 51.37,151.82 Q59.55,156.39 64.33,150.80Z" fill="#777c81" stroke="#262626" stroke-width="0.8"/><path d="M64.33,150.80 L57.82,150.91" stroke="#3a3d40" stroke-width="0.6" fill="none"/><path d="M57.72,149.69 L53.83,150.00" stroke="#e6e8ea" stroke-width="0.9" fill="none"/><path d="M63.72,151.83 Q66.30,144.94 58.33,140.00 Q56.83,149.25 63.72,151.83Z" fill="#a4a9ae" stroke="#262626" stroke-width="0.8"/><path d="M63.72,151.83 L61.39,145.75" stroke="#3a3d40" stroke-width="0.6" fill="none"/><path d="M62.50,145.24 L60.89,141.69" stroke="#e6e8ea" stroke-width="0.9" fill="none"/><path d="M58.35,147.44 Q53.57,141.85 45.39,146.42 Q52.75,152.22 58.35,147.44Z" fill="#777c81" stroke="#262626" stroke-width="0.8"/><path d="M58.35,147.44 L51.90,146.53" stroke="#3a3d40" stroke-width="0.6" fill="none"/><path d="M52.00,145.31 L48.11,145.00" stroke="#e6e8ea" stroke-width="0.9" fill="none"/><path d="M57.59,148.36 Q61.21,141.96 54.12,135.83 Q51.19,144.74 57.59,148.36Z" fill="#a4a9ae" stroke="#262626" stroke-width="0.8"/><path d="M57.59,148.36 L56.24,141.99" stroke="#3a3d40" stroke-width="0.6" fill="none"/><path d="M57.42,141.67 L56.38,137.91" stroke="#e6e8ea" stroke-width="0.9" fill="none"/><path d="M52.88,143.10 Q49.00,136.85 40.22,140.13 Q46.62,146.98 52.88,143.10Z" fill="#777c81" stroke="#262626" stroke-width="0.8"/><path d="M52.88,143.10 L46.64,141.23" stroke="#3a3d40" stroke-width="0.6" fill="none"/><path d="M46.92,140.03 L43.12,139.14" stroke="#e6e8ea" stroke-width="0.9" fill="none"/><path d="M51.99,143.90 Q56.54,138.12 50.45,130.99 Q46.21,139.35 51.99,143.90Z" fill="#a4a9ae" stroke="#262626" stroke-width="0.8"/><path d="M51.99,143.90 L51.62,137.40" stroke="#3a3d40" stroke-width="0.6" fill="none"/><path d="M52.83,137.25 L52.37,133.38" stroke="#e6e8ea" stroke-width="0.9" fill="none"/><path d="M48.04,137.88 Q45.12,131.13 35.95,133.09 Q41.29,140.80 48.04,137.88Z" fill="#777c81" stroke="#262626" stroke-width="0.8"/><path d="M48.04,137.88 L42.14,135.12" stroke="#3a3d40" stroke-width="0.6" fill="none"/><path d="M42.59,133.98 L38.96,132.54" stroke="#e6e8ea" stroke-width="0.9" fill="none"/><path d="M47.04,138.54 Q52.38,133.49 47.40,125.54 Q41.99,133.19 47.04,138.54Z" fill="#a4a9ae" stroke="#262626" stroke-width="0.8"/><path d="M47.04,138.54 L47.62,132.05" stroke="#3a3d40" stroke-width="0.6" fill="none"/><path d="M48.85,132.09 L48.96,128.19" stroke="#e6e8ea" stroke-width="0.9" fill="none"/><path d="M43.94,131.90 Q42.00,124.80 32.65,125.45 Q36.84,133.84 43.94,131.90Z" fill="#777c81" stroke="#262626" stroke-width="0.8"/><path d="M43.94,131.90 L38.49,128.33" stroke="#3a3d40" stroke-width="0.6" fill="none"/><path d="M39.10,127.26 L35.71,125.33" stroke="#e6e8ea" stroke-width="0.9" fill="none"/><path d="M42.86,132.41 Q48.86,128.16 45.05,119.59 Q38.61,126.40 42.86,132.41Z" fill="#a4a9ae" stroke="#262626" stroke-width="0.8"/><path d="M42.86,132.41 L44.35,126.07" stroke="#3a3d40" stroke-width="0.6" fill="none"/><path d="M45.56,126.27 L46.21,122.43" stroke="#e6e8ea" stroke-width="0.9" fill="none"/><path d="M40.68,125.28 Q39.73,117.99 30.37,117.36 Q33.39,126.23 40.68,125.28Z" fill="#777c81" stroke="#262626" stroke-width="0.8"/><path d="M40.68,125.28 L35.77,121.00" stroke="#3a3d40" stroke-width="0.6" fill="none"/><path d="M36.52,120.03 L33.42,117.65" stroke="#e6e8ea" stroke-width="0.9" fill="none"/><path d="M39.54,125.64 Q46.07,122.25 43.46,113.25 Q36.15,119.11 39.54,125.64Z" fill="#a4a9ae" stroke="#262626" stroke-width="0.8"/><path d="M39.54,125.64 L41.88,119.56" stroke="#3a3d40" stroke-width="0.6" fill="none"/><path d="M43.05,119.93 L44.23,116.21" stroke="#e6e8ea" stroke-width="0.9" fill="none"/><path d="M38.33,118.19 Q38.36,110.84 29.18,108.96 Q30.97,118.16 38.33,118.19Z" fill="#777c81" stroke="#262626" stroke-width="0.8"/><path d="M38.33,118.19 L34.04,113.29" stroke="#3a3d40" stroke-width="0.6" fill="none"/><path d="M34.91,112.43 L32.16,109.66" stroke="#e6e8ea" stroke-width="0.9" fill="none"/><path d="M37.15,118.39 Q44.07,115.91 42.70,106.64 Q34.67,111.47 37.15,118.39Z" fill="#a4a9ae" stroke="#262626" stroke-width="0.8"/><path d="M37.15,118.39 L40.29,112.69" stroke="#3a3d40" stroke-width="0.6" fill="none"/><path d="M41.39,113.21 L43.06,109.68" stroke="#e6e8ea" stroke-width="0.9" fill="none"/><path d="M36.94,110.78 Q37.94,103.50 29.09,100.42 Q29.65,109.78 36.94,110.78Z" fill="#777c81" stroke="#262626" stroke-width="0.8"/><path d="M36.94,110.78 L33.33,105.36" stroke="#3a3d40" stroke-width="0.6" fill="none"/><path d="M34.31,104.62 L31.95,101.51" stroke="#e6e8ea" stroke-width="0.9" fill="none"/><path d="M35.74,110.83 Q42.93,109.28 42.80,99.91 Q34.20,103.64 35.74,110.83Z" fill="#a4a9ae" stroke="#262626" stroke-width="0.8"/><path d="M35.74,110.83 L39.61,105.59" stroke="#3a3d40" stroke-width="0.6" fill="none"/><path d="M40.64,106.25 L42.75,102.98" stroke="#e6e8ea" stroke-width="0.9" fill="none"/><path d="M36.54,103.23 Q38.50,96.14 30.13,91.92 Q29.45,101.27 36.54,103.23Z" fill="#777c81" stroke="#262626" stroke-width="0.8"/><path d="M36.54,103.23 L33.68,97.38" stroke="#3a3d40" stroke-width="0.6" fill="none"/><path d="M34.75,96.77 L32.82,93.38" stroke="#e6e8ea" stroke-width="0.9" fill="none"/><path d="M35.35,103.12 Q42.68,102.53 43.78,93.22 Q34.77,95.79 35.35,103.12Z" fill="#a4a9ae" stroke="#262626" stroke-width="0.8"/><path d="M35.35,103.12 L39.87,98.43" stroke="#3a3d40" stroke-width="0.6" fill="none"/><path d="M40.80,99.22 L43.33,96.26" stroke="#e6e8ea" stroke-width="0.9" fill="none"/><path d="M37.14,95.70 Q40.02,88.93 32.29,83.64 Q30.37,92.81 37.14,95.70Z" fill="#777c81" stroke="#262626" stroke-width="0.8"/><path d="M37.14,95.70 L35.08,89.52" stroke="#3a3d40" stroke-width="0.6" fill="none"/><path d="M36.22,89.06 L34.76,85.44" stroke="#e6e8ea" stroke-width="0.9" fill="none"/><path d="M35.98,95.43 Q43.32,95.82 45.65,86.74 Q36.37,88.08 35.98,95.43Z" fill="#a4a9ae" stroke="#262626" stroke-width="0.8"/><path d="M35.98,95.43 L41.08,91.38" stroke="#3a3d40" stroke-width="0.6" fill="none"/><path d="M41.90,92.29 L44.80,89.69" stroke="#e6e8ea" stroke-width="0.9" fill="none"/><path d="M38.72,88.35 Q42.49,82.04 35.54,75.75 Q32.41,84.58 38.72,88.35Z" fill="#777c81" stroke="#262626" stroke-width="0.8"/><path d="M38.72,88.35 L37.52,81.95" stroke="#3a3d40" stroke-width="0.6" fill="none"/><path d="M38.71,81.65 L37.76,77.87" stroke="#e6e8ea" stroke-width="0.9" fill="none"/><path d="M37.61,87.93 Q44.83,89.32 48.37,80.63 Q38.99,80.71 37.61,87.93Z" fill="#a4a9ae" stroke="#262626" stroke-width="0.8"/><path d="M37.61,87.93 L43.21,84.61" stroke="#3a3d40" stroke-width="0.6" fill="none"/><path d="M43.90,85.63 L47.13,83.44" stroke="#e6e8ea" stroke-width="0.9" fill="none"/><path d="M41.25,81.37 Q45.86,75.64 39.85,68.44 Q35.52,76.76 41.25,81.37Z" fill="#777c81" stroke="#262626" stroke-width="0.8"/><path d="M41.25,81.37 L40.95,74.86" stroke="#3a3d40" stroke-width="0.6" fill="none"/><path d="M42.17,74.73 L41.75,70.85" stroke="#e6e8ea" stroke-width="0.9" fill="none"/><path d="M40.20,80.79 Q47.17,83.17 51.87,75.06 Q42.58,73.83 40.20,80.79Z" fill="#a4a9ae" stroke="#262626" stroke-width="0.8"/><path d="M40.20,80.79 L46.21,78.28" stroke="#3a3d40" stroke-width="0.6" fill="none"/><path d="M46.75,79.38 L50.25,77.66" stroke="#e6e8ea" stroke-width="0.9" fill="none"/><path d="M44.67,74.89 Q50.05,69.88 45.13,61.90 Q39.65,69.51 44.67,74.89Z" fill="#777c81" stroke="#262626" stroke-width="0.8"/><path d="M44.67,74.89 L45.30,68.41" stroke="#3a3d40" stroke-width="0.6" fill="none"/><path d="M46.52,68.45 L46.66,64.56" stroke="#e6e8ea" stroke-width="0.9" fill="none"/><path d="M43.71,74.17 Q50.26,77.52 56.08,70.16 Q47.06,67.62 43.71,74.17Z" fill="#a4a9ae" stroke="#262626" stroke-width="0.8"/><path d="M43.71,74.17 L50.02,72.55" stroke="#3a3d40" stroke-width="0.6" fill="none"/><path d="M50.40,73.72 L54.11,72.51" stroke="#e6e8ea" stroke-width="0.9" fill="none"/><path d="M48.89,69.07 Q54.96,64.91 51.27,56.29 Q44.73,63.01 48.89,69.07Z" fill="#777c81" stroke="#262626" stroke-width="0.8"/><path d="M48.89,69.07 L50.47,62.75" stroke="#3a3d40" stroke-width="0.6" fill="none"/><path d="M51.68,62.98 L52.39,59.14" stroke="#e6e8ea" stroke-width="0.9" fill="none"/><path d="M48.06,68.22 Q54.04,72.49 60.88,66.08 Q52.33,62.24 48.06,68.22Z" fill="#a4a9ae" stroke="#262626" stroke-width="0.8"/><path d="M48.06,68.22 L54.53,67.55" stroke="#3a3d40" stroke-width="0.6" fill="none"/><path d="M54.74,68.75 L58.58,68.11" stroke="#e6e8ea" stroke-width="0.9" fill="none"/><path d="M53.83,64.03 Q60.46,60.85 58.15,51.77 Q50.65,57.40 53.83,64.03Z" fill="#777c81" stroke="#262626" stroke-width="0.8"/><path d="M53.83,64.03 L56.37,58.03" stroke="#3a3d40" stroke-width="0.6" fill="none"/><path d="M57.52,58.44 L58.82,54.76" stroke="#e6e8ea" stroke-width="0.9" fill="none"/><path d="M53.14,63.06 Q58.39,68.21 66.14,62.92 Q58.28,57.81 53.14,63.06Z" fill="#a4a9ae" stroke="#262626" stroke-width="0.8"/><path d="M53.14,63.06 L59.64,63.39" stroke="#3a3d40" stroke-width="0.6" fill="none"/><path d="M59.65,64.62 L63.55,64.57" stroke="#e6e8ea" stroke-width="0.9" fill="none"/><path d="M84.99,155.48 Q92.34,155.27 93.92,146.03 Q84.78,148.13 84.99,155.48Z" fill="#777c81" stroke="#262626" stroke-width="0.8"/><path d="M84.99,155.48 L89.74,151.03" stroke="#3a3d40" stroke-width="0.6" fill="none"/><path d="M90.63,151.87 L93.31,149.03" stroke="#e6e8ea" stroke-width="0.9" fill="none"/><path d="M84.75,154.31 Q87.46,161.14 96.68,159.46 Q91.59,151.60 84.75,154.31Z" fill="#a4a9ae" stroke="#262626" stroke-width="0.8"/><path d="M84.75,154.31 L90.56,157.25" stroke="#3a3d40" stroke-width="0.6" fill="none"/><path d="M90.07,158.38 L93.65,159.92" stroke="#e6e8ea" stroke-width="0.9" fill="none"/><path d="M91.76,154.22 Q98.97,152.79 98.99,143.42 Q90.33,147.01 91.76,154.22Z" fill="#777c81" stroke="#262626" stroke-width="0.8"/><path d="M91.76,154.22 L95.70,149.04" stroke="#3a3d40" stroke-width="0.6" fill="none"/><path d="M96.72,149.72 L98.89,146.48" stroke="#e6e8ea" stroke-width="0.9" fill="none"/><path d="M91.32,153.11 Q95.13,159.40 103.95,156.21 Q97.62,149.30 91.32,153.11Z" fill="#a4a9ae" stroke="#262626" stroke-width="0.8"/><path d="M91.32,153.11 L97.54,155.05" stroke="#3a3d40" stroke-width="0.6" fill="none"/><path d="M97.25,156.24 L101.04,157.17" stroke="#e6e8ea" stroke-width="0.9" fill="none"/><path d="M98.28,151.83 Q105.17,149.25 103.67,140.00 Q95.70,144.94 98.28,151.83Z" fill="#777c81" stroke="#262626" stroke-width="0.8"/><path d="M98.28,151.83 L101.34,146.08" stroke="#3a3d40" stroke-width="0.6" fill="none"/><path d="M102.45,146.59 L104.07,143.04" stroke="#e6e8ea" stroke-width="0.9" fill="none"/><path d="M97.67,150.80 Q102.45,156.39 110.63,151.82 Q103.26,146.03 97.67,150.80Z" fill="#a4a9ae" stroke="#262626" stroke-width="0.8"/><path d="M97.67,150.80 L104.12,151.71" stroke="#3a3d40" stroke-width="0.6" fill="none"/><path d="M104.03,152.93 L107.91,153.24" stroke="#e6e8ea" stroke-width="0.9" fill="none"/><path d="M104.41,148.36 Q110.81,144.74 107.88,135.83 Q100.79,141.96 104.41,148.36Z" fill="#777c81" stroke="#262626" stroke-width="0.8"/><path d="M104.41,148.36 L106.53,142.21" stroke="#3a3d40" stroke-width="0.6" fill="none"/><path d="M107.71,142.53 L108.75,138.77" stroke="#e6e8ea" stroke-width="0.9" fill="none"/><path d="M103.65,147.44 Q109.25,152.22 116.61,146.42 Q108.43,141.85 103.65,147.44Z" fill="#a4a9ae" stroke="#262626" stroke-width="0.8"/><path d="M103.65,147.44 L110.16,147.33" stroke="#3a3d40" stroke-width="0.6" fill="none"/><path d="M110.26,148.55 L114.15,148.24" stroke="#e6e8ea" stroke-width="0.9" fill="none"/><path d="M110.01,143.90 Q115.79,139.35 111.55,130.99 Q105.46,138.12 110.01,143.90Z" fill="#777c81" stroke="#262626" stroke-width="0.8"/><path d="M110.01,143.90 L111.18,137.49" stroke="#3a3d40" stroke-width="0.6" fill="none"/><path d="M112.39,137.64 L112.85,133.76" stroke="#e6e8ea" stroke-width="0.9" fill="none"/><path d="M109.12,143.10 Q115.38,146.98 121.78,140.13 Q113.00,136.85 109.12,143.10Z" fill="#a4a9ae" stroke="#262626" stroke-width="0.8"/><path d="M109.12,143.10 L115.54,142.01" stroke="#3a3d40" stroke-width="0.6" fill="none"/><path d="M115.82,143.20 L119.62,142.31" stroke="#e6e8ea" stroke-width="0.9" fill="none"/><path d="M114.96,138.54 Q120.01,133.19 114.60,125.54 Q109.62,133.49 114.96,138.54Z" fill="#777c81" stroke="#262626" stroke-width="0.8"/><path d="M114.96,138.54 L115.18,132.03" stroke="#3a3d40" stroke-width="0.6" fill="none"/><path d="M116.40,132.00 L116.29,128.10" stroke="#e6e8ea" stroke-width="0.9" fill="none"/><path d="M113.96,137.88 Q120.71,140.80 126.05,133.09 Q116.88,131.13 113.96,137.88Z" fill="#a4a9ae" stroke="#262626" stroke-width="0.8"/><path d="M113.96,137.88 L120.16,135.86" stroke="#3a3d40" stroke-width="0.6" fill="none"/><path d="M120.61,137.00 L124.23,135.56" stroke="#e6e8ea" stroke-width="0.9" fill="none"/><path d="M119.14,132.41 Q123.39,126.40 116.95,119.59 Q113.14,128.16 119.14,132.41Z" fill="#777c81" stroke="#262626" stroke-width="0.8"/><path d="M119.14,132.41 L118.44,125.93" stroke="#3a3d40" stroke-width="0.6" fill="none"/><path d="M119.65,125.72 L118.99,121.88" stroke="#e6e8ea" stroke-width="0.9" fill="none"/><path d="M118.06,131.90 Q125.16,133.84 129.35,125.45 Q120.00,124.80 118.06,131.90Z" fill="#a4a9ae" stroke="#262626" stroke-width="0.8"/><path d="M118.06,131.90 L123.91,129.02" stroke="#3a3d40" stroke-width="0.6" fill="none"/><path d="M124.51,130.09 L127.90,128.15" stroke="#e6e8ea" stroke-width="0.9" fill="none"/><path d="M122.46,125.64 Q125.85,119.11 118.54,113.25 Q115.93,122.25 122.46,125.64Z" fill="#777c81" stroke="#262626" stroke-width="0.8"/><path d="M122.46,125.64 L120.88,119.32" stroke="#3a3d40" stroke-width="0.6" fill="none"/><path d="M122.05,118.95 L120.87,115.23" stroke="#e6e8ea" stroke-width="0.9" fill="none"/><path d="M121.32,125.28 Q128.61,126.23 131.63,117.36 Q122.27,117.99 121.32,125.28Z" fill="#a4a9ae" stroke="#262626" stroke-width="0.8"/><path d="M121.32,125.28 L126.72,121.64" stroke="#3a3d40" stroke-width="0.6" fill="none"/><path d="M127.47,122.61 L130.56,120.23" stroke="#e6e8ea" stroke-width="0.9" fill="none"/><path d="M124.85,118.39 Q127.33,111.47 119.30,106.64 Q117.93,115.91 124.85,118.39Z" fill="#777c81" stroke="#262626" stroke-width="0.8"/><path d="M124.85,118.39 L122.44,112.34" stroke="#3a3d40" stroke-width="0.6" fill="none"/><path d="M123.55,111.82 L121.88,108.29" stroke="#e6e8ea" stroke-width="0.9" fill="none"/><path d="M123.67,118.19 Q131.03,118.16 132.82,108.96 Q123.64,110.84 123.67,118.19Z" fill="#a4a9ae" stroke="#262626" stroke-width="0.8"/><path d="M123.67,118.19 L128.53,113.86" stroke="#3a3d40" stroke-width="0.6" fill="none"/><path d="M129.40,114.72 L132.15,111.95" stroke="#e6e8ea" stroke-width="0.9" fill="none"/><path d="M126.26,110.83 Q127.80,103.64 119.20,99.91 Q119.07,109.28 126.26,110.83Z" fill="#777c81" stroke="#262626" stroke-width="0.8"/><path d="M126.26,110.83 L123.06,105.15" stroke="#3a3d40" stroke-width="0.6" fill="none"/><path d="M124.09,104.49 L121.98,101.21" stroke="#e6e8ea" stroke-width="0.9" fill="none"/><path d="M125.06,110.78 Q132.35,109.78 132.91,100.42 Q124.06,103.50 125.06,110.78Z" fill="#a4a9ae" stroke="#262626" stroke-width="0.8"/><path d="M125.06,110.78 L129.31,105.84" stroke="#3a3d40" stroke-width="0.6" fill="none"/><path d="M130.28,106.58 L132.64,103.47" stroke="#e6e8ea" stroke-width="0.9" fill="none"/><path d="M126.65,103.12 Q127.23,95.79 118.22,93.22 Q119.32,102.53 126.65,103.12Z" fill="#777c81" stroke="#262626" stroke-width="0.8"/><path d="M126.65,103.12 L122.74,97.91" stroke="#3a3d40" stroke-width="0.6" fill="none"/><path d="M123.67,97.12 L121.14,94.15" stroke="#e6e8ea" stroke-width="0.9" fill="none"/><path d="M125.46,103.23 Q132.55,101.27 131.87,91.92 Q123.50,96.14 125.46,103.23Z" fill="#a4a9ae" stroke="#262626" stroke-width="0.8"/><path d="M125.46,103.23 L129.02,97.77" stroke="#3a3d40" stroke-width="0.6" fill="none"/><path d="M130.08,98.38 L132.00,94.98" stroke="#e6e8ea" stroke-width="0.9" fill="none"/><path d="M126.02,95.43 Q125.63,88.08 116.35,86.74 Q118.68,95.82 126.02,95.43Z" fill="#777c81" stroke="#262626" stroke-width="0.8"/><path d="M126.02,95.43 L121.45,90.79" stroke="#3a3d40" stroke-width="0.6" fill="none"/><path d="M122.27,89.88 L119.37,87.27" stroke="#e6e8ea" stroke-width="0.9" fill="none"/><path d="M124.86,95.70 Q131.63,92.81 129.71,83.64 Q121.98,88.93 124.86,95.70Z" fill="#a4a9ae" stroke="#262626" stroke-width="0.8"/><path d="M124.86,95.70 L127.66,89.82" stroke="#3a3d40" stroke-width="0.6" fill="none"/><path d="M128.80,90.27 L130.25,86.65" stroke="#e6e8ea" stroke-width="0.9" fill="none"/><path d="M124.39,87.93 Q123.01,80.71 113.63,80.63 Q117.17,89.32 124.39,87.93Z" fill="#777c81" stroke="#262626" stroke-width="0.8"/><path d="M124.39,87.93 L119.24,83.95" stroke="#3a3d40" stroke-width="0.6" fill="none"/><path d="M119.93,82.94 L116.70,80.75" stroke="#e6e8ea" stroke-width="0.9" fill="none"/><path d="M123.28,88.35 Q129.59,84.58 126.46,75.75 Q119.51,82.04 123.28,88.35Z" fill="#a4a9ae" stroke="#262626" stroke-width="0.8"/><path d="M123.28,88.35 L125.26,82.15" stroke="#3a3d40" stroke-width="0.6" fill="none"/><path d="M126.44,82.45 L127.40,78.67" stroke="#e6e8ea" stroke-width="0.9" fill="none"/><path d="M121.80,80.79 Q119.42,73.83 110.13,75.06 Q114.83,83.17 121.80,80.79Z" fill="#777c81" stroke="#262626" stroke-width="0.8"/><path d="M121.80,80.79 L116.14,77.57" stroke="#3a3d40" stroke-width="0.6" fill="none"/><path d="M116.68,76.47 L113.18,74.75" stroke="#e6e8ea" stroke-width="0.9" fill="none"/><path d="M120.75,81.37 Q126.48,76.76 122.15,68.44 Q116.14,75.64 120.75,81.37Z" fill="#a4a9ae" stroke="#262626" stroke-width="0.8"/><path d="M120.75,81.37 L121.85,74.95" stroke="#3a3d40" stroke-width="0.6" fill="none"/><path d="M123.07,75.08 L123.49,71.20" stroke="#e6e8ea" stroke-width="0.9" fill="none"/><path d="M118.29,74.17 Q114.94,67.62 105.92,70.16 Q111.74,77.52 118.29,74.17Z" fill="#777c81" stroke="#262626" stroke-width="0.8"/><path d="M118.29,74.17 L112.23,71.79" stroke="#3a3d40" stroke-width="0.6" fill="none"/><path d="M112.60,70.62 L108.89,69.42" stroke="#e6e8ea" stroke-width="0.9" fill="none"/><path d="M117.33,74.89 Q122.35,69.51 116.87,61.90 Q111.95,69.88 117.33,74.89Z" fill="#a4a9ae" stroke="#262626" stroke-width="0.8"/><path d="M117.33,74.89 L117.50,68.38" stroke="#3a3d40" stroke-width="0.6" fill="none"/><path d="M118.73,68.34 L118.59,64.44" stroke="#e6e8ea" stroke-width="0.9" fill="none"/><path d="M113.94,68.22 Q109.67,62.24 101.12,66.08 Q107.96,72.49 113.94,68.22Z" fill="#777c81" stroke="#262626" stroke-width="0.8"/><path d="M113.94,68.22 L107.60,66.76" stroke="#3a3d40" stroke-width="0.6" fill="none"/><path d="M107.80,65.55 L103.95,64.91" stroke="#e6e8ea" stroke-width="0.9" fill="none"/><path d="M113.11,69.07 Q117.27,63.01 110.73,56.29 Q107.04,64.91 113.11,69.07Z" fill="#a4a9ae" stroke="#262626" stroke-width="0.8"/><path d="M113.11,69.07 L112.31,62.61" stroke="#3a3d40" stroke-width="0.6" fill="none"/><path d="M113.52,62.38 L112.80,58.55" stroke="#e6e8ea" stroke-width="0.9" fill="none"/><path d="M108.86,63.06 Q103.72,57.81 95.86,62.92 Q103.61,68.21 108.86,63.06Z" fill="#777c81" stroke="#262626" stroke-width="0.8"/><path d="M108.86,63.06 L102.37,62.59" stroke="#3a3d40" stroke-width="0.6" fill="none"/><path d="M102.38,61.37 L98.48,61.32" stroke="#e6e8ea" stroke-width="0.9" fill="none"/><path d="M108.17,64.03 Q111.35,57.40 103.85,51.77 Q101.54,60.85 108.17,64.03Z" fill="#a4a9ae" stroke="#262626" stroke-width="0.8"/><path d="M108.17,64.03 L106.39,57.77" stroke="#3a3d40" stroke-width="0.6" fill="none"/><path d="M107.54,57.36 L106.25,53.68" stroke="#e6e8ea" stroke-width="0.9" fill="none"/><path d="M81.00,147.00 Q76.20,142.60 69.00,147.00 Q76.20,151.40 81.00,147.00Z" fill="#a4a9ae" stroke="#262626" stroke-width="0.8"/><path d="M81.00,147.00 L75.00,146.60" stroke="#3a3d40" stroke-width="0.6" fill="none"/><path d="M75.00,145.62 L71.40,145.62" stroke="#e6e8ea" stroke-width="0.9" fill="none"/><path d="M81.00,147.00 Q85.80,151.40 93.00,147.00 Q85.80,142.60 81.00,147.00Z" fill="#a4a9ae" stroke="#262626" stroke-width="0.8"/><path d="M81.00,147.00 L87.00,147.40" stroke="#3a3d40" stroke-width="0.6" fill="none"/><path d="M87.00,148.38 L90.60,148.38" stroke="#e6e8ea" stroke-width="0.9" fill="none"/><path d="M75.80,147.60 Q71.00,143.20 63.80,147.60 Q71.00,152.00 75.80,147.60Z" fill="#8a8f94" stroke="#262626" stroke-width="0.8"/><path d="M75.80,147.60 L69.80,147.20" stroke="#3a3d40" stroke-width="0.6" fill="none"/><path d="M69.80,146.22 L66.20,146.22" stroke="#e6e8ea" stroke-width="0.9" fill="none"/><path d="M86.20,147.60 Q91.00,152.00 98.20,147.60 Q91.00,143.20 86.20,147.60Z" fill="#8a8f94" stroke="#262626" stroke-width="0.8"/><path d="M86.20,147.60 L92.20,148.00" stroke="#3a3d40" stroke-width="0.6" fill="none"/><path d="M92.20,148.97 L95.80,148.97" stroke="#e6e8ea" stroke-width="0.9" fill="none"/><path d="M70.60,148.20 Q65.80,143.80 58.60,148.20 Q65.80,152.60 70.60,148.20Z" fill="#a4a9ae" stroke="#262626" stroke-width="0.8"/><path d="M70.60,148.20 L64.60,147.80" stroke="#3a3d40" stroke-width="0.6" fill="none"/><path d="M64.60,146.82 L61.00,146.82" stroke="#e6e8ea" stroke-width="0.9" fill="none"/><path d="M91.40,148.20 Q96.20,152.60 103.40,148.20 Q96.20,143.80 91.40,148.20Z" fill="#a4a9ae" stroke="#262626" stroke-width="0.8"/><path d="M91.40,148.20 L97.40,148.60" stroke="#3a3d40" stroke-width="0.6" fill="none"/><path d="M97.40,149.57 L101.00,149.57" stroke="#e6e8ea" stroke-width="0.9" fill="none"/><path d="M65.40,148.80 Q60.60,144.40 53.40,148.80 Q60.60,153.20 65.40,148.80Z" fill="#8a8f94" stroke="#262626" stroke-width="0.8"/><path d="M65.40,148.80 L59.40,148.40" stroke="#3a3d40" stroke-width="0.6" fill="none"/><path d="M59.40,147.43 L55.80,147.43" stroke="#e6e8ea" stroke-width="0.9" fill="none"/><path d="M96.60,148.80 Q101.40,153.20 108.60,148.80 Q101.40,144.40 96.60,148.80Z" fill="#8a8f94" stroke="#262626" stroke-width="0.8"/><path d="M96.60,148.80 L102.60,149.20" stroke="#3a3d40" stroke-width="0.6" fill="none"/><path d="M102.60,150.18 L106.20,150.18" stroke="#e6e8ea" stroke-width="0.9" fill="none"/><path d="M60.20,149.40 Q55.40,145.00 48.20,149.40 Q55.40,153.80 60.20,149.40Z" fill="#a4a9ae" stroke="#262626" stroke-width="0.8"/><path d="M60.20,149.40 L54.20,149.00" stroke="#3a3d40" stroke-width="0.6" fill="none"/><path d="M54.20,148.03 L50.60,148.03" stroke="#e6e8ea" stroke-width="0.9" fill="none"/><path d="M101.80,149.40 Q106.60,153.80 113.80,149.40 Q106.60,145.00 101.80,149.40Z" fill="#a4a9ae" stroke="#262626" stroke-width="0.8"/><path d="M101.80,149.40 L107.80,149.80" stroke="#3a3d40" stroke-width="0.6" fill="none"/><path d="M107.80,150.78 L111.40,150.78" stroke="#e6e8ea" stroke-width="0.9" fill="none"/><path d="M75.00,159.00 L87.00,150.00 M87.00,159.00 L75.00,150.00" stroke="#222" stroke-width="1.3" fill="none"/><path d="M74.00,44.50 C66.00,42.50 55.00,48.00 46.50,58.50 L75.00,60.00 Z" fill="#a7aeb5" stroke="#262626" stroke-width="0.9"/><path d="M88.00,44.50 C96.00,42.50 107.00,48.00 115.50,58.50 L87.00,60.00 Z" fill="#a7aeb5" stroke="#262626" stroke-width="0.9"/><path d="M72.00,47.00 L69.00,58.50" stroke="#6d747a" stroke-width="0.6"/><path d="M90.00,47.00 L93.00,58.50" stroke="#6d747a" stroke-width="0.6"/><path d="M68.00,48.60 L65.00,58.50" stroke="#6d747a" stroke-width="0.6"/><path d="M94.00,48.60 L97.00,58.50" stroke="#6d747a" stroke-width="0.6"/><path d="M64.00,50.20 L61.00,58.50" stroke="#6d747a" stroke-width="0.6"/><path d="M98.00,50.20 L101.00,58.50" stroke="#6d747a" stroke-width="0.6"/><path d="M60.00,51.80 L57.00,58.50" stroke="#6d747a" stroke-width="0.6"/><path d="M102.00,51.80 L105.00,58.50" stroke="#6d747a" stroke-width="0.6"/><path d="M56.00,53.40 L53.00,58.50" stroke="#6d747a" stroke-width="0.6"/><path d="M106.00,53.40 L109.00,58.50" stroke="#6d747a" stroke-width="0.6"/><path d="M52.00,55.00 L49.00,58.50" stroke="#6d747a" stroke-width="0.6"/><path d="M110.00,55.00 L113.00,58.50" stroke="#6d747a" stroke-width="0.6"/><path d="M55.00,58.50 C61.00,55.00 67.00,55.00 72.00,58.00 Z" fill="#3f4a4d"/><path d="M107.00,58.50 C101.00,55.00 95.00,55.00 90.00,58.00 Z" fill="#3f4a4d"/><path d="M78.00,42.00 C74.00,37.00 68.00,36.50 68.50,39.50 C70.50,43.50 74.00,45.00 78.00,45.00 Z" fill="#b6bcc1" stroke="#262626" stroke-width="0.8"/><path d="M84.00,42.00 C88.00,37.00 94.00,36.50 93.50,39.50 C91.50,43.50 88.00,45.00 84.00,45.00 Z" fill="#b6bcc1" stroke="#262626" stroke-width="0.8"/><path d="M74.50,35.50 L74.50,30.00 C74.00,26.00 78.00,25.50 81.00,27.00 C84.00,25.50 88.00,26.00 87.50,30.00 L87.50,35.50 Z" fill="#a9aeb3" stroke="#333" stroke-width="0.8"/><circle cx="81" cy="25.2" r="1.3" fill="#444"/><rect x="76" y="31" width="10" height="2.2" fill="#8fc1bb"/><path d="M81.00,35.50 L74.50,50.00 L81.00,62.00 L87.50,50.00 Z" fill="#c9434f" stroke="#8a2a30" stroke-width="0.6"/><path d="M81.00,45.00 L77.80,50.00 L81.00,55.00 L84.20,50.00 Z" fill="#f4e2e2"/><path d="M48.00,59.00 L114.00,59.00 L113.00,71.00 L49.00,71.00 Z" fill="#ecebdc"/><path d="M48.00,59.60 L114.00,59.60" stroke="#3a3a30" stroke-width="1"/><path d="M49.00,63.00 Q65.00,61.50 81.00,64.00 Q97.00,61.50 113.00,63.00" stroke="#9c8420" stroke-width="1.3" fill="none"/><path d="M50.00,69.00 Q65.00,67.50 81.00,70.00 Q97.00,67.50 112.00,69.00" stroke="#b09428" stroke-width="1.4" fill="none"/><path d="M51.00,66.00 L57.00,65.00 M105.00,65.00 L111.00,66.00" stroke="#555" stroke-width="0.8"/><path d="M53.50,70.50 L59.50,62.00 L65.50,70.50 Z" fill="#ecc232"/><path d="M108.50,70.50 L102.50,62.00 L96.50,70.50 Z" fill="#ecc232"/><circle cx="59.5" cy="62.3" r="1.5" fill="#ecc232"/><circle cx="102.5" cy="62.3" r="1.5" fill="#ecc232"/><ellipse cx="70" cy="66" rx="4" ry="2" fill="#ffffff" stroke="#888" stroke-width="0.4"/><ellipse cx="92" cy="66" rx="4" ry="2" fill="#ffffff" stroke="#888" stroke-width="0.4"/><rect x="76.5" y="60" width="9" height="8" fill="#a9c7c4" opacity="0.85"/><ellipse cx="81" cy="69" rx="4" ry="2" fill="#d6b43a"/><path d="M45.00,79.00 L45.00,73.00 C55.00,68.50 69.00,68.50 81.00,71.50 C93.00,68.50 107.00,68.50 117.00,73.00 L117.00,79.00 Z" fill="#fbfbfb" stroke="#8a8a8a" stroke-width="0.6"/><path d="M46.00,79.50 C53.00,74.00 61.00,72.00 65.00,72.60 C73.00,73.00 78.00,74.00 81.00,76.00 C84.00,74.00 89.00,73.00 97.00,72.60 C101.00,72.00 109.00,74.00 116.00,79.50 L111.00,142.00 C105.00,144.00 97.00,141.50 89.00,141.00 C85.00,140.50 81.00,141.00 81.00,141.00 C81.00,141.00 77.00,140.50 73.00,141.00 C65.00,141.50 57.00,144.00 51.00,142.00 Z" fill="#060606"/><path d="M50.00,136.00 L112.00,136.00 L112.00,145.00 C101.00,143.00 91.00,147.00 81.00,146.00 C71.00,147.00 61.00,143.00 50.00,145.00 Z" fill="#060606"/><ellipse cx="53" cy="145.5" rx="5.5" ry="3.6" fill="#060606"/><ellipse cx="109" cy="145.5" rx="5.5" ry="3.6" fill="#060606"/><path d="M43.50,78.00 L47.50,78.00 L54.50,139.00 L50.50,139.00 Z" fill="#bfc4cb" stroke="#444" stroke-width="0.5"/><path d="M118.50,78.00 L114.50,78.00 L107.50,139.00 L111.50,139.00 Z" fill="#bfc4cb" stroke="#444" stroke-width="0.5"/><path d="M58.00,110.50 L60.89,107.74 L58.58,104.27 L61.90,102.36 L60.28,98.35 L63.86,97.39 L63.02,93.04 L66.69,93.08 L66.66,88.61 L70.23,89.64 L71.02,85.27 L74.32,87.24 L75.88,83.20 L78.73,86.01 L81.00,82.50 L83.27,86.01 L86.12,83.20 L87.68,87.24 L90.98,85.27 L91.77,89.64 L95.34,88.61 L95.31,93.08 L98.98,93.04 L98.14,97.39 L101.72,98.35 L100.10,102.36 L103.42,104.27 L101.11,107.74 L104.00,110.50 Z" fill="#f0e81e"/><path d="M68.5,112.5 A12.5 13 0 0 1 93.5,112.5 Z" fill="#4a5aa6"/><path d="M58,124.5 L75,120.5 M104,124.5 L87,120.5" stroke="#b8b8c0" stroke-width="2.2"/><path d="M61,134.5 L75,130.5 M101,134.5 L87,130.5" stroke="#b8b8c0" stroke-width="1.8"/><path d="M54,109.5 L59,107.5 L62,122.5 L57,123.5 Z" fill="#b8b8c0"/><path d="M108,109.5 L103,107.5 L100,122.5 L105,123.5 Z" fill="#b8b8c0"/><path d="M75,108.5 L87,108.5 L87,132.5 L86,135.5 L76,135.5 L75,132.5 Z" fill="#b8b8c0"/><ellipse cx="81" cy="113.5" rx="2.6" ry="4" fill="#dc2a1c"/><ellipse cx="81" cy="119.5" rx="2.6" ry="2.6" fill="#f4d41c"/><circle cx="75" cy="108.5" r="1.8" fill="#c8304a"/><circle cx="87" cy="108.5" r="1.8" fill="#c8304a"/><path d="M78.8,106.5 L81,101.5 L83.2,106.5 Z" fill="#f09a3a"/></g></svg>
</body></html>
